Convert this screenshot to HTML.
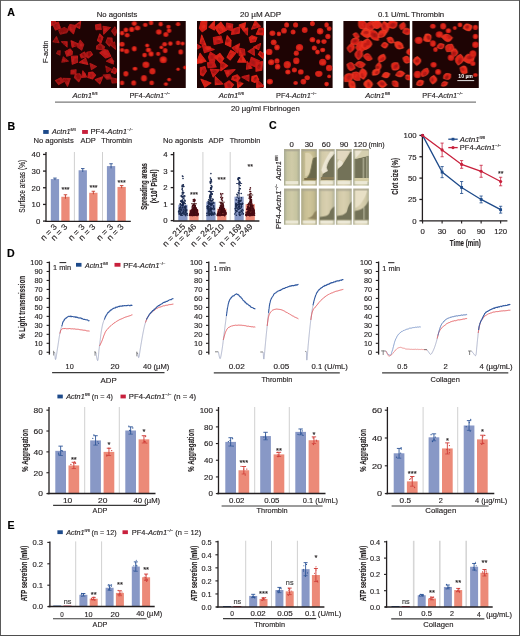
<!DOCTYPE html>
<html><head><meta charset="utf-8"><style>
html,body{margin:0;padding:0;background:#fff;width:520px;height:636px;overflow:hidden}
svg{display:block;will-change:transform}
text{font-family:"Liberation Sans", sans-serif}
</style></head><body>
<svg width="520" height="636" viewBox="0 0 520 636">
<rect x="0" y="0" width="520" height="636" fill="#fff"/>
<line x1="0.00" y1="0.50" x2="520.00" y2="0.50" stroke="#6c6c6c" stroke-width="1"/>
<line x1="0.50" y1="0.00" x2="0.50" y2="636.00" stroke="#5a5a5a" stroke-width="1"/>
<line x1="519.50" y1="0.00" x2="519.50" y2="636.00" stroke="#4e4e4e" stroke-width="1"/>
<line x1="0.00" y1="635.50" x2="520.00" y2="635.50" stroke="#4e4e4e" stroke-width="1"/>
<text x="7.20" y="16.00" font-size="10.6" fill="#000" stroke="#000" stroke-width="0.15" font-weight="bold">A</text>
<text x="7.60" y="129.80" font-size="10.6" fill="#000" stroke="#000" stroke-width="0.15" font-weight="bold">B</text>
<text x="268.90" y="129.00" font-size="10.6" fill="#000" stroke="#000" stroke-width="0.15" font-weight="bold">C</text>
<text x="7.00" y="257.00" font-size="10.6" fill="#000" stroke="#000" stroke-width="0.15" font-weight="bold">D</text>
<text x="7.60" y="528.90" font-size="10.6" fill="#000" stroke="#000" stroke-width="0.15" font-weight="bold">E</text>
<defs><filter id="blr" x="-5%" y="-5%" width="110%" height="110%"><feGaussianBlur stdDeviation="0.6"/></filter><filter id="blr2" x="-5%" y="-5%" width="110%" height="110%"><feGaussianBlur stdDeviation="0.8"/></filter></defs>
<defs><radialGradient id="rc"><stop offset="0" stop-color="#ee3a1e"/><stop offset="0.55" stop-color="#dc261a"/><stop offset="1" stop-color="#b81616"/></radialGradient><radialGradient id="sc"><stop offset="0" stop-color="#d82018"/><stop offset="0.7" stop-color="#c81818"/><stop offset="1" stop-color="#a81010"/></radialGradient></defs>
<svg x="51.00" y="21.00" width="66.00" height="67.00" viewBox="0 0 66.00 67.00" overflow="hidden"><rect width="66.00" height="67.00" fill="#1e0404"/><g filter="url(#blr)"><polygon points="-0.85,-4.78 4.04,-0.33 0.56,3.45 -5.79,-0.74" fill="#b41818" stroke="#b41818" stroke-width="1.1" stroke-linejoin="round" transform="translate(5.71 5.71) rotate(31)"/><ellipse cx="-0.53" cy="-0.46" rx="2.42" ry="1.73" fill="#7a0c0c" opacity="0.5" transform="translate(5.71 5.71) rotate(31)"/><ellipse cx="1.48" cy="-0.86" rx="2.55" ry="1.82" fill="#c82020" opacity="0.5" transform="translate(5.71 5.71) rotate(31)"/><polygon points="-1.61,2.94 -5.41,-0.21 -3.26,-2.72 3.21,-3.16 4.24,0.77" fill="#9c1414" stroke="#9c1414" stroke-width="1.1" stroke-linejoin="round" transform="translate(12.06 9.52) rotate(172)"/><ellipse cx="-1.58" cy="0.30" rx="2.46" ry="1.76" fill="#8a0e0e" opacity="0.5" transform="translate(12.06 9.52) rotate(172)"/><ellipse cx="1.41" cy="-0.21" rx="2.11" ry="1.51" fill="#7a0c0c" opacity="0.5" transform="translate(12.06 9.52) rotate(172)"/><polygon points="-2.57,-3.94 5.80,-1.69 0.40,3.93 -3.48,2.05" fill="#b41818" stroke="#b41818" stroke-width="1.1" stroke-linejoin="round" transform="translate(20.94 6.98) rotate(91)"/><ellipse cx="-0.68" cy="-0.15" rx="1.85" ry="1.32" fill="#8a0e0e" opacity="0.5" transform="translate(20.94 6.98) rotate(91)"/><ellipse cx="0.73" cy="0.61" rx="2.15" ry="1.53" fill="#c82020" opacity="0.5" transform="translate(20.94 6.98) rotate(91)"/><polygon points="4.04,0.75 -3.59,2.03 0.23,-3.88" fill="#bc1a1a" stroke="#bc1a1a" stroke-width="1.1" stroke-linejoin="round" transform="translate(27.28 3.81) rotate(155)"/><ellipse cx="0.06" cy="-0.53" rx="2.05" ry="1.46" fill="#8a0e0e" opacity="0.5" transform="translate(27.28 3.81) rotate(155)"/><ellipse cx="0.17" cy="-0.31" rx="1.34" ry="0.96" fill="#7a0c0c" opacity="0.5" transform="translate(27.28 3.81) rotate(155)"/><polygon points="3.31,1.20 -2.91,1.89 0.19,-3.81" fill="#9c1414" stroke="#9c1414" stroke-width="1.1" stroke-linejoin="round" transform="translate(5.08 19.04) rotate(130)"/><ellipse cx="1.22" cy="-0.93" rx="1.94" ry="1.38" fill="#7a0c0c" opacity="0.5" transform="translate(5.08 19.04) rotate(130)"/><ellipse cx="0.84" cy="0.75" rx="1.54" ry="1.10" fill="#7a0c0c" opacity="0.5" transform="translate(5.08 19.04) rotate(130)"/><polygon points="3.96,1.62 -3.68,0.93 0.83,-2.53" fill="#b41818" stroke="#b41818" stroke-width="1.1" stroke-linejoin="round" transform="translate(13.96 22.21) rotate(38)"/><ellipse cx="-0.11" cy="-0.48" rx="1.85" ry="1.32" fill="#c82020" opacity="0.5" transform="translate(13.96 22.21) rotate(38)"/><ellipse cx="-0.21" cy="0.51" rx="2.07" ry="1.48" fill="#7a0c0c" opacity="0.5" transform="translate(13.96 22.21) rotate(38)"/><polygon points="0.39,3.54 -4.98,-0.04 3.44,-3.74" fill="#bc1a1a" stroke="#bc1a1a" stroke-width="1.1" stroke-linejoin="round" transform="translate(23.48 23.48) rotate(47)"/><ellipse cx="1.76" cy="0.12" rx="1.85" ry="1.32" fill="#7a0c0c" opacity="0.5" transform="translate(23.48 23.48) rotate(47)"/><ellipse cx="0.55" cy="-0.58" rx="2.29" ry="1.63" fill="#8a0e0e" opacity="0.5" transform="translate(23.48 23.48) rotate(47)"/><polygon points="4.86,1.48 0.18,3.75 -4.67,-1.63 0.93,-2.88" fill="#a81616" stroke="#a81616" stroke-width="1.1" stroke-linejoin="round" transform="translate(29.82 24.11) rotate(63)"/><ellipse cx="0.57" cy="0.35" rx="1.34" ry="0.96" fill="#c82020" opacity="0.5" transform="translate(29.82 24.11) rotate(63)"/><ellipse cx="0.02" cy="-0.63" rx="1.67" ry="1.19" fill="#c82020" opacity="0.5" transform="translate(29.82 24.11) rotate(63)"/><polygon points="3.40,-2.28 2.72,2.71 -2.93,2.71 -3.81,-0.70 -1.88,-3.36" fill="#b41818" stroke="#b41818" stroke-width="1.1" stroke-linejoin="round" transform="translate(17.77 31.73) rotate(152)"/><ellipse cx="-1.37" cy="0.59" rx="2.06" ry="1.47" fill="#c82020" opacity="0.5" transform="translate(17.77 31.73) rotate(152)"/><ellipse cx="1.09" cy="-0.80" rx="1.65" ry="1.18" fill="#c82020" opacity="0.5" transform="translate(17.77 31.73) rotate(152)"/><polygon points="-1.57,3.08 -1.91,-2.32 4.24,0.10" fill="#9c1414" stroke="#9c1414" stroke-width="1.1" stroke-linejoin="round" transform="translate(13.32 38.71) rotate(19)"/><ellipse cx="-0.95" cy="0.79" rx="1.85" ry="1.32" fill="#8a0e0e" opacity="0.5" transform="translate(13.32 38.71) rotate(19)"/><ellipse cx="-0.33" cy="0.70" rx="1.60" ry="1.14" fill="#c82020" opacity="0.5" transform="translate(13.32 38.71) rotate(19)"/><polygon points="-0.09,5.02 -5.09,1.52 -1.16,-3.40 4.15,-1.61" fill="#bc1a1a" stroke="#bc1a1a" stroke-width="1.1" stroke-linejoin="round" transform="translate(23.48 39.34) rotate(141)"/><ellipse cx="1.14" cy="0.56" rx="1.97" ry="1.41" fill="#c82020" opacity="0.5" transform="translate(23.48 39.34) rotate(141)"/><ellipse cx="-0.88" cy="-1.08" rx="2.56" ry="1.83" fill="#8a0e0e" opacity="0.5" transform="translate(23.48 39.34) rotate(141)"/><polygon points="-2.83,-3.14 5.36,-0.11 -1.41,3.18" fill="#bc1a1a" stroke="#bc1a1a" stroke-width="1.1" stroke-linejoin="round" transform="translate(33.63 40.61) rotate(173)"/><ellipse cx="1.10" cy="-0.82" rx="1.92" ry="1.37" fill="#c82020" opacity="0.5" transform="translate(33.63 40.61) rotate(173)"/><ellipse cx="-0.57" cy="0.79" rx="2.07" ry="1.48" fill="#8a0e0e" opacity="0.5" transform="translate(33.63 40.61) rotate(173)"/><polygon points="2.74,1.97 -1.63,2.77 -3.32,-0.55 -0.99,-3.34 3.49,-0.13" fill="#b41818" stroke="#b41818" stroke-width="1.1" stroke-linejoin="round" transform="translate(38.07 33.63) rotate(107)"/><ellipse cx="0.05" cy="-0.04" rx="1.87" ry="1.33" fill="#8a0e0e" opacity="0.5" transform="translate(38.07 33.63) rotate(107)"/><ellipse cx="-1.19" cy="0.07" rx="2.20" ry="1.57" fill="#7a0c0c" opacity="0.5" transform="translate(38.07 33.63) rotate(107)"/><polygon points="-3.48,1.72 1.70,-3.10 2.79,2.60" fill="#a81616" stroke="#a81616" stroke-width="1.1" stroke-linejoin="round" transform="translate(41.88 45.05) rotate(69)"/><ellipse cx="-0.50" cy="0.44" rx="1.73" ry="1.24" fill="#8a0e0e" opacity="0.5" transform="translate(41.88 45.05) rotate(69)"/><ellipse cx="-0.98" cy="0.32" rx="1.58" ry="1.13" fill="#c82020" opacity="0.5" transform="translate(41.88 45.05) rotate(69)"/><polygon points="-0.89,3.82 -3.68,1.66 -2.24,-2.57 1.10,-3.05 4.85,1.45" fill="#a81616" stroke="#a81616" stroke-width="1.1" stroke-linejoin="round" transform="translate(27.28 55.84) rotate(67)"/><ellipse cx="-0.13" cy="0.26" rx="2.50" ry="1.78" fill="#8a0e0e" opacity="0.5" transform="translate(27.28 55.84) rotate(67)"/><ellipse cx="-0.31" cy="-0.39" rx="2.58" ry="1.84" fill="#8a0e0e" opacity="0.5" transform="translate(27.28 55.84) rotate(67)"/><polygon points="0.95,-3.37 3.26,1.25 -3.37,2.54" fill="#b41818" stroke="#b41818" stroke-width="1.1" stroke-linejoin="round" transform="translate(32.99 53.93) rotate(111)"/><ellipse cx="-0.57" cy="-0.03" rx="2.17" ry="1.55" fill="#c82020" opacity="0.5" transform="translate(32.99 53.93) rotate(111)"/><ellipse cx="-0.24" cy="-0.87" rx="1.58" ry="1.13" fill="#c82020" opacity="0.5" transform="translate(32.99 53.93) rotate(111)"/><polygon points="-0.54,-4.01 3.35,-1.05 1.95,3.71 -2.91,3.01 -3.44,-1.11" fill="#bc1a1a" stroke="#bc1a1a" stroke-width="1.1" stroke-linejoin="round" transform="translate(40.61 54.57) rotate(92)"/><ellipse cx="0.87" cy="0.24" rx="2.19" ry="1.56" fill="#c82020" opacity="0.5" transform="translate(40.61 54.57) rotate(92)"/><ellipse cx="0.10" cy="0.45" rx="1.89" ry="1.35" fill="#8a0e0e" opacity="0.5" transform="translate(40.61 54.57) rotate(92)"/><polygon points="4.47,2.26 -4.64,1.56 -0.27,-4.31" fill="#a81616" stroke="#a81616" stroke-width="1.1" stroke-linejoin="round" transform="translate(15.86 60.28) rotate(56)"/><ellipse cx="1.58" cy="0.01" rx="2.02" ry="1.44" fill="#c82020" opacity="0.5" transform="translate(15.86 60.28) rotate(56)"/><ellipse cx="-1.04" cy="0.14" rx="2.49" ry="1.78" fill="#8a0e0e" opacity="0.5" transform="translate(15.86 60.28) rotate(56)"/><polygon points="4.14,0.93 -1.12,3.92 -4.46,-0.21 0.91,-2.92" fill="#a81616" stroke="#a81616" stroke-width="1.1" stroke-linejoin="round" transform="translate(8.88 59.64) rotate(0)"/><ellipse cx="-0.96" cy="0.65" rx="1.59" ry="1.13" fill="#7a0c0c" opacity="0.5" transform="translate(8.88 59.64) rotate(0)"/><ellipse cx="-1.27" cy="-0.20" rx="1.43" ry="1.02" fill="#8a0e0e" opacity="0.5" transform="translate(8.88 59.64) rotate(0)"/><polygon points="2.64,-2.88 3.06,3.50 -4.39,0.39" fill="#b41818" stroke="#b41818" stroke-width="1.1" stroke-linejoin="round" transform="translate(48.86 59.01) rotate(137)"/><ellipse cx="0.77" cy="-0.06" rx="2.05" ry="1.46" fill="#7a0c0c" opacity="0.5" transform="translate(48.86 59.01) rotate(137)"/><ellipse cx="-1.30" cy="0.54" rx="1.51" ry="1.08" fill="#c82020" opacity="0.5" transform="translate(48.86 59.01) rotate(137)"/><polygon points="-0.46,2.65 -5.26,-0.65 1.09,-2.83 3.93,1.09" fill="#9c1414" stroke="#9c1414" stroke-width="1.1" stroke-linejoin="round" transform="translate(57.11 55.84) rotate(13)"/><ellipse cx="-0.65" cy="-0.13" rx="2.47" ry="1.77" fill="#c82020" opacity="0.5" transform="translate(57.11 55.84) rotate(13)"/><ellipse cx="-1.47" cy="0.83" rx="1.53" ry="1.09" fill="#c82020" opacity="0.5" transform="translate(57.11 55.84) rotate(13)"/><polygon points="-2.50,-2.11 1.70,-2.29 2.73,2.96 -2.81,1.82" fill="#9c1414" stroke="#9c1414" stroke-width="1.1" stroke-linejoin="round" transform="translate(62.82 59.64) rotate(177)"/><ellipse cx="-1.22" cy="-0.71" rx="2.05" ry="1.47" fill="#8a0e0e" opacity="0.5" transform="translate(62.82 59.64) rotate(177)"/><ellipse cx="0.96" cy="0.44" rx="2.04" ry="1.46" fill="#7a0c0c" opacity="0.5" transform="translate(62.82 59.64) rotate(177)"/><polygon points="0.09,-3.37 3.74,0.71 -0.32,3.94 -3.57,0.46" fill="#bc1a1a" stroke="#bc1a1a" stroke-width="1.1" stroke-linejoin="round" transform="translate(47.59 5.71) rotate(36)"/><ellipse cx="-0.52" cy="-0.11" rx="1.78" ry="1.27" fill="#7a0c0c" opacity="0.5" transform="translate(47.59 5.71) rotate(36)"/><ellipse cx="-0.73" cy="-0.30" rx="1.68" ry="1.20" fill="#c82020" opacity="0.5" transform="translate(47.59 5.71) rotate(36)"/><polygon points="-4.55,-2.52 4.85,-1.79 -0.52,3.80" fill="#b41818" stroke="#b41818" stroke-width="1.1" stroke-linejoin="round" transform="translate(54.57 8.25) rotate(131)"/><ellipse cx="0.27" cy="0.16" rx="1.83" ry="1.31" fill="#c82020" opacity="0.5" transform="translate(54.57 8.25) rotate(131)"/><ellipse cx="0.36" cy="0.13" rx="1.97" ry="1.41" fill="#c82020" opacity="0.5" transform="translate(54.57 8.25) rotate(131)"/><polygon points="0.63,-2.55 5.06,-0.90 0.82,2.82 -3.65,-0.19" fill="#9c1414" stroke="#9c1414" stroke-width="1.1" stroke-linejoin="round" transform="translate(63.45 9.52) rotate(95)"/><ellipse cx="-1.08" cy="-0.05" rx="1.51" ry="1.08" fill="#7a0c0c" opacity="0.5" transform="translate(63.45 9.52) rotate(95)"/><ellipse cx="0.17" cy="0.40" rx="1.76" ry="1.26" fill="#8a0e0e" opacity="0.5" transform="translate(63.45 9.52) rotate(95)"/><polygon points="-4.19,0.69 -0.74,-2.51 4.90,-0.35 2.30,3.04" fill="#bc1a1a" stroke="#bc1a1a" stroke-width="1.1" stroke-linejoin="round" transform="translate(49.49 17.13) rotate(89)"/><ellipse cx="0.19" cy="0.43" rx="1.51" ry="1.08" fill="#7a0c0c" opacity="0.5" transform="translate(49.49 17.13) rotate(89)"/><ellipse cx="0.49" cy="0.76" rx="2.24" ry="1.60" fill="#8a0e0e" opacity="0.5" transform="translate(49.49 17.13) rotate(89)"/><polygon points="2.44,-3.29 4.98,0.27 0.56,2.94 -3.66,0.36 -2.60,-3.83" fill="#a81616" stroke="#a81616" stroke-width="1.1" stroke-linejoin="round" transform="translate(57.74 20.30) rotate(79)"/><ellipse cx="0.12" cy="0.10" rx="2.41" ry="1.72" fill="#8a0e0e" opacity="0.5" transform="translate(57.74 20.30) rotate(79)"/><ellipse cx="0.73" cy="-0.83" rx="2.55" ry="1.82" fill="#8a0e0e" opacity="0.5" transform="translate(57.74 20.30) rotate(79)"/><polygon points="-3.61,2.25 -1.66,-2.71 4.17,1.72" fill="#9c1414" stroke="#9c1414" stroke-width="1.1" stroke-linejoin="round" transform="translate(62.82 24.11) rotate(45)"/><ellipse cx="-0.84" cy="-0.16" rx="2.13" ry="1.52" fill="#8a0e0e" opacity="0.5" transform="translate(62.82 24.11) rotate(45)"/><ellipse cx="0.19" cy="-0.35" rx="1.40" ry="1.00" fill="#8a0e0e" opacity="0.5" transform="translate(62.82 24.11) rotate(45)"/><polygon points="-0.88,-3.54 4.43,-1.62 4.40,1.74 -2.67,2.80 -3.40,0.11" fill="#a81616" stroke="#a81616" stroke-width="1.1" stroke-linejoin="round" transform="translate(48.86 26.02) rotate(18)"/><ellipse cx="-0.43" cy="-0.89" rx="1.93" ry="1.38" fill="#8a0e0e" opacity="0.5" transform="translate(48.86 26.02) rotate(18)"/><ellipse cx="0.50" cy="0.55" rx="1.96" ry="1.40" fill="#7a0c0c" opacity="0.5" transform="translate(48.86 26.02) rotate(18)"/><polygon points="-1.94,-3.39 1.47,-3.44 5.72,1.93 1.01,4.50 -5.75,0.51" fill="#bc1a1a" stroke="#bc1a1a" stroke-width="1.1" stroke-linejoin="round" transform="translate(54.57 32.36) rotate(11)"/><ellipse cx="0.07" cy="0.31" rx="2.18" ry="1.56" fill="#c82020" opacity="0.5" transform="translate(54.57 32.36) rotate(11)"/><ellipse cx="-1.54" cy="-0.72" rx="2.21" ry="1.58" fill="#c82020" opacity="0.5" transform="translate(54.57 32.36) rotate(11)"/><polygon points="-3.84,2.84 -1.48,-2.97 3.45,1.34" fill="#a81616" stroke="#a81616" stroke-width="1.1" stroke-linejoin="round" transform="translate(60.28 39.97) rotate(34)"/><ellipse cx="1.01" cy="-0.73" rx="2.06" ry="1.47" fill="#c82020" opacity="0.5" transform="translate(60.28 39.97) rotate(34)"/><ellipse cx="0.61" cy="-0.03" rx="2.40" ry="1.72" fill="#c82020" opacity="0.5" transform="translate(60.28 39.97) rotate(34)"/><polygon points="-3.15,-1.58 3.28,-2.19 1.33,2.79" fill="#9c1414" stroke="#9c1414" stroke-width="1.1" stroke-linejoin="round" transform="translate(56.47 48.22) rotate(34)"/><ellipse cx="0.29" cy="0.75" rx="1.98" ry="1.42" fill="#8a0e0e" opacity="0.5" transform="translate(56.47 48.22) rotate(34)"/><ellipse cx="0.87" cy="-0.89" rx="2.25" ry="1.61" fill="#8a0e0e" opacity="0.5" transform="translate(56.47 48.22) rotate(34)"/><polygon points="2.44,-2.10 2.93,2.06 -2.33,2.00 -2.08,-2.51" fill="#bc1a1a" stroke="#bc1a1a" stroke-width="1.1" stroke-linejoin="round" transform="translate(63.45 49.49) rotate(119)"/><ellipse cx="-0.53" cy="0.68" rx="1.86" ry="1.33" fill="#8a0e0e" opacity="0.5" transform="translate(63.45 49.49) rotate(119)"/><ellipse cx="0.80" cy="0.32" rx="1.73" ry="1.24" fill="#8a0e0e" opacity="0.5" transform="translate(63.45 49.49) rotate(119)"/><polygon points="1.59,-2.45 2.49,1.45 -2.11,2.92 -3.04,-0.51" fill="#b41818" stroke="#b41818" stroke-width="1.1" stroke-linejoin="round" transform="translate(22.84 50.76) rotate(17)"/><ellipse cx="0.65" cy="-0.52" rx="1.45" ry="1.03" fill="#8a0e0e" opacity="0.5" transform="translate(22.84 50.76) rotate(17)"/><ellipse cx="0.15" cy="-0.39" rx="1.49" ry="1.06" fill="#c82020" opacity="0.5" transform="translate(22.84 50.76) rotate(17)"/><polygon points="3.61,-1.49 0.53,3.37 -2.70,1.95 -1.39,-3.10" fill="#b41818" stroke="#b41818" stroke-width="1.1" stroke-linejoin="round" transform="translate(32.36 34.26) rotate(45)"/><ellipse cx="-1.00" cy="-0.64" rx="1.51" ry="1.08" fill="#8a0e0e" opacity="0.5" transform="translate(32.36 34.26) rotate(45)"/><ellipse cx="0.40" cy="0.03" rx="1.60" ry="1.14" fill="#8a0e0e" opacity="0.5" transform="translate(32.36 34.26) rotate(45)"/><polygon points="-2.93,-0.53 0.33,-2.18 3.87,0.23 -0.02,2.37" fill="#bc1a1a" stroke="#bc1a1a" stroke-width="1.1" stroke-linejoin="round" transform="translate(2.54 1.27) rotate(117)"/><ellipse cx="0.23" cy="-0.44" rx="1.69" ry="1.21" fill="#c82020" opacity="0.5" transform="translate(2.54 1.27) rotate(117)"/><ellipse cx="0.29" cy="-0.47" rx="1.37" ry="0.98" fill="#7a0c0c" opacity="0.5" transform="translate(2.54 1.27) rotate(117)"/><polygon points="2.29,1.40 -1.30,1.77 -1.62,-1.12 0.41,-2.45" fill="#9c1414" stroke="#9c1414" stroke-width="1.1" stroke-linejoin="round" transform="translate(7.61 31.73) rotate(30)"/><ellipse cx="0.07" cy="0.05" rx="1.07" ry="0.77" fill="#8a0e0e" opacity="0.5" transform="translate(7.61 31.73) rotate(30)"/><ellipse cx="-0.80" cy="-0.37" rx="1.07" ry="0.76" fill="#8a0e0e" opacity="0.5" transform="translate(7.61 31.73) rotate(30)"/></g></svg>
<svg x="119.50" y="21.00" width="66.50" height="67.00" viewBox="0 0 66.50 67.00" overflow="hidden"><rect width="66.50" height="67.00" fill="#1e0404"/><g filter="url(#blr)"><ellipse cx="14.8" cy="2.6" rx="2.6" ry="2.3" fill="url(#rc)"/><ellipse cx="15.4" cy="3.1" rx="1.2" ry="0.9" fill="#e83420" opacity="0.4"/><ellipse cx="12.2" cy="8.4" rx="2.6" ry="2.7" fill="url(#rc)"/><ellipse cx="12.4" cy="8.9" rx="1.2" ry="1.1" fill="#e83420" opacity="0.4"/><ellipse cx="18.0" cy="7.1" rx="2.9" ry="2.5" fill="url(#rc)"/><ellipse cx="18.6" cy="6.6" rx="1.3" ry="1.0" fill="#c01818" opacity="0.4"/><ellipse cx="6.4" cy="9.0" rx="2.4" ry="2.4" fill="url(#rc)"/><ellipse cx="6.5" cy="8.7" rx="1.1" ry="1.0" fill="#e83420" opacity="0.4"/><ellipse cx="2.6" cy="12.2" rx="2.2" ry="2.4" fill="url(#rc)"/><ellipse cx="2.5" cy="11.7" rx="1.0" ry="1.0" fill="#e83420" opacity="0.4"/><ellipse cx="7.7" cy="14.2" rx="2.5" ry="2.3" fill="url(#rc)"/><ellipse cx="8.1" cy="14.4" rx="1.1" ry="0.9" fill="#b01414" opacity="0.4"/><ellipse cx="25.8" cy="3.9" rx="2.4" ry="2.1" fill="url(#rc)"/><ellipse cx="26.1" cy="3.5" rx="1.1" ry="0.9" fill="#c01818" opacity="0.4"/><ellipse cx="31.6" cy="1.9" rx="2.3" ry="2.3" fill="url(#rc)"/><ellipse cx="31.0" cy="1.9" rx="1.0" ry="0.9" fill="#b01414" opacity="0.4"/><ellipse cx="41.2" cy="3.2" rx="2.2" ry="2.4" fill="url(#rc)"/><ellipse cx="41.1" cy="3.1" rx="1.0" ry="1.0" fill="#e83420" opacity="0.4"/><ellipse cx="49.0" cy="5.8" rx="2.3" ry="2.1" fill="url(#rc)"/><ellipse cx="48.4" cy="5.4" rx="1.1" ry="0.8" fill="#c01818" opacity="0.4"/><ellipse cx="49.6" cy="9.7" rx="2.4" ry="2.2" fill="url(#rc)"/><ellipse cx="50.2" cy="10.1" rx="1.1" ry="0.9" fill="#b01414" opacity="0.4"/><ellipse cx="58.6" cy="3.2" rx="2.3" ry="2.1" fill="url(#rc)"/><ellipse cx="59.0" cy="3.2" rx="1.1" ry="0.8" fill="#c01818" opacity="0.4"/><ellipse cx="39.3" cy="11.0" rx="2.9" ry="2.8" fill="url(#rc)"/><ellipse cx="38.7" cy="10.5" rx="1.3" ry="1.1" fill="#c01818" opacity="0.4"/><ellipse cx="46.4" cy="13.5" rx="2.6" ry="2.5" fill="url(#rc)"/><ellipse cx="46.6" cy="13.5" rx="1.2" ry="1.0" fill="#c01818" opacity="0.4"/><ellipse cx="2.6" cy="23.2" rx="2.6" ry="2.5" fill="url(#rc)"/><ellipse cx="2.7" cy="23.1" rx="1.2" ry="1.0" fill="#b01414" opacity="0.4"/><ellipse cx="7.1" cy="30.3" rx="2.6" ry="2.5" fill="url(#rc)"/><ellipse cx="7.4" cy="30.6" rx="1.2" ry="1.0" fill="#b01414" opacity="0.4"/><ellipse cx="14.8" cy="27.7" rx="2.5" ry="2.7" fill="url(#rc)"/><ellipse cx="14.4" cy="28.3" rx="1.1" ry="1.1" fill="#e83420" opacity="0.4"/><ellipse cx="2.6" cy="29.0" rx="2.3" ry="2.0" fill="url(#rc)"/><ellipse cx="2.6" cy="29.2" rx="1.0" ry="0.8" fill="#e83420" opacity="0.4"/><ellipse cx="27.7" cy="24.5" rx="2.1" ry="1.9" fill="url(#rc)"/><ellipse cx="27.9" cy="24.3" rx="0.9" ry="0.8" fill="#e83420" opacity="0.4"/><ellipse cx="29.0" cy="29.0" rx="2.7" ry="2.3" fill="url(#rc)"/><ellipse cx="28.6" cy="28.5" rx="1.2" ry="0.9" fill="#e83420" opacity="0.4"/><ellipse cx="25.1" cy="34.1" rx="2.4" ry="2.4" fill="url(#rc)"/><ellipse cx="25.7" cy="33.8" rx="1.1" ry="0.9" fill="#c01818" opacity="0.4"/><ellipse cx="31.6" cy="32.9" rx="2.6" ry="2.7" fill="url(#rc)"/><ellipse cx="31.5" cy="32.9" rx="1.2" ry="1.1" fill="#e83420" opacity="0.4"/><ellipse cx="38.7" cy="32.9" rx="2.2" ry="2.1" fill="url(#rc)"/><ellipse cx="38.9" cy="32.9" rx="1.0" ry="0.9" fill="#b01414" opacity="0.4"/><ellipse cx="41.9" cy="26.4" rx="2.0" ry="1.8" fill="url(#rc)"/><ellipse cx="41.4" cy="26.2" rx="0.9" ry="0.7" fill="#e83420" opacity="0.4"/><ellipse cx="45.1" cy="23.2" rx="2.5" ry="2.2" fill="url(#rc)"/><ellipse cx="44.6" cy="22.9" rx="1.1" ry="0.9" fill="#c01818" opacity="0.4"/><ellipse cx="45.7" cy="29.6" rx="2.4" ry="2.6" fill="url(#rc)"/><ellipse cx="45.3" cy="29.2" rx="1.1" ry="1.0" fill="#c01818" opacity="0.4"/><ellipse cx="50.9" cy="22.6" rx="2.3" ry="2.3" fill="url(#rc)"/><ellipse cx="51.1" cy="22.8" rx="1.0" ry="0.9" fill="#e83420" opacity="0.4"/><ellipse cx="58.6" cy="21.9" rx="2.3" ry="2.3" fill="url(#rc)"/><ellipse cx="58.3" cy="21.9" rx="1.0" ry="0.9" fill="#b01414" opacity="0.4"/><ellipse cx="63.1" cy="22.6" rx="2.0" ry="2.1" fill="url(#rc)"/><ellipse cx="63.4" cy="22.2" rx="0.9" ry="0.8" fill="#e83420" opacity="0.4"/><ellipse cx="61.2" cy="30.9" rx="2.4" ry="2.7" fill="url(#rc)"/><ellipse cx="61.5" cy="30.6" rx="1.1" ry="1.1" fill="#b01414" opacity="0.4"/><ellipse cx="43.8" cy="38.7" rx="3.7" ry="3.5" fill="url(#rc)"/><ellipse cx="43.7" cy="38.9" rx="1.7" ry="1.4" fill="#e83420" opacity="0.4"/><ellipse cx="26.4" cy="43.8" rx="3.5" ry="3.2" fill="url(#rc)"/><ellipse cx="25.9" cy="44.3" rx="1.6" ry="1.3" fill="#b01414" opacity="0.4"/><ellipse cx="15.5" cy="47.7" rx="2.5" ry="2.0" fill="url(#rc)"/><ellipse cx="15.4" cy="47.6" rx="1.1" ry="0.8" fill="#e83420" opacity="0.4"/><ellipse cx="32.9" cy="50.3" rx="3.1" ry="3.2" fill="url(#rc)"/><ellipse cx="32.8" cy="50.6" rx="1.4" ry="1.3" fill="#b01414" opacity="0.4"/><ellipse cx="6.4" cy="52.8" rx="2.6" ry="2.8" fill="url(#rc)"/><ellipse cx="6.2" cy="53.0" rx="1.2" ry="1.1" fill="#b01414" opacity="0.4"/><ellipse cx="24.5" cy="57.3" rx="3.0" ry="3.2" fill="url(#rc)"/><ellipse cx="24.4" cy="57.4" rx="1.4" ry="1.3" fill="#c01818" opacity="0.4"/><ellipse cx="2.6" cy="61.9" rx="2.2" ry="2.4" fill="url(#rc)"/><ellipse cx="2.5" cy="61.6" rx="1.0" ry="0.9" fill="#c01818" opacity="0.4"/><ellipse cx="14.2" cy="61.9" rx="2.5" ry="2.6" fill="url(#rc)"/><ellipse cx="14.2" cy="62.4" rx="1.1" ry="1.0" fill="#b01414" opacity="0.4"/><ellipse cx="32.2" cy="61.9" rx="2.4" ry="2.3" fill="url(#rc)"/><ellipse cx="32.5" cy="62.0" rx="1.1" ry="0.9" fill="#b01414" opacity="0.4"/><ellipse cx="46.4" cy="63.1" rx="2.2" ry="1.9" fill="url(#rc)"/><ellipse cx="46.0" cy="63.7" rx="1.0" ry="0.8" fill="#b01414" opacity="0.4"/><ellipse cx="49.6" cy="58.6" rx="2.0" ry="1.9" fill="url(#rc)"/><ellipse cx="49.8" cy="59.1" rx="0.9" ry="0.8" fill="#c01818" opacity="0.4"/><ellipse cx="58.6" cy="48.3" rx="1.8" ry="1.8" fill="url(#rc)"/><ellipse cx="58.4" cy="48.8" rx="0.8" ry="0.7" fill="#c01818" opacity="0.4"/><ellipse cx="65.7" cy="46.4" rx="2.1" ry="2.0" fill="url(#rc)"/><ellipse cx="65.3" cy="45.9" rx="0.9" ry="0.8" fill="#c01818" opacity="0.4"/></g></svg>
<svg x="197.00" y="21.00" width="66.50" height="67.00" viewBox="0 0 66.50 67.00" overflow="hidden"><rect width="66.50" height="67.00" fill="#1e0404"/><g filter="url(#blr)"><polygon points="2.95,3.64 -4.92,3.06 -5.50,-2.51 2.13,-3.46 5.68,0.28" fill="#d42018" stroke="#d42018" stroke-width="1.1" stroke-linejoin="round" transform="translate(6.44 5.15) rotate(100)"/><ellipse cx="0.04" cy="-1.02" rx="1.68" ry="1.20" fill="#e82c1e" opacity="0.5" transform="translate(6.44 5.15) rotate(100)"/><ellipse cx="0.42" cy="-0.14" rx="2.17" ry="1.55" fill="#e82c1e" opacity="0.5" transform="translate(6.44 5.15) rotate(100)"/><polygon points="1.28,3.74 -4.29,-2.41 4.68,-1.57" fill="#d42018" stroke="#d42018" stroke-width="1.1" stroke-linejoin="round" transform="translate(15.46 4.51) rotate(86)"/><ellipse cx="-0.35" cy="0.95" rx="1.68" ry="1.20" fill="#e82c1e" opacity="0.5" transform="translate(15.46 4.51) rotate(86)"/><ellipse cx="-1.46" cy="-0.61" rx="1.81" ry="1.30" fill="#e82c1e" opacity="0.5" transform="translate(15.46 4.51) rotate(86)"/><polygon points="-4.81,-4.40 4.87,-3.43 3.05,4.70 -4.94,3.73" fill="#dc2418" stroke="#dc2418" stroke-width="1.1" stroke-linejoin="round" transform="translate(23.84 7.73) rotate(48)"/><ellipse cx="0.40" cy="1.14" rx="2.30" ry="1.64" fill="#9a1010" opacity="0.5" transform="translate(23.84 7.73) rotate(48)"/><ellipse cx="0.11" cy="-0.28" rx="2.64" ry="1.88" fill="#e82c1e" opacity="0.5" transform="translate(23.84 7.73) rotate(48)"/><polygon points="-1.09,-5.33 4.11,-1.47 1.33,3.79 -3.98,0.55" fill="#c41a16" stroke="#c41a16" stroke-width="1.1" stroke-linejoin="round" transform="translate(32.22 5.15) rotate(159)"/><ellipse cx="0.31" cy="0.08" rx="1.53" ry="1.09" fill="#e82c1e" opacity="0.5" transform="translate(32.22 5.15) rotate(159)"/><ellipse cx="-0.34" cy="-0.91" rx="1.64" ry="1.17" fill="#e82c1e" opacity="0.5" transform="translate(32.22 5.15) rotate(159)"/><polygon points="-0.48,-4.35 5.46,0.67 1.46,3.33 -5.73,-0.56" fill="#cc1c18" stroke="#cc1c18" stroke-width="1.1" stroke-linejoin="round" transform="translate(38.66 9.66) rotate(131)"/><ellipse cx="0.24" cy="-0.66" rx="2.26" ry="1.62" fill="#9a1010" opacity="0.5" transform="translate(38.66 9.66) rotate(131)"/><ellipse cx="-1.36" cy="-0.75" rx="2.31" ry="1.65" fill="#a01212" opacity="0.5" transform="translate(38.66 9.66) rotate(131)"/><polygon points="-2.48,-3.64 5.13,0.05 -2.02,3.09" fill="#dc2418" stroke="#dc2418" stroke-width="1.1" stroke-linejoin="round" transform="translate(45.75 5.15) rotate(73)"/><ellipse cx="0.94" cy="-0.45" rx="2.06" ry="1.47" fill="#e82c1e" opacity="0.5" transform="translate(45.75 5.15) rotate(73)"/><ellipse cx="1.03" cy="-0.87" rx="1.52" ry="1.09" fill="#e82c1e" opacity="0.5" transform="translate(45.75 5.15) rotate(73)"/><polygon points="3.64,-1.22 -2.14,3.38 -3.20,-1.92" fill="#d42018" stroke="#d42018" stroke-width="1.1" stroke-linejoin="round" transform="translate(48.97 10.31) rotate(87)"/><ellipse cx="-1.48" cy="0.18" rx="1.61" ry="1.15" fill="#e82c1e" opacity="0.5" transform="translate(48.97 10.31) rotate(87)"/><ellipse cx="1.28" cy="-0.03" rx="2.21" ry="1.58" fill="#8a0e0e" opacity="0.5" transform="translate(48.97 10.31) rotate(87)"/><polygon points="-0.19,4.71 -4.64,-1.47 4.50,-3.25" fill="#cc1c18" stroke="#cc1c18" stroke-width="1.1" stroke-linejoin="round" transform="translate(58.63 4.51) rotate(173)"/><ellipse cx="0.90" cy="-0.80" rx="1.78" ry="1.27" fill="#8a0e0e" opacity="0.5" transform="translate(58.63 4.51) rotate(173)"/><ellipse cx="1.05" cy="0.50" rx="1.64" ry="1.17" fill="#e82c1e" opacity="0.5" transform="translate(58.63 4.51) rotate(173)"/><polygon points="-0.39,3.39 -4.77,0.93 -1.31,-4.68 4.72,-1.16" fill="#d42018" stroke="#d42018" stroke-width="1.1" stroke-linejoin="round" transform="translate(63.14 10.31) rotate(156)"/><ellipse cx="-0.95" cy="-0.88" rx="1.98" ry="1.41" fill="#9a1010" opacity="0.5" transform="translate(63.14 10.31) rotate(156)"/><ellipse cx="-0.49" cy="0.08" rx="2.00" ry="1.43" fill="#8a0e0e" opacity="0.5" transform="translate(63.14 10.31) rotate(156)"/><polygon points="4.28,-2.57 1.14,2.93 -6.66,0.08" fill="#dc2418" stroke="#dc2418" stroke-width="1.1" stroke-linejoin="round" transform="translate(5.80 20.62) rotate(81)"/><ellipse cx="-0.41" cy="-0.12" rx="1.97" ry="1.41" fill="#a01212" opacity="0.5" transform="translate(5.80 20.62) rotate(81)"/><ellipse cx="1.82" cy="0.93" rx="2.16" ry="1.54" fill="#9a1010" opacity="0.5" transform="translate(5.80 20.62) rotate(81)"/><polygon points="3.46,-3.55 4.51,4.41 -6.79,-1.65" fill="#c41a16" stroke="#c41a16" stroke-width="1.1" stroke-linejoin="round" transform="translate(10.31 27.71) rotate(172)"/><ellipse cx="-0.93" cy="0.67" rx="3.07" ry="2.19" fill="#e82c1e" opacity="0.5" transform="translate(10.31 27.71) rotate(172)"/><ellipse cx="-1.66" cy="0.64" rx="2.58" ry="1.84" fill="#e82c1e" opacity="0.5" transform="translate(10.31 27.71) rotate(172)"/><polygon points="-5.02,-2.43 3.74,-3.83 4.13,3.01 -3.63,4.15" fill="#c41a16" stroke="#c41a16" stroke-width="1.1" stroke-linejoin="round" transform="translate(20.62 19.33) rotate(176)"/><ellipse cx="-1.74" cy="0.99" rx="2.02" ry="1.45" fill="#e82c1e" opacity="0.5" transform="translate(20.62 19.33) rotate(176)"/><ellipse cx="-0.61" cy="-1.01" rx="1.92" ry="1.37" fill="#8a0e0e" opacity="0.5" transform="translate(20.62 19.33) rotate(176)"/><polygon points="5.41,-2.36 2.36,2.80 -5.94,0.27 -0.98,-3.20" fill="#dc2418" stroke="#dc2418" stroke-width="1.1" stroke-linejoin="round" transform="translate(30.93 20.62) rotate(85)"/><ellipse cx="-1.23" cy="-0.67" rx="1.88" ry="1.35" fill="#a01212" opacity="0.5" transform="translate(30.93 20.62) rotate(85)"/><ellipse cx="-0.65" cy="0.79" rx="1.79" ry="1.28" fill="#8a0e0e" opacity="0.5" transform="translate(30.93 20.62) rotate(85)"/><polygon points="4.43,-1.88 1.19,4.71 -4.91,-1.29" fill="#cc1c18" stroke="#cc1c18" stroke-width="1.1" stroke-linejoin="round" transform="translate(39.95 27.06) rotate(107)"/><ellipse cx="0.90" cy="1.09" rx="2.45" ry="1.75" fill="#9a1010" opacity="0.5" transform="translate(39.95 27.06) rotate(107)"/><ellipse cx="-0.72" cy="0.33" rx="2.42" ry="1.73" fill="#e82c1e" opacity="0.5" transform="translate(39.95 27.06) rotate(107)"/><polygon points="4.83,-1.80 3.21,3.77 -4.34,1.52 -0.66,-3.49" fill="#c41a16" stroke="#c41a16" stroke-width="1.1" stroke-linejoin="round" transform="translate(44.46 30.28) rotate(66)"/><ellipse cx="0.11" cy="0.72" rx="1.98" ry="1.42" fill="#e82c1e" opacity="0.5" transform="translate(44.46 30.28) rotate(66)"/><ellipse cx="0.03" cy="-1.06" rx="2.31" ry="1.65" fill="#9a1010" opacity="0.5" transform="translate(44.46 30.28) rotate(66)"/><polygon points="3.93,-2.56 4.09,2.25 0.92,3.69 -3.47,0.70 -1.04,-2.73" fill="#d42018" stroke="#d42018" stroke-width="1.1" stroke-linejoin="round" transform="translate(56.70 18.04) rotate(167)"/><ellipse cx="0.13" cy="-0.68" rx="1.79" ry="1.28" fill="#9a1010" opacity="0.5" transform="translate(56.70 18.04) rotate(167)"/><ellipse cx="-0.06" cy="0.75" rx="1.89" ry="1.35" fill="#e82c1e" opacity="0.5" transform="translate(56.70 18.04) rotate(167)"/><polygon points="-0.24,-3.00 4.02,0.72 -3.85,2.17" fill="#d42018" stroke="#d42018" stroke-width="1.1" stroke-linejoin="round" transform="translate(60.57 25.77) rotate(163)"/><ellipse cx="-1.06" cy="-0.82" rx="2.03" ry="1.45" fill="#8a0e0e" opacity="0.5" transform="translate(60.57 25.77) rotate(163)"/><ellipse cx="-1.45" cy="0.88" rx="1.97" ry="1.40" fill="#a01212" opacity="0.5" transform="translate(60.57 25.77) rotate(163)"/><polygon points="-0.17,4.30 -4.42,-1.39 3.14,-2.18" fill="#c41a16" stroke="#c41a16" stroke-width="1.1" stroke-linejoin="round" transform="translate(55.41 30.93) rotate(93)"/><ellipse cx="0.50" cy="0.27" rx="1.61" ry="1.15" fill="#a01212" opacity="0.5" transform="translate(55.41 30.93) rotate(93)"/><ellipse cx="-0.47" cy="0.27" rx="2.21" ry="1.58" fill="#9a1010" opacity="0.5" transform="translate(55.41 30.93) rotate(93)"/><polygon points="-4.30,4.82 -1.28,-4.63 6.32,2.09" fill="#dc2418" stroke="#dc2418" stroke-width="1.1" stroke-linejoin="round" transform="translate(4.51 38.66) rotate(125)"/><ellipse cx="1.32" cy="-1.10" rx="2.47" ry="1.77" fill="#e82c1e" opacity="0.5" transform="translate(4.51 38.66) rotate(125)"/><ellipse cx="1.77" cy="0.20" rx="2.59" ry="1.85" fill="#e82c1e" opacity="0.5" transform="translate(4.51 38.66) rotate(125)"/><polygon points="3.94,-2.30 5.16,1.93 -0.85,3.32 -5.72,1.00 -1.84,-4.27" fill="#c41a16" stroke="#c41a16" stroke-width="1.1" stroke-linejoin="round" transform="translate(14.82 36.73) rotate(86)"/><ellipse cx="-1.39" cy="-0.04" rx="2.03" ry="1.45" fill="#e82c1e" opacity="0.5" transform="translate(14.82 36.73) rotate(86)"/><ellipse cx="-1.00" cy="-0.04" rx="2.09" ry="1.49" fill="#8a0e0e" opacity="0.5" transform="translate(14.82 36.73) rotate(86)"/><polygon points="-3.89,-3.18 2.62,-3.42 4.31,1.94 -3.82,3.21" fill="#dc2418" stroke="#dc2418" stroke-width="1.1" stroke-linejoin="round" transform="translate(22.55 37.37) rotate(54)"/><ellipse cx="1.15" cy="0.48" rx="2.33" ry="1.66" fill="#e82c1e" opacity="0.5" transform="translate(22.55 37.37) rotate(54)"/><ellipse cx="0.83" cy="0.29" rx="2.18" ry="1.56" fill="#9a1010" opacity="0.5" transform="translate(22.55 37.37) rotate(54)"/><polygon points="-3.94,-3.98 4.55,-1.73 3.35,2.34 -4.51,1.64" fill="#d42018" stroke="#d42018" stroke-width="1.1" stroke-linejoin="round" transform="translate(33.51 34.15) rotate(113)"/><ellipse cx="0.29" cy="0.06" rx="2.34" ry="1.67" fill="#a01212" opacity="0.5" transform="translate(33.51 34.15) rotate(113)"/><ellipse cx="0.58" cy="-0.81" rx="2.09" ry="1.49" fill="#e82c1e" opacity="0.5" transform="translate(33.51 34.15) rotate(113)"/><polygon points="6.24,-0.91 -2.63,3.44 -1.34,-4.83" fill="#d42018" stroke="#d42018" stroke-width="1.1" stroke-linejoin="round" transform="translate(25.77 43.81) rotate(117)"/><ellipse cx="0.66" cy="-0.78" rx="2.22" ry="1.59" fill="#8a0e0e" opacity="0.5" transform="translate(25.77 43.81) rotate(117)"/><ellipse cx="0.94" cy="0.89" rx="2.01" ry="1.44" fill="#9a1010" opacity="0.5" transform="translate(25.77 43.81) rotate(117)"/><polygon points="-3.28,2.19 -4.63,-2.84 3.49,-2.45 3.45,2.57" fill="#c41a16" stroke="#c41a16" stroke-width="1.1" stroke-linejoin="round" transform="translate(14.18 43.81) rotate(172)"/><ellipse cx="0.65" cy="0.05" rx="1.97" ry="1.41" fill="#a01212" opacity="0.5" transform="translate(14.18 43.81) rotate(172)"/><ellipse cx="1.10" cy="-0.65" rx="1.64" ry="1.17" fill="#9a1010" opacity="0.5" transform="translate(14.18 43.81) rotate(172)"/><polygon points="1.47,4.85 -4.85,-0.80 3.44,-3.63" fill="#dc2418" stroke="#dc2418" stroke-width="1.1" stroke-linejoin="round" transform="translate(45.10 38.66) rotate(78)"/><ellipse cx="-0.94" cy="0.82" rx="1.69" ry="1.21" fill="#9a1010" opacity="0.5" transform="translate(45.10 38.66) rotate(78)"/><ellipse cx="0.58" cy="-1.23" rx="2.03" ry="1.45" fill="#e82c1e" opacity="0.5" transform="translate(45.10 38.66) rotate(78)"/><polygon points="-0.44,4.97 -5.39,-0.63 1.85,-5.59 5.14,0.74" fill="#c41a16" stroke="#c41a16" stroke-width="1.1" stroke-linejoin="round" transform="translate(56.70 41.24) rotate(57)"/><ellipse cx="0.75" cy="0.19" rx="2.40" ry="1.72" fill="#a01212" opacity="0.5" transform="translate(56.70 41.24) rotate(57)"/><ellipse cx="-1.00" cy="1.05" rx="2.43" ry="1.74" fill="#a01212" opacity="0.5" transform="translate(56.70 41.24) rotate(57)"/><polygon points="-4.73,-0.22 3.09,-2.64 2.28,3.07" fill="#c41a16" stroke="#c41a16" stroke-width="1.1" stroke-linejoin="round" transform="translate(51.55 45.10) rotate(71)"/><ellipse cx="0.23" cy="-0.04" rx="2.12" ry="1.52" fill="#9a1010" opacity="0.5" transform="translate(51.55 45.10) rotate(71)"/><ellipse cx="1.18" cy="-0.66" rx="2.01" ry="1.44" fill="#e82c1e" opacity="0.5" transform="translate(51.55 45.10) rotate(71)"/><polygon points="-1.91,4.06 -5.61,-1.51 2.51,-4.31 5.91,0.51" fill="#cc1c18" stroke="#cc1c18" stroke-width="1.1" stroke-linejoin="round" transform="translate(61.86 45.10) rotate(114)"/><ellipse cx="-1.01" cy="-0.24" rx="1.69" ry="1.21" fill="#9a1010" opacity="0.5" transform="translate(61.86 45.10) rotate(114)"/><ellipse cx="0.55" cy="-0.31" rx="2.33" ry="1.67" fill="#8a0e0e" opacity="0.5" transform="translate(61.86 45.10) rotate(114)"/><polygon points="4.57,1.41 -2.30,2.99 -4.42,-1.18 -0.23,-3.58 5.13,-1.30" fill="#cc1c18" stroke="#cc1c18" stroke-width="1.1" stroke-linejoin="round" transform="translate(5.80 49.61) rotate(101)"/><ellipse cx="1.20" cy="-0.12" rx="1.93" ry="1.38" fill="#8a0e0e" opacity="0.5" transform="translate(5.80 49.61) rotate(101)"/><ellipse cx="-0.19" cy="-1.08" rx="2.55" ry="1.82" fill="#9a1010" opacity="0.5" transform="translate(5.80 49.61) rotate(101)"/><polygon points="3.21,4.17 -4.47,-0.70 4.21,-4.23" fill="#cc1c18" stroke="#cc1c18" stroke-width="1.1" stroke-linejoin="round" transform="translate(18.04 50.26) rotate(153)"/><ellipse cx="0.49" cy="-1.03" rx="2.23" ry="1.60" fill="#a01212" opacity="0.5" transform="translate(18.04 50.26) rotate(153)"/><ellipse cx="1.25" cy="0.46" rx="2.24" ry="1.60" fill="#8a0e0e" opacity="0.5" transform="translate(18.04 50.26) rotate(153)"/><polygon points="3.70,-3.00 3.09,3.98 -6.54,-0.13" fill="#c41a16" stroke="#c41a16" stroke-width="1.1" stroke-linejoin="round" transform="translate(32.22 51.55) rotate(152)"/><ellipse cx="1.02" cy="0.38" rx="2.28" ry="1.63" fill="#e82c1e" opacity="0.5" transform="translate(32.22 51.55) rotate(152)"/><ellipse cx="-1.38" cy="-0.57" rx="1.75" ry="1.25" fill="#9a1010" opacity="0.5" transform="translate(32.22 51.55) rotate(152)"/><polygon points="-4.27,-0.79 -1.11,-3.94 4.17,-1.20 2.95,1.56 -2.02,2.64" fill="#d42018" stroke="#d42018" stroke-width="1.1" stroke-linejoin="round" transform="translate(38.66 56.70) rotate(172)"/><ellipse cx="0.53" cy="0.40" rx="1.41" ry="1.01" fill="#a01212" opacity="0.5" transform="translate(38.66 56.70) rotate(172)"/><ellipse cx="0.33" cy="-0.34" rx="1.63" ry="1.16" fill="#8a0e0e" opacity="0.5" transform="translate(38.66 56.70) rotate(172)"/><polygon points="-3.60,1.82 -1.86,-4.04 3.73,1.73" fill="#cc1c18" stroke="#cc1c18" stroke-width="1.1" stroke-linejoin="round" transform="translate(48.97 56.70) rotate(165)"/><ellipse cx="-1.21" cy="-1.17" rx="2.58" ry="1.84" fill="#8a0e0e" opacity="0.5" transform="translate(48.97 56.70) rotate(165)"/><ellipse cx="1.42" cy="1.20" rx="2.57" ry="1.84" fill="#a01212" opacity="0.5" transform="translate(48.97 56.70) rotate(165)"/><polygon points="3.48,1.66 -0.20,3.84 -3.91,0.69 -1.47,-3.64 3.03,-1.85" fill="#dc2418" stroke="#dc2418" stroke-width="1.1" stroke-linejoin="round" transform="translate(57.99 57.99) rotate(125)"/><ellipse cx="-1.15" cy="0.08" rx="1.41" ry="1.01" fill="#8a0e0e" opacity="0.5" transform="translate(57.99 57.99) rotate(125)"/><ellipse cx="0.01" cy="-0.05" rx="2.13" ry="1.52" fill="#8a0e0e" opacity="0.5" transform="translate(57.99 57.99) rotate(125)"/><polygon points="4.33,-2.34 1.23,4.28 -6.21,-0.57" fill="#dc2418" stroke="#dc2418" stroke-width="1.1" stroke-linejoin="round" transform="translate(9.02 61.86) rotate(31)"/><ellipse cx="-0.36" cy="-0.78" rx="2.29" ry="1.63" fill="#8a0e0e" opacity="0.5" transform="translate(9.02 61.86) rotate(31)"/><ellipse cx="0.07" cy="-0.57" rx="2.36" ry="1.68" fill="#e82c1e" opacity="0.5" transform="translate(9.02 61.86) rotate(31)"/><polygon points="-2.16,3.81 -4.09,-4.13 5.22,1.36" fill="#d42018" stroke="#d42018" stroke-width="1.1" stroke-linejoin="round" transform="translate(21.26 60.57) rotate(13)"/><ellipse cx="-0.35" cy="-0.03" rx="2.64" ry="1.88" fill="#8a0e0e" opacity="0.5" transform="translate(21.26 60.57) rotate(13)"/><ellipse cx="1.68" cy="0.07" rx="2.15" ry="1.53" fill="#a01212" opacity="0.5" transform="translate(21.26 60.57) rotate(13)"/><polygon points="-3.11,-2.52 2.48,-4.42 4.14,-0.34 1.69,4.55 -2.97,2.84" fill="#cc1c18" stroke="#cc1c18" stroke-width="1.1" stroke-linejoin="round" transform="translate(31.57 63.79) rotate(60)"/><ellipse cx="0.70" cy="0.06" rx="2.52" ry="1.80" fill="#9a1010" opacity="0.5" transform="translate(31.57 63.79) rotate(60)"/><ellipse cx="1.20" cy="-0.51" rx="2.05" ry="1.46" fill="#9a1010" opacity="0.5" transform="translate(31.57 63.79) rotate(60)"/><polygon points="4.11,0.33 -1.66,3.08 -1.76,-2.98" fill="#dc2418" stroke="#dc2418" stroke-width="1.1" stroke-linejoin="round" transform="translate(42.53 63.14) rotate(110)"/><ellipse cx="0.82" cy="-1.14" rx="1.66" ry="1.18" fill="#e82c1e" opacity="0.5" transform="translate(42.53 63.14) rotate(110)"/><ellipse cx="-1.61" cy="0.70" rx="2.26" ry="1.62" fill="#8a0e0e" opacity="0.5" transform="translate(42.53 63.14) rotate(110)"/><polygon points="-0.30,4.02 -4.19,-3.12 5.60,-0.54" fill="#cc1c18" stroke="#cc1c18" stroke-width="1.1" stroke-linejoin="round" transform="translate(61.86 63.14) rotate(29)"/><ellipse cx="0.58" cy="-1.06" rx="2.02" ry="1.45" fill="#a01212" opacity="0.5" transform="translate(61.86 63.14) rotate(29)"/><ellipse cx="0.26" cy="-0.76" rx="1.51" ry="1.08" fill="#9a1010" opacity="0.5" transform="translate(61.86 63.14) rotate(29)"/><polygon points="4.09,0.54 -1.60,2.68 -3.35,-0.36 0.26,-2.24" fill="#dc2418" stroke="#dc2418" stroke-width="1.1" stroke-linejoin="round" transform="translate(64.43 33.51) rotate(61)"/><ellipse cx="-0.88" cy="0.01" rx="1.70" ry="1.21" fill="#8a0e0e" opacity="0.5" transform="translate(64.43 33.51) rotate(61)"/><ellipse cx="0.91" cy="-0.00" rx="1.41" ry="1.00" fill="#9a1010" opacity="0.5" transform="translate(64.43 33.51) rotate(61)"/><polygon points="1.79,3.33 -2.90,-0.60 2.66,-2.44" fill="#c41a16" stroke="#c41a16" stroke-width="1.1" stroke-linejoin="round" transform="translate(1.29 25.77) rotate(170)"/><ellipse cx="0.84" cy="-0.68" rx="1.30" ry="0.93" fill="#8a0e0e" opacity="0.5" transform="translate(1.29 25.77) rotate(170)"/><ellipse cx="0.74" cy="0.88" rx="1.16" ry="0.83" fill="#9a1010" opacity="0.5" transform="translate(1.29 25.77) rotate(170)"/></g></svg>
<svg x="266.00" y="21.00" width="66.60" height="67.00" viewBox="0 0 66.60 67.00" overflow="hidden"><rect width="66.60" height="67.00" fill="#1e0404"/><g filter="url(#blr)"><ellipse cx="6.4" cy="12.2" rx="3.0" ry="2.7" fill="url(#rc)"/><ellipse cx="6.7" cy="12.5" rx="1.3" ry="1.1" fill="#c01818" opacity="0.4"/><ellipse cx="12.9" cy="12.9" rx="2.3" ry="2.4" fill="url(#rc)"/><ellipse cx="13.2" cy="13.1" rx="1.0" ry="1.0" fill="#e83420" opacity="0.4"/><ellipse cx="18.0" cy="9.7" rx="2.9" ry="2.9" fill="url(#rc)"/><ellipse cx="17.6" cy="9.2" rx="1.3" ry="1.2" fill="#c01818" opacity="0.4"/><ellipse cx="20.6" cy="3.9" rx="2.5" ry="2.7" fill="url(#rc)"/><ellipse cx="20.1" cy="4.4" rx="1.1" ry="1.1" fill="#b01414" opacity="0.4"/><ellipse cx="29.6" cy="3.9" rx="2.6" ry="2.7" fill="url(#rc)"/><ellipse cx="29.3" cy="3.8" rx="1.2" ry="1.1" fill="#b01414" opacity="0.4"/><ellipse cx="27.1" cy="11.0" rx="2.5" ry="2.5" fill="url(#rc)"/><ellipse cx="26.7" cy="11.1" rx="1.1" ry="1.0" fill="#b01414" opacity="0.4"/><ellipse cx="38.7" cy="9.0" rx="3.0" ry="3.0" fill="url(#rc)"/><ellipse cx="38.8" cy="9.6" rx="1.4" ry="1.2" fill="#b01414" opacity="0.4"/><ellipse cx="46.4" cy="2.6" rx="2.5" ry="2.6" fill="url(#rc)"/><ellipse cx="46.6" cy="3.1" rx="1.1" ry="1.0" fill="#b01414" opacity="0.4"/><ellipse cx="54.1" cy="10.3" rx="3.3" ry="3.3" fill="url(#rc)"/><ellipse cx="54.2" cy="10.6" rx="1.5" ry="1.3" fill="#e83420" opacity="0.4"/><ellipse cx="60.6" cy="3.9" rx="2.3" ry="2.6" fill="url(#rc)"/><ellipse cx="60.1" cy="3.9" rx="1.1" ry="1.0" fill="#c01818" opacity="0.4"/><ellipse cx="63.1" cy="7.7" rx="2.5" ry="2.4" fill="url(#rc)"/><ellipse cx="63.6" cy="7.9" rx="1.1" ry="0.9" fill="#c01818" opacity="0.4"/><ellipse cx="61.9" cy="15.5" rx="2.7" ry="2.8" fill="url(#rc)"/><ellipse cx="61.4" cy="16.0" rx="1.2" ry="1.1" fill="#c01818" opacity="0.4"/><ellipse cx="46.4" cy="18.7" rx="2.9" ry="2.6" fill="url(#rc)"/><ellipse cx="46.5" cy="18.8" rx="1.3" ry="1.0" fill="#e83420" opacity="0.4"/><ellipse cx="52.2" cy="20.6" rx="2.2" ry="2.3" fill="url(#rc)"/><ellipse cx="51.9" cy="21.1" rx="1.0" ry="0.9" fill="#c01818" opacity="0.4"/><ellipse cx="58.0" cy="20.6" rx="2.7" ry="2.4" fill="url(#rc)"/><ellipse cx="58.2" cy="21.1" rx="1.2" ry="1.0" fill="#b01414" opacity="0.4"/><ellipse cx="7.7" cy="21.3" rx="3.0" ry="2.9" fill="url(#rc)"/><ellipse cx="7.4" cy="21.8" rx="1.4" ry="1.2" fill="#c01818" opacity="0.4"/><ellipse cx="11.0" cy="26.4" rx="2.8" ry="2.8" fill="url(#rc)"/><ellipse cx="10.8" cy="26.4" rx="1.3" ry="1.1" fill="#e83420" opacity="0.4"/><ellipse cx="3.2" cy="30.9" rx="3.3" ry="3.2" fill="url(#rc)"/><ellipse cx="2.7" cy="30.7" rx="1.5" ry="1.3" fill="#b01414" opacity="0.4"/><ellipse cx="33.5" cy="26.4" rx="3.7" ry="3.5" fill="url(#rc)"/><ellipse cx="34.1" cy="26.2" rx="1.7" ry="1.4" fill="#c01818" opacity="0.4"/><ellipse cx="30.3" cy="32.2" rx="2.6" ry="2.6" fill="url(#rc)"/><ellipse cx="30.7" cy="31.7" rx="1.2" ry="1.0" fill="#b01414" opacity="0.4"/><ellipse cx="48.3" cy="27.1" rx="2.6" ry="2.5" fill="url(#rc)"/><ellipse cx="48.5" cy="27.0" rx="1.2" ry="1.0" fill="#c01818" opacity="0.4"/><ellipse cx="51.5" cy="30.9" rx="2.4" ry="2.5" fill="url(#rc)"/><ellipse cx="51.0" cy="30.4" rx="1.1" ry="1.0" fill="#e83420" opacity="0.4"/><ellipse cx="56.7" cy="29.0" rx="2.6" ry="2.3" fill="url(#rc)"/><ellipse cx="56.6" cy="28.7" rx="1.2" ry="0.9" fill="#e83420" opacity="0.4"/><ellipse cx="61.9" cy="36.1" rx="2.8" ry="2.9" fill="url(#rc)"/><ellipse cx="61.9" cy="36.0" rx="1.3" ry="1.2" fill="#e83420" opacity="0.4"/><ellipse cx="5.2" cy="41.2" rx="3.2" ry="3.0" fill="url(#rc)"/><ellipse cx="5.3" cy="41.0" rx="1.4" ry="1.2" fill="#e83420" opacity="0.4"/><ellipse cx="11.0" cy="39.9" rx="2.6" ry="2.7" fill="url(#rc)"/><ellipse cx="10.9" cy="40.5" rx="1.2" ry="1.1" fill="#b01414" opacity="0.4"/><ellipse cx="11.6" cy="45.7" rx="2.8" ry="2.9" fill="url(#rc)"/><ellipse cx="12.1" cy="45.2" rx="1.3" ry="1.2" fill="#e83420" opacity="0.4"/><ellipse cx="21.3" cy="43.8" rx="3.7" ry="3.7" fill="url(#rc)"/><ellipse cx="20.8" cy="43.9" rx="1.7" ry="1.5" fill="#b01414" opacity="0.4"/><ellipse cx="30.3" cy="39.9" rx="3.2" ry="3.3" fill="url(#rc)"/><ellipse cx="30.0" cy="39.4" rx="1.5" ry="1.3" fill="#b01414" opacity="0.4"/><ellipse cx="56.7" cy="41.2" rx="3.7" ry="3.5" fill="url(#rc)"/><ellipse cx="56.2" cy="40.7" rx="1.7" ry="1.4" fill="#c01818" opacity="0.4"/><ellipse cx="63.1" cy="47.0" rx="3.2" ry="3.3" fill="url(#rc)"/><ellipse cx="63.5" cy="47.3" rx="1.4" ry="1.3" fill="#b01414" opacity="0.4"/><ellipse cx="21.9" cy="50.9" rx="2.7" ry="2.5" fill="url(#rc)"/><ellipse cx="21.8" cy="51.2" rx="1.2" ry="1.0" fill="#e83420" opacity="0.4"/><ellipse cx="28.4" cy="49.0" rx="2.6" ry="2.5" fill="url(#rc)"/><ellipse cx="28.3" cy="48.6" rx="1.2" ry="1.0" fill="#b01414" opacity="0.4"/><ellipse cx="34.8" cy="50.9" rx="2.9" ry="2.7" fill="url(#rc)"/><ellipse cx="34.8" cy="51.0" rx="1.3" ry="1.1" fill="#c01818" opacity="0.4"/><ellipse cx="52.8" cy="52.8" rx="3.8" ry="3.1" fill="url(#rc)"/><ellipse cx="52.6" cy="53.0" rx="1.7" ry="1.3" fill="#b01414" opacity="0.4"/><ellipse cx="41.2" cy="56.7" rx="2.8" ry="2.5" fill="url(#rc)"/><ellipse cx="41.2" cy="56.6" rx="1.2" ry="1.0" fill="#b01414" opacity="0.4"/><ellipse cx="37.4" cy="60.6" rx="2.9" ry="2.9" fill="url(#rc)"/><ellipse cx="36.8" cy="60.9" rx="1.3" ry="1.2" fill="#b01414" opacity="0.4"/><ellipse cx="29.6" cy="61.9" rx="2.4" ry="2.0" fill="url(#rc)"/><ellipse cx="29.3" cy="61.6" rx="1.1" ry="0.8" fill="#b01414" opacity="0.4"/><ellipse cx="3.9" cy="60.6" rx="3.1" ry="2.9" fill="url(#rc)"/><ellipse cx="3.4" cy="60.7" rx="1.4" ry="1.1" fill="#e83420" opacity="0.4"/><ellipse cx="60.6" cy="63.1" rx="2.4" ry="2.4" fill="url(#rc)"/><ellipse cx="61.1" cy="62.7" rx="1.1" ry="0.9" fill="#e83420" opacity="0.4"/><ellipse cx="63.1" cy="55.4" rx="2.0" ry="1.9" fill="url(#rc)"/><ellipse cx="62.9" cy="55.5" rx="0.9" ry="0.8" fill="#c01818" opacity="0.4"/></g></svg>
<svg x="343.40" y="21.00" width="66.60" height="67.00" viewBox="0 0 66.60 67.00" overflow="hidden"><rect width="66.60" height="67.00" fill="#1e0404"/><g filter="url(#blr)"><path d="M-5.65,0 Q-1.13,-7.25 5.65,-1.02 Q0.57,9.45 -5.65,0 Z" fill="#d42018" stroke="#f04a30" stroke-width="0.5" transform="translate(19.33 3.87) rotate(41)"/><ellipse cx="1.63" cy="-1.07" rx="1.78" ry="1.27" fill="#8a0e0e" opacity="0.5" transform="translate(19.33 3.87) rotate(41)"/><ellipse cx="0.61" cy="-0.46" rx="2.32" ry="1.66" fill="#e82c1e" opacity="0.5" transform="translate(19.33 3.87) rotate(41)"/><path d="M-5.94,0 Q-1.19,-8.71 5.94,-0.10 Q0.59,9.07 -5.94,0 Z" fill="#d42018" stroke="#f04a30" stroke-width="0.5" transform="translate(27.06 5.15) rotate(112)"/><ellipse cx="-1.01" cy="-0.91" rx="2.61" ry="1.87" fill="#8a0e0e" opacity="0.5" transform="translate(27.06 5.15) rotate(112)"/><ellipse cx="-1.92" cy="0.81" rx="2.05" ry="1.46" fill="#e82c1e" opacity="0.5" transform="translate(27.06 5.15) rotate(112)"/><path d="M-5.29,0 Q-1.06,-8.50 5.29,-0.99 Q0.53,8.27 -5.29,0 Z" fill="#e42a1c" stroke="#f04a30" stroke-width="0.5" transform="translate(33.51 3.87) rotate(13)"/><ellipse cx="-0.14" cy="0.71" rx="2.14" ry="1.53" fill="#e82c1e" opacity="0.5" transform="translate(33.51 3.87) rotate(13)"/><ellipse cx="1.53" cy="1.21" rx="1.82" ry="1.30" fill="#e82c1e" opacity="0.5" transform="translate(33.51 3.87) rotate(13)"/><path d="M-6.14,0 Q-1.23,-8.55 6.14,-1.08 Q0.61,7.32 -6.14,0 Z" fill="#e42a1c" stroke="#f04a30" stroke-width="0.5" transform="translate(41.24 6.44) rotate(83)"/><ellipse cx="-2.11" cy="0.81" rx="2.20" ry="1.57" fill="#8a0e0e" opacity="0.5" transform="translate(41.24 6.44) rotate(83)"/><ellipse cx="-0.12" cy="0.16" rx="2.42" ry="1.73" fill="#a01212" opacity="0.5" transform="translate(41.24 6.44) rotate(83)"/><path d="M-5.47,0 Q-1.09,-8.53 5.47,0.94 Q0.55,8.48 -5.47,0 Z" fill="#dc2418" stroke="#f04a30" stroke-width="0.5" transform="translate(48.97 3.87) rotate(152)"/><ellipse cx="0.07" cy="0.05" rx="2.42" ry="1.73" fill="#8a0e0e" opacity="0.5" transform="translate(48.97 3.87) rotate(152)"/><ellipse cx="-0.94" cy="-1.15" rx="2.47" ry="1.76" fill="#a01212" opacity="0.5" transform="translate(48.97 3.87) rotate(152)"/><path d="M-3.96,0 Q-0.79,-6.01 3.96,0.65 Q0.40,6.15 -3.96,0 Z" fill="#d42018" stroke="#f04a30" stroke-width="0.5" transform="translate(59.28 5.15) rotate(106)"/><ellipse cx="-1.18" cy="0.34" rx="1.73" ry="1.24" fill="#e82c1e" opacity="0.5" transform="translate(59.28 5.15) rotate(106)"/><ellipse cx="1.38" cy="-0.24" rx="1.84" ry="1.32" fill="#e82c1e" opacity="0.5" transform="translate(59.28 5.15) rotate(106)"/><path d="M-4.05,0 Q-0.81,-7.93 4.05,0.29 Q0.40,7.12 -4.05,0 Z" fill="#dc2418" stroke="#f04a30" stroke-width="0.5" transform="translate(63.14 10.31) rotate(155)"/><ellipse cx="0.58" cy="0.02" rx="2.18" ry="1.56" fill="#a01212" opacity="0.5" transform="translate(63.14 10.31) rotate(155)"/><ellipse cx="-0.86" cy="-0.03" rx="1.42" ry="1.01" fill="#9a1010" opacity="0.5" transform="translate(63.14 10.31) rotate(155)"/><path d="M-5.95,0 Q-1.19,-8.21 5.95,0.85 Q0.59,10.84 -5.95,0 Z" fill="#e8301e" stroke="#f04a30" stroke-width="0.5" transform="translate(23.20 12.89) rotate(171)"/><ellipse cx="0.47" cy="1.25" rx="2.45" ry="1.75" fill="#8a0e0e" opacity="0.5" transform="translate(23.20 12.89) rotate(171)"/><ellipse cx="1.66" cy="-1.11" rx="2.34" ry="1.67" fill="#e82c1e" opacity="0.5" transform="translate(23.20 12.89) rotate(171)"/><path d="M-6.74,0 Q-1.35,-7.95 6.74,0.08 Q0.67,8.47 -6.74,0 Z" fill="#dc2418" stroke="#f04a30" stroke-width="0.5" transform="translate(30.93 14.18) rotate(49)"/><ellipse cx="0.92" cy="-0.91" rx="2.51" ry="1.79" fill="#8a0e0e" opacity="0.5" transform="translate(30.93 14.18) rotate(49)"/><ellipse cx="-0.91" cy="0.50" rx="2.75" ry="1.96" fill="#8a0e0e" opacity="0.5" transform="translate(30.93 14.18) rotate(49)"/><path d="M-5.15,0 Q-1.03,-6.35 5.15,-0.59 Q0.51,7.68 -5.15,0 Z" fill="#e8301e" stroke="#f04a30" stroke-width="0.5" transform="translate(38.66 12.89) rotate(144)"/><ellipse cx="1.30" cy="-0.52" rx="2.44" ry="1.74" fill="#9a1010" opacity="0.5" transform="translate(38.66 12.89) rotate(144)"/><ellipse cx="-0.10" cy="0.87" rx="2.40" ry="1.71" fill="#e82c1e" opacity="0.5" transform="translate(38.66 12.89) rotate(144)"/><path d="M-3.53,0 Q-0.71,-5.07 3.53,0.78 Q0.35,5.36 -3.53,0 Z" fill="#d42018" stroke="#f04a30" stroke-width="0.5" transform="translate(12.89 14.18) rotate(19)"/><ellipse cx="0.97" cy="-0.51" rx="1.36" ry="0.97" fill="#e82c1e" opacity="0.5" transform="translate(12.89 14.18) rotate(19)"/><ellipse cx="0.91" cy="-0.72" rx="1.60" ry="1.15" fill="#9a1010" opacity="0.5" transform="translate(12.89 14.18) rotate(19)"/><path d="M-4.80,0 Q-0.96,-7.59 4.80,0.59 Q0.48,7.24 -4.80,0 Z" fill="#d42018" stroke="#f04a30" stroke-width="0.5" transform="translate(11.60 20.62) rotate(145)"/><ellipse cx="-0.72" cy="0.28" rx="1.82" ry="1.30" fill="#8a0e0e" opacity="0.5" transform="translate(11.60 20.62) rotate(145)"/><ellipse cx="0.19" cy="1.10" rx="1.81" ry="1.29" fill="#9a1010" opacity="0.5" transform="translate(11.60 20.62) rotate(145)"/><path d="M-4.81,0 Q-0.96,-7.06 4.81,0.55 Q0.48,7.61 -4.81,0 Z" fill="#dc2418" stroke="#f04a30" stroke-width="0.5" transform="translate(7.73 27.06) rotate(98)"/><ellipse cx="1.12" cy="1.03" rx="2.19" ry="1.56" fill="#8a0e0e" opacity="0.5" transform="translate(7.73 27.06) rotate(98)"/><ellipse cx="1.58" cy="0.93" rx="1.97" ry="1.41" fill="#a01212" opacity="0.5" transform="translate(7.73 27.06) rotate(98)"/><path d="M-6.00,0 Q-1.20,-10.89 6.00,0.89 Q0.60,10.82 -6.00,0 Z" fill="#dc2418" stroke="#f04a30" stroke-width="0.5" transform="translate(18.04 25.77) rotate(85)"/><ellipse cx="0.39" cy="0.91" rx="2.40" ry="1.71" fill="#e82c1e" opacity="0.5" transform="translate(18.04 25.77) rotate(85)"/><ellipse cx="-0.47" cy="1.50" rx="2.97" ry="2.12" fill="#e82c1e" opacity="0.5" transform="translate(18.04 25.77) rotate(85)"/><path d="M-5.83,0 Q-1.17,-10.72 5.83,0.22 Q0.58,10.26 -5.83,0 Z" fill="#e42a1c" stroke="#f04a30" stroke-width="0.5" transform="translate(23.20 23.20) rotate(100)"/><ellipse cx="1.04" cy="1.32" rx="2.24" ry="1.60" fill="#a01212" opacity="0.5" transform="translate(23.20 23.20) rotate(100)"/><ellipse cx="-1.71" cy="-1.25" rx="2.76" ry="1.97" fill="#a01212" opacity="0.5" transform="translate(23.20 23.20) rotate(100)"/><path d="M-5.53,0 Q-1.11,-7.35 5.53,-0.63 Q0.55,8.43 -5.53,0 Z" fill="#d42018" stroke="#f04a30" stroke-width="0.5" transform="translate(15.46 33.51) rotate(103)"/><ellipse cx="-1.91" cy="0.64" rx="2.11" ry="1.51" fill="#8a0e0e" opacity="0.5" transform="translate(15.46 33.51) rotate(103)"/><ellipse cx="0.98" cy="0.01" rx="2.20" ry="1.57" fill="#8a0e0e" opacity="0.5" transform="translate(15.46 33.51) rotate(103)"/><path d="M-4.78,0 Q-0.96,-7.39 4.78,0.89 Q0.48,6.34 -4.78,0 Z" fill="#d42018" stroke="#f04a30" stroke-width="0.5" transform="translate(24.48 36.08) rotate(14)"/><ellipse cx="0.36" cy="-0.62" rx="2.23" ry="1.60" fill="#a01212" opacity="0.5" transform="translate(24.48 36.08) rotate(14)"/><ellipse cx="0.29" cy="0.11" rx="2.01" ry="1.43" fill="#e82c1e" opacity="0.5" transform="translate(24.48 36.08) rotate(14)"/><path d="M-4.18,0 Q-0.84,-6.24 4.18,-0.01 Q0.42,5.42 -4.18,0 Z" fill="#e42a1c" stroke="#f04a30" stroke-width="0.5" transform="translate(47.04 19.33) rotate(33)"/><ellipse cx="-0.80" cy="0.39" rx="1.58" ry="1.13" fill="#e82c1e" opacity="0.5" transform="translate(47.04 19.33) rotate(33)"/><ellipse cx="0.94" cy="0.11" rx="1.48" ry="1.05" fill="#8a0e0e" opacity="0.5" transform="translate(47.04 19.33) rotate(33)"/><path d="M-3.59,0 Q-0.72,-6.64 3.59,-0.29 Q0.36,5.27 -3.59,0 Z" fill="#e42a1c" stroke="#f04a30" stroke-width="0.5" transform="translate(41.24 23.84) rotate(167)"/><ellipse cx="0.57" cy="0.15" rx="1.86" ry="1.33" fill="#e82c1e" opacity="0.5" transform="translate(41.24 23.84) rotate(167)"/><ellipse cx="0.58" cy="-0.15" rx="1.79" ry="1.28" fill="#a01212" opacity="0.5" transform="translate(41.24 23.84) rotate(167)"/><path d="M-5.40,0 Q-1.08,-7.00 5.40,-0.78 Q0.54,7.63 -5.40,0 Z" fill="#e8301e" stroke="#f04a30" stroke-width="0.5" transform="translate(55.41 24.48) rotate(36)"/><ellipse cx="0.85" cy="-0.49" rx="1.88" ry="1.34" fill="#e82c1e" opacity="0.5" transform="translate(55.41 24.48) rotate(36)"/><ellipse cx="1.21" cy="0.19" rx="1.93" ry="1.38" fill="#9a1010" opacity="0.5" transform="translate(55.41 24.48) rotate(36)"/><path d="M-4.66,0 Q-0.93,-7.13 4.66,0.39 Q0.47,8.91 -4.66,0 Z" fill="#d42018" stroke="#f04a30" stroke-width="0.5" transform="translate(7.73 45.10) rotate(23)"/><ellipse cx="-1.50" cy="-1.06" rx="1.96" ry="1.40" fill="#9a1010" opacity="0.5" transform="translate(7.73 45.10) rotate(23)"/><ellipse cx="0.25" cy="0.27" rx="2.21" ry="1.58" fill="#a01212" opacity="0.5" transform="translate(7.73 45.10) rotate(23)"/><path d="M-5.30,0 Q-1.06,-6.49 5.30,0.69 Q0.53,6.72 -5.30,0 Z" fill="#d42018" stroke="#f04a30" stroke-width="0.5" transform="translate(16.75 43.81) rotate(173)"/><ellipse cx="1.03" cy="-0.41" rx="1.85" ry="1.32" fill="#8a0e0e" opacity="0.5" transform="translate(16.75 43.81) rotate(173)"/><ellipse cx="-0.42" cy="-0.18" rx="1.64" ry="1.17" fill="#e82c1e" opacity="0.5" transform="translate(16.75 43.81) rotate(173)"/><path d="M-4.77,0 Q-0.95,-7.18 4.77,0.99 Q0.48,7.17 -4.77,0 Z" fill="#e42a1c" stroke="#f04a30" stroke-width="0.5" transform="translate(38.66 37.37) rotate(113)"/><ellipse cx="0.20" cy="-1.06" rx="2.05" ry="1.46" fill="#9a1010" opacity="0.5" transform="translate(38.66 37.37) rotate(113)"/><ellipse cx="1.61" cy="0.79" rx="1.41" ry="1.01" fill="#a01212" opacity="0.5" transform="translate(38.66 37.37) rotate(113)"/><path d="M-4.61,0 Q-0.92,-6.02 4.61,-0.26 Q0.46,5.24 -4.61,0 Z" fill="#dc2418" stroke="#f04a30" stroke-width="0.5" transform="translate(34.79 45.75) rotate(102)"/><ellipse cx="1.26" cy="0.32" rx="2.22" ry="1.58" fill="#a01212" opacity="0.5" transform="translate(34.79 45.75) rotate(102)"/><ellipse cx="1.03" cy="0.46" rx="1.73" ry="1.23" fill="#8a0e0e" opacity="0.5" transform="translate(34.79 45.75) rotate(102)"/><path d="M-4.64,0 Q-0.93,-5.67 4.64,0.79 Q0.46,7.06 -4.64,0 Z" fill="#e8301e" stroke="#f04a30" stroke-width="0.5" transform="translate(32.86 51.55) rotate(135)"/><ellipse cx="0.20" cy="0.33" rx="1.42" ry="1.01" fill="#e82c1e" opacity="0.5" transform="translate(32.86 51.55) rotate(135)"/><ellipse cx="-0.46" cy="-0.29" rx="1.95" ry="1.39" fill="#8a0e0e" opacity="0.5" transform="translate(32.86 51.55) rotate(135)"/><path d="M-5.68,0 Q-1.14,-8.32 5.68,-0.29 Q0.57,7.37 -5.68,0 Z" fill="#e42a1c" stroke="#f04a30" stroke-width="0.5" transform="translate(19.33 52.84) rotate(84)"/><ellipse cx="1.38" cy="0.41" rx="2.20" ry="1.57" fill="#9a1010" opacity="0.5" transform="translate(19.33 52.84) rotate(84)"/><ellipse cx="-0.10" cy="-0.96" rx="2.40" ry="1.71" fill="#e82c1e" opacity="0.5" transform="translate(19.33 52.84) rotate(84)"/><path d="M-5.43,0 Q-1.09,-8.93 5.43,0.17 Q0.54,7.64 -5.43,0 Z" fill="#d42018" stroke="#f04a30" stroke-width="0.5" transform="translate(12.89 55.41) rotate(43)"/><ellipse cx="-0.58" cy="0.84" rx="1.64" ry="1.17" fill="#e82c1e" opacity="0.5" transform="translate(12.89 55.41) rotate(43)"/><ellipse cx="-0.55" cy="-1.08" rx="1.82" ry="1.30" fill="#e82c1e" opacity="0.5" transform="translate(12.89 55.41) rotate(43)"/><path d="M-5.64,0 Q-1.13,-7.78 5.64,-0.38 Q0.56,9.05 -5.64,0 Z" fill="#dc2418" stroke="#f04a30" stroke-width="0.5" transform="translate(5.15 56.70) rotate(139)"/><ellipse cx="1.59" cy="0.44" rx="2.18" ry="1.55" fill="#e82c1e" opacity="0.5" transform="translate(5.15 56.70) rotate(139)"/><ellipse cx="-0.37" cy="0.12" rx="2.34" ry="1.67" fill="#9a1010" opacity="0.5" transform="translate(5.15 56.70) rotate(139)"/><path d="M-4.48,0 Q-0.90,-9.29 4.48,-0.75 Q0.45,8.36 -4.48,0 Z" fill="#dc2418" stroke="#f04a30" stroke-width="0.5" transform="translate(51.55 45.10) rotate(131)"/><ellipse cx="0.31" cy="-0.87" rx="2.34" ry="1.67" fill="#a01212" opacity="0.5" transform="translate(51.55 45.10) rotate(131)"/><ellipse cx="-1.09" cy="-0.94" rx="2.05" ry="1.47" fill="#9a1010" opacity="0.5" transform="translate(51.55 45.10) rotate(131)"/><path d="M-4.82,0 Q-0.96,-5.73 4.82,-0.92 Q0.48,6.56 -4.82,0 Z" fill="#e42a1c" stroke="#f04a30" stroke-width="0.5" transform="translate(56.70 52.84) rotate(173)"/><ellipse cx="1.33" cy="0.22" rx="2.02" ry="1.44" fill="#e82c1e" opacity="0.5" transform="translate(56.70 52.84) rotate(173)"/><ellipse cx="1.52" cy="0.24" rx="2.13" ry="1.52" fill="#a01212" opacity="0.5" transform="translate(56.70 52.84) rotate(173)"/><path d="M-4.22,0 Q-0.84,-5.83 4.22,0.06 Q0.42,5.70 -4.22,0 Z" fill="#e8301e" stroke="#f04a30" stroke-width="0.5" transform="translate(42.53 54.12) rotate(160)"/><ellipse cx="0.51" cy="0.65" rx="1.80" ry="1.28" fill="#e82c1e" opacity="0.5" transform="translate(42.53 54.12) rotate(160)"/><ellipse cx="0.64" cy="0.58" rx="1.64" ry="1.17" fill="#e82c1e" opacity="0.5" transform="translate(42.53 54.12) rotate(160)"/><path d="M-4.17,0 Q-0.83,-7.21 4.17,0.60 Q0.42,6.81 -4.17,0 Z" fill="#dc2418" stroke="#f04a30" stroke-width="0.5" transform="translate(63.14 38.66) rotate(26)"/><ellipse cx="0.99" cy="0.53" rx="1.85" ry="1.32" fill="#a01212" opacity="0.5" transform="translate(63.14 38.66) rotate(26)"/><ellipse cx="-0.71" cy="0.21" rx="1.61" ry="1.15" fill="#e82c1e" opacity="0.5" transform="translate(63.14 38.66) rotate(26)"/><path d="M-3.20,0 Q-0.64,-6.00 3.20,0.01 Q0.32,5.32 -3.20,0 Z" fill="#e42a1c" stroke="#f04a30" stroke-width="0.5" transform="translate(65.72 30.93) rotate(84)"/><ellipse cx="1.12" cy="-0.48" rx="1.16" ry="0.83" fill="#a01212" opacity="0.5" transform="translate(65.72 30.93) rotate(84)"/><ellipse cx="-0.13" cy="0.28" rx="1.43" ry="1.02" fill="#e82c1e" opacity="0.5" transform="translate(65.72 30.93) rotate(84)"/><path d="M-4.94,0 Q-0.99,-8.86 4.94,-1.23 Q0.49,9.06 -4.94,0 Z" fill="#e8301e" stroke="#f04a30" stroke-width="0.5" transform="translate(24.48 63.14) rotate(96)"/><ellipse cx="1.04" cy="-1.09" rx="2.06" ry="1.47" fill="#a01212" opacity="0.5" transform="translate(24.48 63.14) rotate(96)"/><ellipse cx="-0.56" cy="-0.40" rx="1.80" ry="1.29" fill="#a01212" opacity="0.5" transform="translate(24.48 63.14) rotate(96)"/><path d="M-4.98,0 Q-1.00,-7.67 4.98,-0.19 Q0.50,7.02 -4.98,0 Z" fill="#e42a1c" stroke="#f04a30" stroke-width="0.5" transform="translate(38.66 63.14) rotate(12)"/><ellipse cx="0.21" cy="0.03" rx="2.37" ry="1.69" fill="#9a1010" opacity="0.5" transform="translate(38.66 63.14) rotate(12)"/><ellipse cx="-0.17" cy="-0.78" rx="2.38" ry="1.70" fill="#a01212" opacity="0.5" transform="translate(38.66 63.14) rotate(12)"/><path d="M-4.00,0 Q-0.80,-6.46 4.00,-0.79 Q0.40,5.25 -4.00,0 Z" fill="#dc2418" stroke="#f04a30" stroke-width="0.5" transform="translate(51.55 63.14) rotate(50)"/><ellipse cx="-0.32" cy="-0.58" rx="1.52" ry="1.08" fill="#e82c1e" opacity="0.5" transform="translate(51.55 63.14) rotate(50)"/><ellipse cx="-1.38" cy="0.34" rx="1.98" ry="1.42" fill="#9a1010" opacity="0.5" transform="translate(51.55 63.14) rotate(50)"/><path d="M-4.44,0 Q-0.89,-6.68 4.44,1.17 Q0.44,8.06 -4.44,0 Z" fill="#e8301e" stroke="#f04a30" stroke-width="0.5" transform="translate(9.02 63.14) rotate(35)"/><ellipse cx="0.34" cy="0.19" rx="1.64" ry="1.17" fill="#a01212" opacity="0.5" transform="translate(9.02 63.14) rotate(35)"/><ellipse cx="0.16" cy="-0.39" rx="1.70" ry="1.22" fill="#e82c1e" opacity="0.5" transform="translate(9.02 63.14) rotate(35)"/><path d="M-3.31,0 Q-0.66,-5.38 3.31,-0.86 Q0.33,5.09 -3.31,0 Z" fill="#e42a1c" stroke="#f04a30" stroke-width="0.5" transform="translate(64.43 56.70) rotate(54)"/><ellipse cx="-0.51" cy="-0.15" rx="1.08" ry="0.77" fill="#a01212" opacity="0.5" transform="translate(64.43 56.70) rotate(54)"/><ellipse cx="-0.57" cy="0.80" rx="1.63" ry="1.16" fill="#9a1010" opacity="0.5" transform="translate(64.43 56.70) rotate(54)"/></g></svg>
<svg x="412.30" y="21.00" width="66.70" height="67.00" viewBox="0 0 66.70 67.00" overflow="hidden"><rect width="66.70" height="67.00" fill="#1e0404"/><g filter="url(#blr)"><ellipse cx="20.6" cy="5.2" rx="2.8" ry="2.5" fill="url(#rc)"/><ellipse cx="20.0" cy="5.2" rx="1.3" ry="1.0" fill="#b01414" opacity="0.4"/><ellipse cx="30.9" cy="5.2" rx="3.0" ry="3.3" fill="url(#rc)"/><ellipse cx="30.5" cy="5.6" rx="1.4" ry="1.3" fill="#c01818" opacity="0.4"/><ellipse cx="36.1" cy="9.7" rx="2.7" ry="2.5" fill="url(#rc)"/><ellipse cx="36.0" cy="9.5" rx="1.2" ry="1.0" fill="#e83420" opacity="0.4"/><ellipse cx="42.5" cy="7.1" rx="2.0" ry="2.0" fill="url(#rc)"/><ellipse cx="42.2" cy="7.7" rx="0.9" ry="0.8" fill="#b01414" opacity="0.4"/><ellipse cx="47.7" cy="3.9" rx="2.4" ry="2.4" fill="url(#rc)"/><ellipse cx="47.7" cy="3.6" rx="1.1" ry="0.9" fill="#e83420" opacity="0.4"/><path d="M-4.66,0 Q-0.93,-8.26 4.66,0.86 Q0.47,7.38 -4.66,0 Z" fill="#e8301e" stroke="#f04a30" stroke-width="0.5" transform="translate(55.41 6.44) rotate(158)"/><ellipse cx="0.43" cy="-0.02" rx="1.91" ry="1.37" fill="#a01212" opacity="0.5" transform="translate(55.41 6.44) rotate(158)"/><ellipse cx="0.29" cy="1.06" rx="2.07" ry="1.48" fill="#8a0e0e" opacity="0.5" transform="translate(55.41 6.44) rotate(158)"/><ellipse cx="63.1" cy="6.4" rx="2.5" ry="2.6" fill="url(#rc)"/><ellipse cx="63.2" cy="6.9" rx="1.1" ry="1.0" fill="#b01414" opacity="0.4"/><ellipse cx="6.4" cy="19.3" rx="4.0" ry="3.6" fill="url(#rc)"/><ellipse cx="6.3" cy="19.8" rx="1.8" ry="1.4" fill="#c01818" opacity="0.4"/><path d="M-4.39,0 Q-0.88,-8.17 4.39,0.22 Q0.44,9.22 -4.39,0 Z" fill="#e8301e" stroke="#f04a30" stroke-width="0.5" transform="translate(15.46 16.75) rotate(58)"/><ellipse cx="0.48" cy="-1.11" rx="2.16" ry="1.54" fill="#9a1010" opacity="0.5" transform="translate(15.46 16.75) rotate(58)"/><ellipse cx="0.22" cy="-0.51" rx="2.18" ry="1.56" fill="#9a1010" opacity="0.5" transform="translate(15.46 16.75) rotate(58)"/><ellipse cx="20.6" cy="22.6" rx="3.0" ry="3.3" fill="url(#rc)"/><ellipse cx="20.2" cy="22.1" rx="1.4" ry="1.3" fill="#c01818" opacity="0.4"/><ellipse cx="27.1" cy="13.5" rx="3.7" ry="3.3" fill="url(#rc)"/><ellipse cx="26.8" cy="13.0" rx="1.7" ry="1.3" fill="#c01818" opacity="0.4"/><path d="M-5.64,0 Q-1.13,-8.39 5.64,0.77 Q0.56,6.87 -5.64,0 Z" fill="#e42a1c" stroke="#f04a30" stroke-width="0.5" transform="translate(34.79 16.75) rotate(179)"/><ellipse cx="-1.51" cy="0.78" rx="2.64" ry="1.89" fill="#a01212" opacity="0.5" transform="translate(34.79 16.75) rotate(179)"/><ellipse cx="1.03" cy="0.24" rx="2.67" ry="1.90" fill="#e82c1e" opacity="0.5" transform="translate(34.79 16.75) rotate(179)"/><path d="M-3.95,0 Q-0.79,-6.29 3.95,0.30 Q0.40,5.55 -3.95,0 Z" fill="#d42018" stroke="#f04a30" stroke-width="0.5" transform="translate(28.35 25.13) rotate(156)"/><ellipse cx="-0.38" cy="-0.57" rx="1.70" ry="1.22" fill="#9a1010" opacity="0.5" transform="translate(28.35 25.13) rotate(156)"/><ellipse cx="0.40" cy="-0.72" rx="1.38" ry="0.99" fill="#8a0e0e" opacity="0.5" transform="translate(28.35 25.13) rotate(156)"/><ellipse cx="23.2" cy="28.4" rx="2.3" ry="2.5" fill="url(#rc)"/><ellipse cx="22.9" cy="28.9" rx="1.1" ry="1.0" fill="#b01414" opacity="0.4"/><path d="M-4.71,0 Q-0.94,-9.14 4.71,0.47 Q0.47,8.30 -4.71,0 Z" fill="#d42018" stroke="#f04a30" stroke-width="0.5" transform="translate(37.37 27.06) rotate(123)"/><ellipse cx="0.51" cy="-0.87" rx="1.52" ry="1.08" fill="#e82c1e" opacity="0.5" transform="translate(37.37 27.06) rotate(123)"/><ellipse cx="-0.65" cy="-0.13" rx="1.69" ry="1.21" fill="#e82c1e" opacity="0.5" transform="translate(37.37 27.06) rotate(123)"/><path d="M-4.22,0 Q-0.84,-6.97 4.22,-0.84 Q0.42,6.41 -4.22,0 Z" fill="#dc2418" stroke="#f04a30" stroke-width="0.5" transform="translate(41.88 31.57) rotate(108)"/><ellipse cx="0.70" cy="0.50" rx="1.76" ry="1.26" fill="#8a0e0e" opacity="0.5" transform="translate(41.88 31.57) rotate(108)"/><ellipse cx="0.84" cy="-0.91" rx="2.25" ry="1.61" fill="#9a1010" opacity="0.5" transform="translate(41.88 31.57) rotate(108)"/><ellipse cx="38.7" cy="36.7" rx="3.3" ry="3.1" fill="url(#rc)"/><ellipse cx="38.8" cy="37.2" rx="1.5" ry="1.2" fill="#c01818" opacity="0.4"/><path d="M-5.73,0 Q-1.15,-8.62 5.73,-0.06 Q0.57,7.98 -5.73,0 Z" fill="#dc2418" stroke="#f04a30" stroke-width="0.5" transform="translate(47.04 38.66) rotate(103)"/><ellipse cx="1.95" cy="-0.57" rx="2.13" ry="1.52" fill="#8a0e0e" opacity="0.5" transform="translate(47.04 38.66) rotate(103)"/><ellipse cx="-0.02" cy="-0.84" rx="2.34" ry="1.67" fill="#9a1010" opacity="0.5" transform="translate(47.04 38.66) rotate(103)"/><path d="M-5.90,0 Q-1.18,-10.30 5.90,-0.69 Q0.59,9.25 -5.90,0 Z" fill="#e42a1c" stroke="#f04a30" stroke-width="0.5" transform="translate(56.70 37.37) rotate(164)"/><ellipse cx="-0.42" cy="0.96" rx="2.56" ry="1.83" fill="#9a1010" opacity="0.5" transform="translate(56.70 37.37) rotate(164)"/><ellipse cx="-1.75" cy="0.31" rx="2.21" ry="1.58" fill="#9a1010" opacity="0.5" transform="translate(56.70 37.37) rotate(164)"/><ellipse cx="60.6" cy="32.9" rx="3.5" ry="3.7" fill="url(#rc)"/><ellipse cx="60.9" cy="33.1" rx="1.6" ry="1.5" fill="#b01414" opacity="0.4"/><ellipse cx="63.1" cy="23.8" rx="3.2" ry="3.2" fill="url(#rc)"/><ellipse cx="63.6" cy="24.3" rx="1.4" ry="1.3" fill="#c01818" opacity="0.4"/><ellipse cx="63.1" cy="15.5" rx="2.6" ry="2.7" fill="url(#rc)"/><ellipse cx="63.0" cy="15.0" rx="1.2" ry="1.1" fill="#e83420" opacity="0.4"/><path d="M-4.68,0 Q-0.94,-7.91 4.68,-0.59 Q0.47,7.36 -4.68,0 Z" fill="#e42a1c" stroke="#f04a30" stroke-width="0.5" transform="translate(4.51 39.95) rotate(98)"/><ellipse cx="0.21" cy="0.58" rx="1.67" ry="1.20" fill="#8a0e0e" opacity="0.5" transform="translate(4.51 39.95) rotate(98)"/><ellipse cx="-0.32" cy="-1.02" rx="1.99" ry="1.42" fill="#8a0e0e" opacity="0.5" transform="translate(4.51 39.95) rotate(98)"/><ellipse cx="21.3" cy="43.8" rx="3.1" ry="2.8" fill="url(#rc)"/><ellipse cx="20.9" cy="44.4" rx="1.4" ry="1.1" fill="#c01818" opacity="0.4"/><path d="M-5.10,0 Q-1.02,-6.80 5.10,0.87 Q0.51,7.02 -5.10,0 Z" fill="#d42018" stroke="#f04a30" stroke-width="0.5" transform="translate(12.89 51.55) rotate(116)"/><ellipse cx="-0.43" cy="-0.05" rx="2.37" ry="1.69" fill="#e82c1e" opacity="0.5" transform="translate(12.89 51.55) rotate(116)"/><ellipse cx="1.16" cy="-0.32" rx="2.24" ry="1.60" fill="#8a0e0e" opacity="0.5" transform="translate(12.89 51.55) rotate(116)"/><ellipse cx="5.2" cy="53.5" rx="3.7" ry="3.8" fill="url(#rc)"/><ellipse cx="5.3" cy="53.1" rx="1.7" ry="1.5" fill="#c01818" opacity="0.4"/><ellipse cx="25.8" cy="50.9" rx="3.0" ry="2.9" fill="url(#rc)"/><ellipse cx="25.3" cy="51.2" rx="1.3" ry="1.2" fill="#e83420" opacity="0.4"/><path d="M-4.26,0 Q-0.85,-7.44 4.26,0.39 Q0.43,6.24 -4.26,0 Z" fill="#dc2418" stroke="#f04a30" stroke-width="0.5" transform="translate(34.79 55.41) rotate(146)"/><ellipse cx="0.84" cy="-0.82" rx="1.88" ry="1.35" fill="#8a0e0e" opacity="0.5" transform="translate(34.79 55.41) rotate(146)"/><ellipse cx="0.53" cy="-0.27" rx="2.14" ry="1.53" fill="#8a0e0e" opacity="0.5" transform="translate(34.79 55.41) rotate(146)"/><path d="M-4.46,0 Q-0.89,-7.57 4.46,-0.95 Q0.45,6.80 -4.46,0 Z" fill="#e42a1c" stroke="#f04a30" stroke-width="0.5" transform="translate(20.62 58.63) rotate(106)"/><ellipse cx="-0.14" cy="0.90" rx="2.09" ry="1.49" fill="#a01212" opacity="0.5" transform="translate(20.62 58.63) rotate(106)"/><ellipse cx="0.80" cy="0.12" rx="1.50" ry="1.07" fill="#9a1010" opacity="0.5" transform="translate(20.62 58.63) rotate(106)"/><path d="M-4.05,0 Q-0.81,-6.07 4.05,-0.07 Q0.41,5.60 -4.05,0 Z" fill="#e42a1c" stroke="#f04a30" stroke-width="0.5" transform="translate(7.73 61.86) rotate(151)"/><ellipse cx="0.96" cy="-0.51" rx="1.65" ry="1.18" fill="#a01212" opacity="0.5" transform="translate(7.73 61.86) rotate(151)"/><ellipse cx="0.32" cy="-0.43" rx="1.36" ry="0.97" fill="#a01212" opacity="0.5" transform="translate(7.73 61.86) rotate(151)"/><path d="M-3.62,0 Q-0.72,-4.04 3.62,-0.15 Q0.36,5.30 -3.62,0 Z" fill="#d42018" stroke="#f04a30" stroke-width="0.5" transform="translate(32.22 63.14) rotate(152)"/><ellipse cx="0.97" cy="0.64" rx="1.45" ry="1.04" fill="#a01212" opacity="0.5" transform="translate(32.22 63.14) rotate(152)"/><ellipse cx="0.04" cy="-0.54" rx="1.30" ry="0.93" fill="#e82c1e" opacity="0.5" transform="translate(32.22 63.14) rotate(152)"/><path d="M-4.47,0 Q-0.89,-8.42 4.47,0.63 Q0.45,7.21 -4.47,0 Z" fill="#e42a1c" stroke="#f04a30" stroke-width="0.5" transform="translate(51.55 48.97) rotate(31)"/><ellipse cx="-1.08" cy="-0.16" rx="1.76" ry="1.25" fill="#e82c1e" opacity="0.5" transform="translate(51.55 48.97) rotate(31)"/><ellipse cx="-1.38" cy="0.00" rx="2.06" ry="1.47" fill="#a01212" opacity="0.5" transform="translate(51.55 48.97) rotate(31)"/><ellipse cx="60.6" cy="42.5" rx="2.6" ry="2.5" fill="url(#rc)"/><ellipse cx="60.6" cy="42.1" rx="1.2" ry="1.0" fill="#c01818" opacity="0.4"/><ellipse cx="63.1" cy="54.1" rx="2.4" ry="2.0" fill="url(#rc)"/><ellipse cx="63.0" cy="54.6" rx="1.1" ry="0.8" fill="#b01414" opacity="0.4"/></g></svg>
<line x1="457.30" y1="80.60" x2="474.20" y2="80.60" stroke="#ffffff" stroke-width="0.9"/>
<text x="465.60" y="78.30" font-size="6.0" text-anchor="middle" textLength="14.60" lengthAdjust="spacingAndGlyphs" fill="#ffffff" font-weight="bold">10 µm</text>
<text x="117.00" y="17.00" font-size="7.8" text-anchor="middle" textLength="40.70" lengthAdjust="spacingAndGlyphs" fill="#231f20" stroke="#231f20" stroke-width="0.15">No agonists</text>
<text x="260.60" y="16.80" font-size="7.8" text-anchor="middle" textLength="41.00" lengthAdjust="spacingAndGlyphs" fill="#231f20" stroke="#231f20" stroke-width="0.15">20 µM ADP</text>
<text x="411.10" y="16.60" font-size="7.8" text-anchor="middle" textLength="66.20" lengthAdjust="spacingAndGlyphs" fill="#231f20" stroke="#231f20" stroke-width="0.15">0.1 U/mL Thrombin</text>
<text x="47.90" y="51.80" font-size="7.6" text-anchor="middle" textLength="22.40" lengthAdjust="spacingAndGlyphs" fill="#231f20" stroke="#231f20" stroke-width="0.15" transform="rotate(-90 47.90 51.80)">F-actin</text>
<text x="85.00" y="97.70" font-size="7.8" text-anchor="middle" textLength="25.00" lengthAdjust="spacingAndGlyphs" fill="#231f20" stroke="#231f20" stroke-width="0.15"><tspan font-style="italic">Actn1</tspan><tspan font-size="4.29" dy="-2.96">fl/fl</tspan><tspan dy="2.96"></tspan></text>
<text x="149.75" y="97.70" font-size="7.8" text-anchor="middle" textLength="40.60" lengthAdjust="spacingAndGlyphs" fill="#231f20" stroke="#231f20" stroke-width="0.15">PF4-<tspan font-style="italic">Actn1</tspan><tspan font-size="4.29" dy="-2.96">−/−</tspan><tspan dy="2.96"></tspan></text>
<text x="231.25" y="97.70" font-size="7.8" text-anchor="middle" textLength="25.00" lengthAdjust="spacingAndGlyphs" fill="#231f20" stroke="#231f20" stroke-width="0.15"><tspan font-style="italic">Actn1</tspan><tspan font-size="4.29" dy="-2.96">fl/fl</tspan><tspan dy="2.96"></tspan></text>
<text x="296.30" y="97.70" font-size="7.8" text-anchor="middle" textLength="40.60" lengthAdjust="spacingAndGlyphs" fill="#231f20" stroke="#231f20" stroke-width="0.15">PF4-<tspan font-style="italic">Actn1</tspan><tspan font-size="4.29" dy="-2.96">−/−</tspan><tspan dy="2.96"></tspan></text>
<text x="377.70" y="97.70" font-size="7.8" text-anchor="middle" textLength="25.00" lengthAdjust="spacingAndGlyphs" fill="#231f20" stroke="#231f20" stroke-width="0.15"><tspan font-style="italic">Actn1</tspan><tspan font-size="4.29" dy="-2.96">fl/fl</tspan><tspan dy="2.96"></tspan></text>
<text x="442.65" y="97.70" font-size="7.8" text-anchor="middle" textLength="40.60" lengthAdjust="spacingAndGlyphs" fill="#231f20" stroke="#231f20" stroke-width="0.15">PF4-<tspan font-style="italic">Actn1</tspan><tspan font-size="4.29" dy="-2.96">−/−</tspan><tspan dy="2.96"></tspan></text>
<line x1="55.00" y1="102.20" x2="476.00" y2="102.20" stroke="#7a7a7a" stroke-width="1.3"/>
<text x="265.40" y="111.00" font-size="7.8" text-anchor="middle" textLength="68.80" lengthAdjust="spacingAndGlyphs" fill="#231f20" stroke="#231f20" stroke-width="0.15">20 µg/ml Fibrinogen</text>
<line x1="46.00" y1="152.00" x2="46.00" y2="221.10" stroke="#231f20" stroke-width="1.3"/>
<line x1="43.00" y1="221.10" x2="46.00" y2="221.10" stroke="#231f20" stroke-width="1.3"/>
<text x="40.30" y="223.91" font-size="7.8" text-anchor="end" fill="#231f20" stroke="#231f20" stroke-width="0.15">0</text>
<line x1="43.00" y1="204.43" x2="46.00" y2="204.43" stroke="#231f20" stroke-width="1.3"/>
<text x="40.30" y="207.24" font-size="7.8" text-anchor="end" fill="#231f20" stroke="#231f20" stroke-width="0.15">10</text>
<line x1="43.00" y1="187.76" x2="46.00" y2="187.76" stroke="#231f20" stroke-width="1.3"/>
<text x="40.30" y="190.57" font-size="7.8" text-anchor="end" fill="#231f20" stroke="#231f20" stroke-width="0.15">20</text>
<line x1="43.00" y1="171.09" x2="46.00" y2="171.09" stroke="#231f20" stroke-width="1.3"/>
<text x="40.30" y="173.90" font-size="7.8" text-anchor="end" fill="#231f20" stroke="#231f20" stroke-width="0.15">30</text>
<line x1="43.00" y1="154.42" x2="46.00" y2="154.42" stroke="#231f20" stroke-width="1.3"/>
<text x="40.30" y="157.23" font-size="7.8" text-anchor="end" fill="#231f20" stroke="#231f20" stroke-width="0.15">40</text>
<line x1="74.40" y1="152.00" x2="74.40" y2="221.00" stroke="#c4c4c4" stroke-width="0.8"/>
<line x1="102.50" y1="152.00" x2="102.50" y2="221.00" stroke="#c4c4c4" stroke-width="0.8"/>
<rect x="50.80" y="179.09" width="8.30" height="42.01" fill="#8898c6"/>
<line x1="54.95" y1="178.09" x2="54.95" y2="180.09" stroke="#2b4f8f" stroke-width="0.9"/>
<line x1="53.20" y1="178.09" x2="56.70" y2="178.09" stroke="#2b4f8f" stroke-width="0.9"/>
<rect x="61.30" y="196.76" width="8.30" height="24.34" fill="#ec8a78"/>
<line x1="65.45" y1="194.76" x2="65.45" y2="198.76" stroke="#c43a2a" stroke-width="0.9"/>
<line x1="63.70" y1="194.76" x2="67.20" y2="194.76" stroke="#c43a2a" stroke-width="0.9"/>
<rect x="78.60" y="170.26" width="8.30" height="50.84" fill="#8898c6"/>
<line x1="82.75" y1="168.59" x2="82.75" y2="171.92" stroke="#2b4f8f" stroke-width="0.9"/>
<line x1="81.00" y1="168.59" x2="84.50" y2="168.59" stroke="#2b4f8f" stroke-width="0.9"/>
<rect x="89.20" y="192.76" width="8.30" height="28.34" fill="#ec8a78"/>
<line x1="93.35" y1="191.26" x2="93.35" y2="194.26" stroke="#c43a2a" stroke-width="0.9"/>
<line x1="91.60" y1="191.26" x2="95.10" y2="191.26" stroke="#c43a2a" stroke-width="0.9"/>
<rect x="106.90" y="166.09" width="8.30" height="55.01" fill="#8898c6"/>
<line x1="111.05" y1="163.76" x2="111.05" y2="168.42" stroke="#2b4f8f" stroke-width="0.9"/>
<line x1="109.30" y1="163.76" x2="112.80" y2="163.76" stroke="#2b4f8f" stroke-width="0.9"/>
<rect x="117.50" y="186.93" width="8.30" height="34.17" fill="#ec8a78"/>
<line x1="121.65" y1="185.59" x2="121.65" y2="188.26" stroke="#c43a2a" stroke-width="0.9"/>
<line x1="119.90" y1="185.59" x2="123.40" y2="185.59" stroke="#c43a2a" stroke-width="0.9"/>
<line x1="45.20" y1="221.30" x2="130.80" y2="221.30" stroke="#231f20" stroke-width="1.3"/>
<text x="65.50" y="191.70" font-size="7.0" text-anchor="middle" fill="#231f20" stroke="#231f20" stroke-width="0.15">***</text>
<text x="93.50" y="189.80" font-size="7.0" text-anchor="middle" fill="#231f20" stroke="#231f20" stroke-width="0.15">***</text>
<text x="121.70" y="184.70" font-size="7.0" text-anchor="middle" fill="#231f20" stroke="#231f20" stroke-width="0.15">***</text>
<text x="57.50" y="227.40" font-size="8.3" text-anchor="end" textLength="19.60" lengthAdjust="spacingAndGlyphs" fill="#231f20" stroke="#231f20" stroke-width="0.15" transform="rotate(-45 57.50 227.40)">n = 3</text>
<text x="68.00" y="227.40" font-size="8.3" text-anchor="end" textLength="19.60" lengthAdjust="spacingAndGlyphs" fill="#231f20" stroke="#231f20" stroke-width="0.15" transform="rotate(-45 68.00 227.40)">n = 3</text>
<text x="85.30" y="227.40" font-size="8.3" text-anchor="end" textLength="19.60" lengthAdjust="spacingAndGlyphs" fill="#231f20" stroke="#231f20" stroke-width="0.15" transform="rotate(-45 85.30 227.40)">n = 3</text>
<text x="95.90" y="227.40" font-size="8.3" text-anchor="end" textLength="19.60" lengthAdjust="spacingAndGlyphs" fill="#231f20" stroke="#231f20" stroke-width="0.15" transform="rotate(-45 95.90 227.40)">n = 3</text>
<text x="113.60" y="227.40" font-size="8.3" text-anchor="end" textLength="19.60" lengthAdjust="spacingAndGlyphs" fill="#231f20" stroke="#231f20" stroke-width="0.15" transform="rotate(-45 113.60 227.40)">n = 3</text>
<text x="124.20" y="227.40" font-size="8.3" text-anchor="end" textLength="19.60" lengthAdjust="spacingAndGlyphs" fill="#231f20" stroke="#231f20" stroke-width="0.15" transform="rotate(-45 124.20 227.40)">n = 3</text>
<text x="53.60" y="143.00" font-size="7.8" text-anchor="middle" textLength="40.40" lengthAdjust="spacingAndGlyphs" fill="#231f20" stroke="#231f20" stroke-width="0.15">No agonists</text>
<text x="88.10" y="143.00" font-size="7.8" text-anchor="middle" textLength="15.40" lengthAdjust="spacingAndGlyphs" fill="#231f20" stroke="#231f20" stroke-width="0.15">ADP</text>
<text x="116.60" y="143.00" font-size="7.8" text-anchor="middle" textLength="30.80" lengthAdjust="spacingAndGlyphs" fill="#231f20" stroke="#231f20" stroke-width="0.15">Thrombin</text>
<text x="25.30" y="186.30" font-size="9.3" text-anchor="middle" textLength="53.00" lengthAdjust="spacingAndGlyphs" fill="#231f20" stroke="#231f20" stroke-width="0.15" transform="rotate(-90 25.30 186.30)">Surface areas (%)</text>
<rect x="43.20" y="130.00" width="5.50" height="3.90" fill="#1d4a8a"/>
<text x="51.90" y="134.10" font-size="7.4" textLength="23.70" lengthAdjust="spacingAndGlyphs" fill="#231f20" stroke="#231f20" stroke-width="0.15"><tspan font-style="italic">Actn1</tspan><tspan font-size="4.07" dy="-2.81">fl/fl</tspan><tspan dy="2.81"></tspan></text>
<rect x="82.10" y="130.00" width="5.80" height="3.90" fill="#c8203c"/>
<text x="90.40" y="134.10" font-size="7.4" textLength="42.90" lengthAdjust="spacingAndGlyphs" fill="#231f20" stroke="#231f20" stroke-width="0.15">PF4-<tspan font-style="italic">Actn1</tspan><tspan font-size="4.07" dy="-2.81">−/−</tspan><tspan dy="2.81"></tspan></text>
<line x1="173.70" y1="152.00" x2="173.70" y2="220.80" stroke="#231f20" stroke-width="1.3"/>
<line x1="170.70" y1="220.60" x2="173.70" y2="220.60" stroke="#231f20" stroke-width="1.3"/>
<text x="167.60" y="223.41" font-size="7.8" text-anchor="end" fill="#231f20" stroke="#231f20" stroke-width="0.15">0</text>
<line x1="170.70" y1="204.10" x2="173.70" y2="204.10" stroke="#231f20" stroke-width="1.3"/>
<text x="167.60" y="206.91" font-size="7.8" text-anchor="end" fill="#231f20" stroke="#231f20" stroke-width="0.15">1</text>
<line x1="170.70" y1="187.60" x2="173.70" y2="187.60" stroke="#231f20" stroke-width="1.3"/>
<text x="167.60" y="190.41" font-size="7.8" text-anchor="end" fill="#231f20" stroke="#231f20" stroke-width="0.15">2</text>
<line x1="170.70" y1="171.10" x2="173.70" y2="171.10" stroke="#231f20" stroke-width="1.3"/>
<text x="167.60" y="173.91" font-size="7.8" text-anchor="end" fill="#231f20" stroke="#231f20" stroke-width="0.15">3</text>
<line x1="170.70" y1="154.60" x2="173.70" y2="154.60" stroke="#231f20" stroke-width="1.3"/>
<text x="167.60" y="157.41" font-size="7.8" text-anchor="end" fill="#231f20" stroke="#231f20" stroke-width="0.15">4</text>
<line x1="202.90" y1="152.00" x2="202.90" y2="220.60" stroke="#c4c4c4" stroke-width="0.8"/>
<line x1="230.20" y1="152.00" x2="230.20" y2="220.60" stroke="#c4c4c4" stroke-width="0.8"/>
<rect x="178.30" y="204.76" width="9.20" height="16.14" fill="#8898c6"/>
<g fill="#1b2b50"><circle cx="182.8" cy="197.0" r="0.8"/><circle cx="183.7" cy="212.1" r="0.8"/><circle cx="185.4" cy="211.1" r="0.8"/><circle cx="181.7" cy="205.2" r="0.8"/><circle cx="180.8" cy="201.1" r="0.8"/><circle cx="184.9" cy="200.7" r="0.8"/><circle cx="179.3" cy="208.2" r="0.8"/><circle cx="180.2" cy="204.8" r="0.8"/><circle cx="182.6" cy="213.1" r="0.8"/><circle cx="185.6" cy="209.1" r="0.8"/><circle cx="183.7" cy="202.2" r="0.8"/><circle cx="180.9" cy="214.0" r="0.8"/><circle cx="181.2" cy="215.2" r="0.8"/><circle cx="185.3" cy="214.6" r="0.8"/><circle cx="185.5" cy="207.9" r="0.8"/><circle cx="182.0" cy="186.7" r="0.8"/><circle cx="184.6" cy="200.0" r="0.8"/><circle cx="182.1" cy="189.5" r="0.8"/><circle cx="185.2" cy="210.7" r="0.8"/><circle cx="187.2" cy="215.1" r="0.8"/><circle cx="179.6" cy="211.6" r="0.8"/><circle cx="185.6" cy="215.6" r="0.8"/><circle cx="183.4" cy="211.3" r="0.8"/><circle cx="179.9" cy="209.8" r="0.8"/><circle cx="179.4" cy="213.6" r="0.8"/><circle cx="186.7" cy="209.9" r="0.8"/><circle cx="181.3" cy="210.6" r="0.8"/><circle cx="185.9" cy="210.7" r="0.8"/><circle cx="179.5" cy="211.3" r="0.8"/><circle cx="185.0" cy="209.1" r="0.8"/><circle cx="181.0" cy="215.2" r="0.8"/><circle cx="180.7" cy="212.0" r="0.8"/><circle cx="181.7" cy="213.8" r="0.8"/><circle cx="183.1" cy="192.6" r="0.8"/><circle cx="181.0" cy="204.5" r="0.8"/><circle cx="182.1" cy="196.8" r="0.8"/><circle cx="183.8" cy="198.5" r="0.8"/><circle cx="185.5" cy="206.3" r="0.8"/><circle cx="182.2" cy="213.3" r="0.8"/><circle cx="180.6" cy="212.3" r="0.8"/><circle cx="180.7" cy="214.0" r="0.8"/><circle cx="180.3" cy="209.9" r="0.8"/><circle cx="180.4" cy="204.2" r="0.8"/><circle cx="183.9" cy="213.0" r="0.8"/><circle cx="185.2" cy="203.6" r="0.8"/><circle cx="182.4" cy="215.2" r="0.8"/><circle cx="180.0" cy="214.0" r="0.8"/><circle cx="181.9" cy="207.2" r="0.8"/><circle cx="185.1" cy="201.1" r="0.8"/><circle cx="180.3" cy="207.6" r="0.8"/><circle cx="180.3" cy="203.5" r="0.8"/><circle cx="181.5" cy="195.7" r="0.8"/><circle cx="182.8" cy="207.8" r="0.8"/><circle cx="179.0" cy="214.0" r="0.8"/><circle cx="184.6" cy="207.4" r="0.8"/><circle cx="184.4" cy="203.1" r="0.8"/><circle cx="182.2" cy="201.1" r="0.8"/><circle cx="182.5" cy="202.7" r="0.8"/><circle cx="184.0" cy="196.9" r="0.8"/><circle cx="183.4" cy="203.7" r="0.8"/><circle cx="179.5" cy="209.8" r="0.8"/><circle cx="183.3" cy="184.8" r="0.8"/><circle cx="183.4" cy="192.5" r="0.8"/><circle cx="181.0" cy="201.3" r="0.8"/><circle cx="179.0" cy="210.7" r="0.8"/><circle cx="184.3" cy="206.9" r="0.8"/><circle cx="183.8" cy="209.2" r="0.8"/><circle cx="181.3" cy="209.2" r="0.8"/><circle cx="180.3" cy="212.1" r="0.8"/><circle cx="182.5" cy="205.7" r="0.8"/><circle cx="182.6" cy="186.7" r="0.8"/><circle cx="185.6" cy="212.5" r="0.8"/><circle cx="185.5" cy="206.9" r="0.8"/><circle cx="180.5" cy="206.2" r="0.8"/><circle cx="185.3" cy="207.3" r="0.8"/><circle cx="181.8" cy="201.7" r="0.8"/><circle cx="182.6" cy="203.5" r="0.8"/><circle cx="184.1" cy="214.6" r="0.8"/><circle cx="181.4" cy="209.1" r="0.8"/><circle cx="181.0" cy="201.3" r="0.8"/><circle cx="183.8" cy="192.8" r="0.8"/><circle cx="182.0" cy="201.2" r="0.8"/><circle cx="178.7" cy="211.8" r="0.8"/><circle cx="185.4" cy="208.8" r="0.8"/><circle cx="180.3" cy="207.8" r="0.8"/><circle cx="183.6" cy="202.8" r="0.8"/><circle cx="185.6" cy="211.8" r="0.8"/><circle cx="182.8" cy="201.7" r="0.8"/><circle cx="178.6" cy="211.9" r="0.8"/><circle cx="181.9" cy="200.8" r="0.8"/><circle cx="184.7" cy="213.0" r="0.8"/><circle cx="182.4" cy="202.6" r="0.8"/><circle cx="186.6" cy="214.0" r="0.8"/><circle cx="181.8" cy="196.8" r="0.8"/><circle cx="183.6" cy="204.2" r="0.8"/><circle cx="185.7" cy="207.8" r="0.8"/><circle cx="186.6" cy="210.7" r="0.8"/><circle cx="184.0" cy="202.2" r="0.8"/><circle cx="184.1" cy="210.7" r="0.8"/><circle cx="187.2" cy="213.5" r="0.8"/><circle cx="183.1" cy="205.3" r="0.8"/><circle cx="186.0" cy="212.3" r="0.8"/><circle cx="179.9" cy="207.6" r="0.8"/><circle cx="182.8" cy="204.5" r="0.8"/><circle cx="185.5" cy="211.3" r="0.8"/><circle cx="182.2" cy="200.0" r="0.8"/><circle cx="180.1" cy="209.0" r="0.8"/><circle cx="185.5" cy="208.8" r="0.8"/><circle cx="185.9" cy="206.4" r="0.8"/><circle cx="182.3" cy="192.5" r="0.8"/><circle cx="181.0" cy="214.6" r="0.8"/><circle cx="186.0" cy="213.9" r="0.8"/><circle cx="182.0" cy="202.2" r="0.8"/><circle cx="182.2" cy="194.1" r="0.8"/><circle cx="184.2" cy="195.7" r="0.8"/><circle cx="183.1" cy="203.4" r="0.8"/><circle cx="183.9" cy="213.8" r="0.8"/><circle cx="182.7" cy="190.9" r="0.8"/><circle cx="183.0" cy="178.5" r="0.8"/><circle cx="183.3" cy="185.0" r="0.8"/><circle cx="183.0" cy="193.9" r="0.8"/><circle cx="183.8" cy="186.6" r="0.8"/><circle cx="182.4" cy="176.0" r="0.8"/><circle cx="182.2" cy="185.4" r="0.8"/><circle cx="183.5" cy="186.2" r="0.8"/><circle cx="182.9" cy="176.5" r="0.8"/><circle cx="182.3" cy="188.6" r="0.8"/></g>
<line x1="182.90" y1="196.05" x2="182.90" y2="213.47" stroke="#10204a" stroke-width="0.8"/>
<line x1="179.90" y1="196.05" x2="185.90" y2="196.05" stroke="#10204a" stroke-width="0.8"/>
<rect x="189.40" y="209.71" width="9.20" height="11.19" fill="#ec8a78"/>
<g fill="#4a0c14"><circle cx="197.6" cy="213.4" r="0.8"/><circle cx="192.2" cy="209.8" r="0.8"/><circle cx="195.0" cy="209.5" r="0.8"/><circle cx="190.6" cy="213.6" r="0.8"/><circle cx="191.3" cy="211.5" r="0.8"/><circle cx="194.2" cy="211.9" r="0.8"/><circle cx="192.9" cy="215.4" r="0.8"/><circle cx="192.1" cy="210.5" r="0.8"/><circle cx="195.1" cy="212.5" r="0.8"/><circle cx="195.2" cy="206.2" r="0.8"/><circle cx="196.1" cy="213.9" r="0.8"/><circle cx="192.6" cy="211.7" r="0.8"/><circle cx="193.5" cy="199.9" r="0.8"/><circle cx="193.3" cy="205.4" r="0.8"/><circle cx="191.8" cy="215.5" r="0.8"/><circle cx="195.3" cy="208.1" r="0.8"/><circle cx="193.4" cy="210.3" r="0.8"/><circle cx="195.7" cy="215.3" r="0.8"/><circle cx="198.2" cy="214.3" r="0.8"/><circle cx="194.0" cy="211.3" r="0.8"/><circle cx="191.7" cy="211.8" r="0.8"/><circle cx="194.4" cy="213.6" r="0.8"/><circle cx="194.6" cy="214.7" r="0.8"/><circle cx="197.0" cy="213.8" r="0.8"/><circle cx="197.2" cy="211.7" r="0.8"/><circle cx="193.7" cy="213.3" r="0.8"/><circle cx="192.4" cy="214.7" r="0.8"/><circle cx="194.6" cy="209.9" r="0.8"/><circle cx="195.8" cy="214.4" r="0.8"/><circle cx="196.1" cy="213.9" r="0.8"/><circle cx="191.4" cy="213.1" r="0.8"/><circle cx="197.2" cy="212.7" r="0.8"/><circle cx="194.8" cy="207.6" r="0.8"/><circle cx="194.7" cy="211.2" r="0.8"/><circle cx="197.0" cy="210.4" r="0.8"/><circle cx="196.1" cy="213.6" r="0.8"/><circle cx="196.4" cy="212.1" r="0.8"/><circle cx="194.4" cy="201.8" r="0.8"/><circle cx="195.5" cy="209.8" r="0.8"/><circle cx="193.2" cy="209.1" r="0.8"/><circle cx="190.5" cy="211.3" r="0.8"/><circle cx="192.1" cy="211.3" r="0.8"/><circle cx="194.6" cy="206.8" r="0.8"/><circle cx="194.2" cy="211.9" r="0.8"/><circle cx="196.8" cy="209.5" r="0.8"/><circle cx="197.2" cy="210.9" r="0.8"/><circle cx="194.7" cy="209.7" r="0.8"/><circle cx="189.9" cy="215.4" r="0.8"/><circle cx="193.1" cy="211.9" r="0.8"/><circle cx="194.3" cy="210.8" r="0.8"/><circle cx="198.0" cy="213.5" r="0.8"/><circle cx="194.6" cy="201.1" r="0.8"/><circle cx="194.5" cy="209.0" r="0.8"/><circle cx="190.9" cy="215.5" r="0.8"/><circle cx="191.0" cy="214.2" r="0.8"/><circle cx="196.3" cy="208.9" r="0.8"/><circle cx="194.2" cy="215.5" r="0.8"/><circle cx="195.2" cy="211.8" r="0.8"/><circle cx="192.2" cy="213.0" r="0.8"/><circle cx="191.7" cy="214.8" r="0.8"/><circle cx="191.5" cy="211.6" r="0.8"/><circle cx="196.3" cy="215.4" r="0.8"/><circle cx="197.3" cy="210.8" r="0.8"/><circle cx="193.4" cy="212.8" r="0.8"/><circle cx="198.3" cy="215.0" r="0.8"/><circle cx="196.0" cy="215.3" r="0.8"/><circle cx="196.7" cy="209.7" r="0.8"/><circle cx="195.0" cy="212.9" r="0.8"/><circle cx="192.3" cy="209.6" r="0.8"/><circle cx="193.7" cy="210.0" r="0.8"/><circle cx="193.6" cy="213.7" r="0.8"/><circle cx="196.5" cy="215.2" r="0.8"/><circle cx="196.6" cy="209.2" r="0.8"/><circle cx="192.3" cy="208.0" r="0.8"/><circle cx="196.2" cy="211.9" r="0.8"/><circle cx="195.5" cy="212.4" r="0.8"/><circle cx="194.7" cy="212.4" r="0.8"/><circle cx="192.5" cy="210.2" r="0.8"/><circle cx="195.3" cy="205.9" r="0.8"/><circle cx="191.9" cy="214.6" r="0.8"/><circle cx="195.1" cy="214.7" r="0.8"/><circle cx="191.3" cy="210.8" r="0.8"/><circle cx="194.4" cy="212.0" r="0.8"/><circle cx="191.7" cy="212.4" r="0.8"/><circle cx="195.9" cy="212.2" r="0.8"/><circle cx="196.8" cy="214.6" r="0.8"/><circle cx="196.4" cy="214.0" r="0.8"/><circle cx="196.8" cy="214.5" r="0.8"/><circle cx="195.0" cy="210.6" r="0.8"/><circle cx="195.7" cy="211.3" r="0.8"/><circle cx="193.3" cy="215.2" r="0.8"/><circle cx="190.4" cy="213.2" r="0.8"/><circle cx="194.6" cy="214.0" r="0.8"/><circle cx="195.3" cy="208.2" r="0.8"/><circle cx="191.4" cy="214.9" r="0.8"/><circle cx="196.0" cy="214.6" r="0.8"/><circle cx="192.1" cy="213.9" r="0.8"/><circle cx="192.9" cy="212.8" r="0.8"/><circle cx="195.6" cy="212.0" r="0.8"/><circle cx="194.7" cy="199.7" r="0.8"/><circle cx="196.1" cy="211.0" r="0.8"/><circle cx="197.9" cy="214.2" r="0.8"/><circle cx="192.7" cy="209.2" r="0.8"/><circle cx="193.2" cy="212.6" r="0.8"/><circle cx="191.7" cy="212.1" r="0.8"/><circle cx="195.4" cy="207.6" r="0.8"/><circle cx="191.5" cy="212.2" r="0.8"/><circle cx="189.6" cy="215.1" r="0.8"/><circle cx="194.1" cy="205.6" r="0.8"/><circle cx="194.7" cy="204.0" r="0.8"/><circle cx="194.3" cy="210.4" r="0.8"/><circle cx="196.2" cy="215.2" r="0.8"/><circle cx="190.7" cy="212.5" r="0.8"/><circle cx="195.3" cy="213.8" r="0.8"/><circle cx="191.6" cy="213.6" r="0.8"/><circle cx="193.0" cy="215.1" r="0.8"/><circle cx="196.7" cy="209.7" r="0.8"/><circle cx="195.8" cy="213.0" r="0.8"/><circle cx="196.7" cy="210.6" r="0.8"/><circle cx="195.5" cy="207.9" r="0.8"/><circle cx="195.4" cy="207.8" r="0.8"/><circle cx="194.1" cy="206.2" r="0.8"/><circle cx="195.3" cy="207.7" r="0.8"/><circle cx="195.7" cy="211.1" r="0.8"/><circle cx="193.1" cy="211.8" r="0.8"/><circle cx="192.2" cy="214.0" r="0.8"/><circle cx="191.0" cy="211.0" r="0.8"/><circle cx="196.5" cy="214.8" r="0.8"/><circle cx="190.3" cy="213.4" r="0.8"/><circle cx="192.6" cy="205.6" r="0.8"/><circle cx="191.2" cy="214.0" r="0.8"/><circle cx="194.9" cy="214.9" r="0.8"/><circle cx="191.6" cy="212.1" r="0.8"/><circle cx="192.3" cy="215.1" r="0.8"/><circle cx="196.6" cy="212.7" r="0.8"/><circle cx="196.3" cy="209.6" r="0.8"/><circle cx="194.4" cy="215.2" r="0.8"/><circle cx="191.2" cy="210.2" r="0.8"/><circle cx="196.6" cy="213.2" r="0.8"/><circle cx="192.4" cy="211.1" r="0.8"/><circle cx="194.9" cy="209.3" r="0.8"/><circle cx="192.8" cy="215.6" r="0.8"/><circle cx="195.9" cy="214.9" r="0.8"/><circle cx="192.5" cy="213.4" r="0.8"/><circle cx="197.2" cy="213.9" r="0.8"/><circle cx="193.4" cy="204.5" r="0.8"/><circle cx="190.8" cy="214.9" r="0.8"/><circle cx="197.2" cy="215.6" r="0.8"/><circle cx="190.2" cy="215.2" r="0.8"/><circle cx="193.8" cy="214.7" r="0.8"/><circle cx="196.0" cy="207.9" r="0.8"/><circle cx="195.1" cy="207.4" r="0.8"/><circle cx="196.7" cy="210.6" r="0.8"/><circle cx="194.2" cy="207.9" r="0.8"/><circle cx="191.7" cy="210.7" r="0.8"/><circle cx="190.3" cy="213.6" r="0.8"/><circle cx="193.8" cy="212.0" r="0.8"/><circle cx="190.4" cy="214.6" r="0.8"/><circle cx="193.7" cy="211.1" r="0.8"/><circle cx="192.3" cy="206.6" r="0.8"/><circle cx="195.8" cy="213.7" r="0.8"/><circle cx="189.5" cy="215.2" r="0.8"/><circle cx="194.9" cy="205.6" r="0.8"/><circle cx="192.9" cy="213.8" r="0.8"/><circle cx="192.9" cy="209.1" r="0.8"/><circle cx="192.0" cy="213.1" r="0.8"/><circle cx="195.7" cy="211.5" r="0.8"/><circle cx="195.3" cy="210.0" r="0.8"/><circle cx="194.9" cy="205.3" r="0.8"/><circle cx="195.5" cy="213.4" r="0.8"/><circle cx="191.1" cy="214.2" r="0.8"/><circle cx="192.2" cy="208.0" r="0.8"/><circle cx="191.9" cy="210.3" r="0.8"/><circle cx="197.2" cy="212.1" r="0.8"/><circle cx="194.1" cy="212.1" r="0.8"/><circle cx="193.5" cy="207.6" r="0.8"/><circle cx="193.5" cy="209.0" r="0.8"/><circle cx="197.2" cy="210.7" r="0.8"/><circle cx="195.5" cy="215.2" r="0.8"/><circle cx="192.6" cy="214.9" r="0.8"/><circle cx="190.4" cy="215.1" r="0.8"/><circle cx="196.3" cy="211.4" r="0.8"/><circle cx="191.5" cy="211.6" r="0.8"/><circle cx="192.7" cy="214.6" r="0.8"/><circle cx="193.3" cy="201.2" r="0.8"/><circle cx="195.0" cy="200.3" r="0.8"/><circle cx="194.4" cy="201.1" r="0.8"/><circle cx="193.4" cy="199.8" r="0.8"/><circle cx="194.3" cy="199.4" r="0.8"/></g>
<line x1="194.00" y1="203.72" x2="194.00" y2="215.65" stroke="#3a0a0a" stroke-width="0.8"/>
<line x1="191.00" y1="203.72" x2="197.00" y2="203.72" stroke="#3a0a0a" stroke-width="0.8"/>
<rect x="206.30" y="201.79" width="9.20" height="19.11" fill="#8898c6"/>
<g fill="#1b2b50"><circle cx="209.8" cy="191.4" r="0.8"/><circle cx="209.3" cy="215.1" r="0.8"/><circle cx="210.5" cy="192.0" r="0.8"/><circle cx="208.2" cy="206.6" r="0.8"/><circle cx="211.3" cy="213.5" r="0.8"/><circle cx="213.3" cy="202.2" r="0.8"/><circle cx="213.3" cy="207.0" r="0.8"/><circle cx="209.2" cy="208.2" r="0.8"/><circle cx="208.7" cy="210.1" r="0.8"/><circle cx="211.1" cy="196.6" r="0.8"/><circle cx="207.5" cy="206.2" r="0.8"/><circle cx="211.4" cy="193.0" r="0.8"/><circle cx="211.2" cy="185.5" r="0.8"/><circle cx="213.7" cy="214.8" r="0.8"/><circle cx="208.9" cy="204.6" r="0.8"/><circle cx="211.5" cy="209.5" r="0.8"/><circle cx="211.1" cy="214.4" r="0.8"/><circle cx="212.2" cy="214.4" r="0.8"/><circle cx="211.8" cy="201.1" r="0.8"/><circle cx="210.8" cy="198.1" r="0.8"/><circle cx="211.3" cy="193.1" r="0.8"/><circle cx="210.8" cy="208.6" r="0.8"/><circle cx="211.6" cy="187.4" r="0.8"/><circle cx="211.4" cy="208.6" r="0.8"/><circle cx="211.0" cy="201.0" r="0.8"/><circle cx="210.2" cy="196.7" r="0.8"/><circle cx="213.0" cy="213.8" r="0.8"/><circle cx="212.2" cy="200.8" r="0.8"/><circle cx="211.5" cy="204.9" r="0.8"/><circle cx="210.9" cy="210.4" r="0.8"/><circle cx="206.8" cy="213.2" r="0.8"/><circle cx="209.2" cy="211.0" r="0.8"/><circle cx="209.3" cy="202.7" r="0.8"/><circle cx="211.2" cy="179.5" r="0.8"/><circle cx="210.5" cy="199.1" r="0.8"/><circle cx="211.5" cy="212.9" r="0.8"/><circle cx="208.3" cy="203.6" r="0.8"/><circle cx="215.0" cy="214.1" r="0.8"/><circle cx="208.7" cy="210.1" r="0.8"/><circle cx="214.4" cy="212.6" r="0.8"/><circle cx="210.4" cy="200.4" r="0.8"/><circle cx="207.5" cy="206.4" r="0.8"/><circle cx="210.1" cy="196.9" r="0.8"/><circle cx="210.9" cy="173.6" r="0.8"/><circle cx="209.0" cy="215.4" r="0.8"/><circle cx="212.0" cy="194.4" r="0.8"/><circle cx="210.7" cy="204.4" r="0.8"/><circle cx="209.6" cy="198.1" r="0.8"/><circle cx="209.8" cy="195.2" r="0.8"/><circle cx="212.9" cy="213.0" r="0.8"/><circle cx="214.5" cy="213.2" r="0.8"/><circle cx="212.1" cy="203.5" r="0.8"/><circle cx="210.7" cy="194.8" r="0.8"/><circle cx="212.6" cy="208.6" r="0.8"/><circle cx="208.1" cy="211.8" r="0.8"/><circle cx="209.7" cy="214.1" r="0.8"/><circle cx="212.7" cy="199.0" r="0.8"/><circle cx="214.4" cy="208.8" r="0.8"/><circle cx="208.9" cy="211.3" r="0.8"/><circle cx="210.4" cy="210.6" r="0.8"/><circle cx="211.2" cy="211.9" r="0.8"/><circle cx="209.6" cy="201.0" r="0.8"/><circle cx="207.5" cy="208.8" r="0.8"/><circle cx="209.0" cy="211.5" r="0.8"/><circle cx="209.6" cy="197.2" r="0.8"/><circle cx="210.8" cy="188.9" r="0.8"/><circle cx="210.5" cy="195.5" r="0.8"/><circle cx="211.3" cy="203.7" r="0.8"/><circle cx="209.7" cy="209.9" r="0.8"/><circle cx="210.9" cy="204.9" r="0.8"/><circle cx="211.3" cy="189.2" r="0.8"/><circle cx="211.5" cy="188.1" r="0.8"/><circle cx="211.9" cy="212.1" r="0.8"/><circle cx="213.5" cy="214.5" r="0.8"/><circle cx="209.2" cy="203.5" r="0.8"/><circle cx="210.9" cy="207.7" r="0.8"/><circle cx="211.8" cy="215.1" r="0.8"/><circle cx="208.2" cy="210.5" r="0.8"/><circle cx="208.3" cy="201.3" r="0.8"/><circle cx="209.4" cy="203.6" r="0.8"/><circle cx="207.0" cy="215.4" r="0.8"/><circle cx="212.7" cy="203.4" r="0.8"/><circle cx="208.2" cy="207.6" r="0.8"/><circle cx="212.0" cy="214.4" r="0.8"/><circle cx="208.8" cy="212.6" r="0.8"/><circle cx="208.2" cy="209.1" r="0.8"/><circle cx="207.8" cy="213.1" r="0.8"/><circle cx="207.5" cy="207.9" r="0.8"/><circle cx="210.4" cy="195.8" r="0.8"/><circle cx="210.8" cy="209.4" r="0.8"/><circle cx="211.9" cy="186.4" r="0.8"/><circle cx="207.3" cy="208.0" r="0.8"/><circle cx="213.7" cy="205.8" r="0.8"/><circle cx="210.3" cy="208.5" r="0.8"/><circle cx="207.4" cy="206.9" r="0.8"/><circle cx="209.8" cy="196.5" r="0.8"/><circle cx="211.4" cy="215.2" r="0.8"/><circle cx="209.7" cy="214.6" r="0.8"/><circle cx="213.9" cy="203.1" r="0.8"/><circle cx="212.3" cy="213.2" r="0.8"/><circle cx="209.5" cy="213.6" r="0.8"/><circle cx="213.9" cy="208.0" r="0.8"/><circle cx="210.5" cy="194.4" r="0.8"/><circle cx="208.5" cy="209.5" r="0.8"/><circle cx="208.6" cy="206.4" r="0.8"/><circle cx="208.5" cy="209.2" r="0.8"/><circle cx="209.2" cy="213.6" r="0.8"/><circle cx="211.5" cy="181.9" r="0.8"/><circle cx="210.1" cy="204.0" r="0.8"/><circle cx="209.8" cy="200.1" r="0.8"/><circle cx="208.4" cy="208.0" r="0.8"/><circle cx="212.9" cy="214.3" r="0.8"/><circle cx="210.0" cy="204.4" r="0.8"/><circle cx="212.3" cy="200.5" r="0.8"/><circle cx="212.2" cy="193.9" r="0.8"/><circle cx="207.9" cy="205.8" r="0.8"/><circle cx="209.3" cy="213.6" r="0.8"/><circle cx="209.9" cy="213.9" r="0.8"/><circle cx="208.2" cy="202.1" r="0.8"/><circle cx="209.5" cy="206.8" r="0.8"/><circle cx="211.2" cy="203.3" r="0.8"/><circle cx="212.4" cy="204.0" r="0.8"/><circle cx="208.8" cy="202.3" r="0.8"/><circle cx="210.0" cy="213.1" r="0.8"/><circle cx="213.7" cy="206.9" r="0.8"/><circle cx="208.3" cy="214.2" r="0.8"/><circle cx="207.4" cy="206.4" r="0.8"/><circle cx="213.2" cy="199.7" r="0.8"/><circle cx="212.1" cy="205.0" r="0.8"/><circle cx="212.3" cy="208.8" r="0.8"/><circle cx="214.0" cy="209.5" r="0.8"/><circle cx="210.2" cy="214.1" r="0.8"/><circle cx="208.7" cy="199.8" r="0.8"/><circle cx="210.6" cy="183.4" r="0.8"/><circle cx="210.5" cy="181.3" r="0.8"/><circle cx="210.7" cy="187.6" r="0.8"/><circle cx="210.2" cy="181.7" r="0.8"/><circle cx="210.4" cy="178.1" r="0.8"/><circle cx="210.6" cy="188.8" r="0.8"/><circle cx="210.2" cy="182.7" r="0.8"/><circle cx="211.3" cy="179.7" r="0.8"/><circle cx="211.3" cy="180.2" r="0.8"/></g>
<line x1="210.90" y1="191.44" x2="210.90" y2="212.14" stroke="#10204a" stroke-width="0.8"/>
<line x1="207.90" y1="191.44" x2="213.90" y2="191.44" stroke="#10204a" stroke-width="0.8"/>
<rect x="217.20" y="208.72" width="9.20" height="12.18" fill="#ec8a78"/>
<g fill="#4a0c14"><circle cx="218.9" cy="210.4" r="0.8"/><circle cx="217.7" cy="214.9" r="0.8"/><circle cx="220.9" cy="208.6" r="0.8"/><circle cx="217.4" cy="215.5" r="0.8"/><circle cx="220.4" cy="209.2" r="0.8"/><circle cx="220.6" cy="206.4" r="0.8"/><circle cx="221.4" cy="204.0" r="0.8"/><circle cx="225.8" cy="214.2" r="0.8"/><circle cx="221.0" cy="214.6" r="0.8"/><circle cx="220.7" cy="208.2" r="0.8"/><circle cx="224.5" cy="210.4" r="0.8"/><circle cx="220.5" cy="206.0" r="0.8"/><circle cx="225.2" cy="211.1" r="0.8"/><circle cx="219.0" cy="215.4" r="0.8"/><circle cx="217.3" cy="214.6" r="0.8"/><circle cx="221.3" cy="207.7" r="0.8"/><circle cx="222.2" cy="215.2" r="0.8"/><circle cx="222.2" cy="209.4" r="0.8"/><circle cx="221.0" cy="208.8" r="0.8"/><circle cx="221.5" cy="196.0" r="0.8"/><circle cx="225.9" cy="213.9" r="0.8"/><circle cx="221.0" cy="202.8" r="0.8"/><circle cx="220.8" cy="211.2" r="0.8"/><circle cx="223.6" cy="211.4" r="0.8"/><circle cx="220.4" cy="211.8" r="0.8"/><circle cx="221.9" cy="214.8" r="0.8"/><circle cx="218.2" cy="214.3" r="0.8"/><circle cx="218.3" cy="214.3" r="0.8"/><circle cx="220.4" cy="206.9" r="0.8"/><circle cx="224.5" cy="211.2" r="0.8"/><circle cx="224.1" cy="211.8" r="0.8"/><circle cx="223.7" cy="214.3" r="0.8"/><circle cx="220.3" cy="215.6" r="0.8"/><circle cx="223.3" cy="207.2" r="0.8"/><circle cx="223.5" cy="212.4" r="0.8"/><circle cx="223.8" cy="209.6" r="0.8"/><circle cx="223.3" cy="214.8" r="0.8"/><circle cx="219.1" cy="213.0" r="0.8"/><circle cx="223.1" cy="204.3" r="0.8"/><circle cx="223.5" cy="215.0" r="0.8"/><circle cx="224.2" cy="209.0" r="0.8"/><circle cx="219.0" cy="209.8" r="0.8"/><circle cx="219.8" cy="215.0" r="0.8"/><circle cx="226.0" cy="213.0" r="0.8"/><circle cx="222.1" cy="212.2" r="0.8"/><circle cx="220.8" cy="212.4" r="0.8"/><circle cx="220.4" cy="210.1" r="0.8"/><circle cx="222.3" cy="206.7" r="0.8"/><circle cx="223.5" cy="214.2" r="0.8"/><circle cx="222.4" cy="200.7" r="0.8"/><circle cx="225.6" cy="213.6" r="0.8"/><circle cx="221.7" cy="213.0" r="0.8"/><circle cx="222.3" cy="212.2" r="0.8"/><circle cx="222.8" cy="212.4" r="0.8"/><circle cx="220.6" cy="215.1" r="0.8"/><circle cx="218.3" cy="211.9" r="0.8"/><circle cx="220.5" cy="205.3" r="0.8"/><circle cx="221.7" cy="211.2" r="0.8"/><circle cx="221.7" cy="209.9" r="0.8"/><circle cx="224.6" cy="215.6" r="0.8"/><circle cx="223.2" cy="214.2" r="0.8"/><circle cx="219.8" cy="214.5" r="0.8"/><circle cx="221.7" cy="199.8" r="0.8"/><circle cx="223.1" cy="209.2" r="0.8"/><circle cx="218.3" cy="215.1" r="0.8"/><circle cx="220.5" cy="214.5" r="0.8"/><circle cx="217.3" cy="215.5" r="0.8"/><circle cx="225.1" cy="211.0" r="0.8"/><circle cx="222.7" cy="205.2" r="0.8"/><circle cx="220.9" cy="215.2" r="0.8"/><circle cx="225.7" cy="212.4" r="0.8"/><circle cx="223.5" cy="206.2" r="0.8"/><circle cx="224.0" cy="208.8" r="0.8"/><circle cx="222.3" cy="210.8" r="0.8"/><circle cx="223.2" cy="214.9" r="0.8"/><circle cx="221.2" cy="207.3" r="0.8"/><circle cx="225.1" cy="212.4" r="0.8"/><circle cx="218.7" cy="211.8" r="0.8"/><circle cx="223.6" cy="211.2" r="0.8"/><circle cx="222.7" cy="208.1" r="0.8"/><circle cx="220.4" cy="214.5" r="0.8"/><circle cx="217.6" cy="213.4" r="0.8"/><circle cx="222.0" cy="210.2" r="0.8"/><circle cx="219.1" cy="215.5" r="0.8"/><circle cx="218.7" cy="212.2" r="0.8"/><circle cx="221.3" cy="210.5" r="0.8"/><circle cx="223.4" cy="212.0" r="0.8"/><circle cx="219.7" cy="214.8" r="0.8"/><circle cx="219.8" cy="209.9" r="0.8"/><circle cx="223.1" cy="204.0" r="0.8"/><circle cx="222.8" cy="211.1" r="0.8"/><circle cx="222.5" cy="209.6" r="0.8"/><circle cx="221.8" cy="207.6" r="0.8"/><circle cx="219.7" cy="208.8" r="0.8"/><circle cx="223.0" cy="211.4" r="0.8"/><circle cx="221.2" cy="208.7" r="0.8"/><circle cx="221.9" cy="214.7" r="0.8"/><circle cx="222.5" cy="208.5" r="0.8"/><circle cx="224.2" cy="208.9" r="0.8"/><circle cx="221.5" cy="213.3" r="0.8"/><circle cx="222.8" cy="206.9" r="0.8"/><circle cx="220.9" cy="215.0" r="0.8"/><circle cx="221.7" cy="212.7" r="0.8"/><circle cx="224.8" cy="213.6" r="0.8"/><circle cx="222.6" cy="203.7" r="0.8"/><circle cx="223.4" cy="205.5" r="0.8"/><circle cx="220.9" cy="205.7" r="0.8"/><circle cx="221.5" cy="208.8" r="0.8"/><circle cx="221.1" cy="205.2" r="0.8"/><circle cx="218.1" cy="213.2" r="0.8"/><circle cx="220.8" cy="206.8" r="0.8"/><circle cx="224.7" cy="212.5" r="0.8"/><circle cx="224.5" cy="214.2" r="0.8"/><circle cx="221.1" cy="209.0" r="0.8"/><circle cx="225.1" cy="214.5" r="0.8"/><circle cx="218.4" cy="214.3" r="0.8"/><circle cx="222.7" cy="212.1" r="0.8"/><circle cx="219.7" cy="207.9" r="0.8"/><circle cx="224.8" cy="212.0" r="0.8"/><circle cx="219.0" cy="215.4" r="0.8"/><circle cx="220.5" cy="212.9" r="0.8"/><circle cx="222.7" cy="210.7" r="0.8"/><circle cx="218.9" cy="214.4" r="0.8"/><circle cx="222.8" cy="208.5" r="0.8"/><circle cx="225.5" cy="212.9" r="0.8"/><circle cx="220.5" cy="215.1" r="0.8"/><circle cx="223.3" cy="209.9" r="0.8"/><circle cx="221.5" cy="199.3" r="0.8"/><circle cx="221.2" cy="213.1" r="0.8"/><circle cx="221.0" cy="213.0" r="0.8"/><circle cx="221.3" cy="205.9" r="0.8"/><circle cx="219.4" cy="213.9" r="0.8"/><circle cx="220.5" cy="209.5" r="0.8"/><circle cx="223.2" cy="212.3" r="0.8"/><circle cx="222.4" cy="203.7" r="0.8"/><circle cx="221.4" cy="212.2" r="0.8"/><circle cx="221.4" cy="210.5" r="0.8"/><circle cx="220.2" cy="212.2" r="0.8"/><circle cx="221.1" cy="212.9" r="0.8"/><circle cx="223.8" cy="208.1" r="0.8"/><circle cx="224.7" cy="215.6" r="0.8"/><circle cx="222.2" cy="206.7" r="0.8"/><circle cx="218.6" cy="211.9" r="0.8"/><circle cx="220.7" cy="215.0" r="0.8"/><circle cx="225.4" cy="214.3" r="0.8"/><circle cx="220.7" cy="203.1" r="0.8"/><circle cx="221.5" cy="211.6" r="0.8"/><circle cx="223.0" cy="211.2" r="0.8"/><circle cx="222.6" cy="197.8" r="0.8"/><circle cx="223.2" cy="206.9" r="0.8"/><circle cx="219.7" cy="207.8" r="0.8"/><circle cx="221.3" cy="208.9" r="0.8"/><circle cx="219.5" cy="212.3" r="0.8"/><circle cx="218.9" cy="212.5" r="0.8"/><circle cx="220.0" cy="208.7" r="0.8"/><circle cx="222.6" cy="210.2" r="0.8"/><circle cx="223.9" cy="215.3" r="0.8"/><circle cx="221.0" cy="194.6" r="0.8"/><circle cx="220.8" cy="197.4" r="0.8"/><circle cx="222.7" cy="193.8" r="0.8"/><circle cx="220.8" cy="193.5" r="0.8"/><circle cx="221.9" cy="198.4" r="0.8"/></g>
<line x1="221.80" y1="202.19" x2="221.80" y2="215.25" stroke="#3a0a0a" stroke-width="0.8"/>
<line x1="218.80" y1="202.19" x2="224.80" y2="202.19" stroke="#3a0a0a" stroke-width="0.8"/>
<rect x="234.50" y="196.67" width="9.20" height="24.23" fill="#8898c6"/>
<g fill="#1b2b50"><circle cx="236.2" cy="204.7" r="0.8"/><circle cx="235.7" cy="212.7" r="0.8"/><circle cx="236.4" cy="203.9" r="0.8"/><circle cx="240.9" cy="201.0" r="0.8"/><circle cx="238.4" cy="206.6" r="0.8"/><circle cx="239.6" cy="206.2" r="0.8"/><circle cx="242.3" cy="212.3" r="0.8"/><circle cx="241.2" cy="193.5" r="0.8"/><circle cx="238.6" cy="198.6" r="0.8"/><circle cx="238.9" cy="180.7" r="0.8"/><circle cx="237.2" cy="197.1" r="0.8"/><circle cx="236.4" cy="205.9" r="0.8"/><circle cx="236.9" cy="194.4" r="0.8"/><circle cx="240.0" cy="200.7" r="0.8"/><circle cx="235.8" cy="203.2" r="0.8"/><circle cx="235.7" cy="210.6" r="0.8"/><circle cx="237.6" cy="211.0" r="0.8"/><circle cx="240.2" cy="182.3" r="0.8"/><circle cx="239.1" cy="214.2" r="0.8"/><circle cx="240.9" cy="203.8" r="0.8"/><circle cx="238.0" cy="207.5" r="0.8"/><circle cx="238.6" cy="200.9" r="0.8"/><circle cx="235.3" cy="208.6" r="0.8"/><circle cx="239.5" cy="213.0" r="0.8"/><circle cx="236.6" cy="211.2" r="0.8"/><circle cx="239.0" cy="204.4" r="0.8"/><circle cx="241.2" cy="207.6" r="0.8"/><circle cx="243.4" cy="213.7" r="0.8"/><circle cx="240.0" cy="215.5" r="0.8"/><circle cx="238.2" cy="202.4" r="0.8"/><circle cx="240.1" cy="212.3" r="0.8"/><circle cx="239.2" cy="205.1" r="0.8"/><circle cx="235.3" cy="209.0" r="0.8"/><circle cx="241.5" cy="206.5" r="0.8"/><circle cx="242.2" cy="209.6" r="0.8"/><circle cx="235.8" cy="206.0" r="0.8"/><circle cx="241.6" cy="204.8" r="0.8"/><circle cx="241.4" cy="206.2" r="0.8"/><circle cx="235.8" cy="204.6" r="0.8"/><circle cx="239.6" cy="215.3" r="0.8"/><circle cx="240.3" cy="208.5" r="0.8"/><circle cx="239.3" cy="182.5" r="0.8"/><circle cx="241.2" cy="211.0" r="0.8"/><circle cx="240.3" cy="185.5" r="0.8"/><circle cx="241.3" cy="205.0" r="0.8"/><circle cx="238.9" cy="193.3" r="0.8"/><circle cx="236.0" cy="206.9" r="0.8"/><circle cx="236.1" cy="205.7" r="0.8"/><circle cx="239.5" cy="181.8" r="0.8"/><circle cx="237.5" cy="208.9" r="0.8"/><circle cx="239.6" cy="212.3" r="0.8"/><circle cx="239.4" cy="206.9" r="0.8"/><circle cx="235.9" cy="208.2" r="0.8"/><circle cx="238.6" cy="204.3" r="0.8"/><circle cx="240.4" cy="204.1" r="0.8"/><circle cx="238.4" cy="200.6" r="0.8"/><circle cx="235.8" cy="208.3" r="0.8"/><circle cx="236.4" cy="215.2" r="0.8"/><circle cx="236.4" cy="207.0" r="0.8"/><circle cx="238.3" cy="204.4" r="0.8"/><circle cx="241.2" cy="200.1" r="0.8"/><circle cx="242.6" cy="203.7" r="0.8"/><circle cx="240.4" cy="200.9" r="0.8"/><circle cx="239.8" cy="214.5" r="0.8"/><circle cx="235.8" cy="204.5" r="0.8"/><circle cx="238.5" cy="209.3" r="0.8"/><circle cx="239.5" cy="203.2" r="0.8"/><circle cx="239.1" cy="184.5" r="0.8"/><circle cx="241.3" cy="210.9" r="0.8"/><circle cx="236.2" cy="199.9" r="0.8"/><circle cx="239.7" cy="208.3" r="0.8"/><circle cx="242.4" cy="203.4" r="0.8"/><circle cx="241.8" cy="211.5" r="0.8"/><circle cx="237.6" cy="195.1" r="0.8"/><circle cx="239.8" cy="201.2" r="0.8"/><circle cx="241.4" cy="197.9" r="0.8"/><circle cx="239.7" cy="188.8" r="0.8"/><circle cx="238.2" cy="192.5" r="0.8"/><circle cx="234.7" cy="214.0" r="0.8"/><circle cx="237.2" cy="204.5" r="0.8"/><circle cx="239.0" cy="212.7" r="0.8"/><circle cx="237.4" cy="205.1" r="0.8"/><circle cx="236.1" cy="210.9" r="0.8"/><circle cx="240.3" cy="188.7" r="0.8"/><circle cx="239.3" cy="201.7" r="0.8"/><circle cx="242.2" cy="204.2" r="0.8"/><circle cx="243.1" cy="213.9" r="0.8"/><circle cx="241.3" cy="204.7" r="0.8"/><circle cx="241.2" cy="214.0" r="0.8"/><circle cx="239.1" cy="190.6" r="0.8"/><circle cx="242.4" cy="203.5" r="0.8"/><circle cx="243.0" cy="210.3" r="0.8"/><circle cx="238.2" cy="179.3" r="0.8"/><circle cx="238.3" cy="178.2" r="0.8"/><circle cx="238.3" cy="179.7" r="0.8"/><circle cx="238.7" cy="177.8" r="0.8"/><circle cx="238.2" cy="178.3" r="0.8"/><circle cx="238.2" cy="179.2" r="0.8"/><circle cx="239.2" cy="182.2" r="0.8"/><circle cx="239.5" cy="177.8" r="0.8"/><circle cx="239.7" cy="178.4" r="0.8"/></g>
<line x1="239.10" y1="183.52" x2="239.10" y2="209.83" stroke="#10204a" stroke-width="0.8"/>
<line x1="236.10" y1="183.52" x2="242.10" y2="183.52" stroke="#10204a" stroke-width="0.8"/>
<rect x="245.60" y="204.10" width="9.20" height="16.80" fill="#ec8a78"/>
<g fill="#4a0c14"><circle cx="247.4" cy="212.7" r="0.8"/><circle cx="248.9" cy="215.3" r="0.8"/><circle cx="249.5" cy="210.7" r="0.8"/><circle cx="246.3" cy="215.6" r="0.8"/><circle cx="250.4" cy="200.5" r="0.8"/><circle cx="248.4" cy="214.9" r="0.8"/><circle cx="252.8" cy="206.2" r="0.8"/><circle cx="251.4" cy="199.8" r="0.8"/><circle cx="250.2" cy="204.7" r="0.8"/><circle cx="250.9" cy="202.2" r="0.8"/><circle cx="248.6" cy="203.2" r="0.8"/><circle cx="253.4" cy="209.0" r="0.8"/><circle cx="253.7" cy="210.0" r="0.8"/><circle cx="245.9" cy="214.9" r="0.8"/><circle cx="250.8" cy="210.2" r="0.8"/><circle cx="251.8" cy="205.7" r="0.8"/><circle cx="254.4" cy="212.9" r="0.8"/><circle cx="249.4" cy="215.6" r="0.8"/><circle cx="252.5" cy="212.1" r="0.8"/><circle cx="250.8" cy="209.8" r="0.8"/><circle cx="249.9" cy="209.0" r="0.8"/><circle cx="253.7" cy="214.6" r="0.8"/><circle cx="250.0" cy="213.7" r="0.8"/><circle cx="248.8" cy="211.9" r="0.8"/><circle cx="250.4" cy="214.9" r="0.8"/><circle cx="252.0" cy="204.9" r="0.8"/><circle cx="248.7" cy="213.5" r="0.8"/><circle cx="251.6" cy="210.7" r="0.8"/><circle cx="252.5" cy="213.3" r="0.8"/><circle cx="248.6" cy="206.7" r="0.8"/><circle cx="249.9" cy="196.3" r="0.8"/><circle cx="251.3" cy="197.2" r="0.8"/><circle cx="252.7" cy="212.6" r="0.8"/><circle cx="252.8" cy="213.0" r="0.8"/><circle cx="252.2" cy="211.2" r="0.8"/><circle cx="252.8" cy="211.5" r="0.8"/><circle cx="247.6" cy="207.0" r="0.8"/><circle cx="246.9" cy="214.4" r="0.8"/><circle cx="253.2" cy="208.9" r="0.8"/><circle cx="251.5" cy="201.0" r="0.8"/><circle cx="248.9" cy="203.8" r="0.8"/><circle cx="251.2" cy="206.5" r="0.8"/><circle cx="250.0" cy="201.5" r="0.8"/><circle cx="247.8" cy="207.6" r="0.8"/><circle cx="247.4" cy="213.1" r="0.8"/><circle cx="249.1" cy="198.3" r="0.8"/><circle cx="250.4" cy="214.0" r="0.8"/><circle cx="250.8" cy="211.2" r="0.8"/><circle cx="246.4" cy="214.5" r="0.8"/><circle cx="247.8" cy="206.6" r="0.8"/><circle cx="250.2" cy="208.3" r="0.8"/><circle cx="249.5" cy="204.0" r="0.8"/><circle cx="253.8" cy="210.0" r="0.8"/><circle cx="251.1" cy="213.1" r="0.8"/><circle cx="253.8" cy="210.9" r="0.8"/><circle cx="248.0" cy="204.7" r="0.8"/><circle cx="247.1" cy="215.1" r="0.8"/><circle cx="251.8" cy="208.2" r="0.8"/><circle cx="253.0" cy="215.3" r="0.8"/><circle cx="251.6" cy="214.2" r="0.8"/><circle cx="248.6" cy="211.0" r="0.8"/><circle cx="248.0" cy="214.6" r="0.8"/><circle cx="251.2" cy="210.4" r="0.8"/><circle cx="249.1" cy="210.8" r="0.8"/><circle cx="250.5" cy="208.3" r="0.8"/><circle cx="249.0" cy="209.1" r="0.8"/><circle cx="252.5" cy="208.2" r="0.8"/><circle cx="247.5" cy="211.2" r="0.8"/><circle cx="249.6" cy="194.2" r="0.8"/><circle cx="247.8" cy="214.5" r="0.8"/><circle cx="248.6" cy="209.6" r="0.8"/><circle cx="251.9" cy="213.5" r="0.8"/><circle cx="253.4" cy="210.2" r="0.8"/><circle cx="249.4" cy="207.9" r="0.8"/><circle cx="250.6" cy="207.0" r="0.8"/><circle cx="249.9" cy="215.6" r="0.8"/><circle cx="251.1" cy="208.3" r="0.8"/><circle cx="248.7" cy="208.2" r="0.8"/><circle cx="247.9" cy="212.7" r="0.8"/><circle cx="252.9" cy="213.9" r="0.8"/><circle cx="249.5" cy="215.2" r="0.8"/><circle cx="251.4" cy="199.6" r="0.8"/><circle cx="252.3" cy="207.1" r="0.8"/><circle cx="248.8" cy="215.1" r="0.8"/><circle cx="252.9" cy="212.9" r="0.8"/><circle cx="252.9" cy="207.8" r="0.8"/><circle cx="252.6" cy="210.4" r="0.8"/><circle cx="249.5" cy="196.2" r="0.8"/><circle cx="253.9" cy="213.2" r="0.8"/><circle cx="250.3" cy="209.9" r="0.8"/><circle cx="253.0" cy="208.4" r="0.8"/><circle cx="250.5" cy="198.1" r="0.8"/><circle cx="252.7" cy="205.5" r="0.8"/><circle cx="248.9" cy="208.7" r="0.8"/><circle cx="254.1" cy="211.2" r="0.8"/><circle cx="248.4" cy="205.1" r="0.8"/><circle cx="252.7" cy="215.0" r="0.8"/><circle cx="253.5" cy="213.1" r="0.8"/><circle cx="250.2" cy="199.5" r="0.8"/><circle cx="249.2" cy="208.2" r="0.8"/><circle cx="248.0" cy="211.3" r="0.8"/><circle cx="252.7" cy="215.0" r="0.8"/><circle cx="248.2" cy="212.6" r="0.8"/><circle cx="251.1" cy="207.2" r="0.8"/><circle cx="253.2" cy="208.7" r="0.8"/><circle cx="249.9" cy="189.5" r="0.8"/><circle cx="251.0" cy="199.9" r="0.8"/><circle cx="248.3" cy="212.6" r="0.8"/><circle cx="252.4" cy="207.1" r="0.8"/><circle cx="250.0" cy="214.4" r="0.8"/><circle cx="250.9" cy="215.5" r="0.8"/><circle cx="248.9" cy="210.0" r="0.8"/><circle cx="250.4" cy="213.5" r="0.8"/><circle cx="251.5" cy="214.0" r="0.8"/><circle cx="250.0" cy="209.1" r="0.8"/><circle cx="247.4" cy="209.4" r="0.8"/><circle cx="250.5" cy="205.3" r="0.8"/><circle cx="253.7" cy="211.0" r="0.8"/><circle cx="254.2" cy="211.0" r="0.8"/><circle cx="247.5" cy="212.4" r="0.8"/><circle cx="250.7" cy="215.4" r="0.8"/><circle cx="252.1" cy="213.1" r="0.8"/><circle cx="251.6" cy="214.7" r="0.8"/><circle cx="249.9" cy="209.2" r="0.8"/><circle cx="254.1" cy="212.4" r="0.8"/><circle cx="246.2" cy="213.3" r="0.8"/><circle cx="249.7" cy="210.3" r="0.8"/><circle cx="249.5" cy="213.1" r="0.8"/><circle cx="250.9" cy="204.7" r="0.8"/><circle cx="251.1" cy="210.2" r="0.8"/><circle cx="248.2" cy="204.5" r="0.8"/><circle cx="246.1" cy="212.3" r="0.8"/><circle cx="247.4" cy="209.0" r="0.8"/><circle cx="252.9" cy="210.4" r="0.8"/><circle cx="252.8" cy="205.8" r="0.8"/><circle cx="248.4" cy="214.8" r="0.8"/><circle cx="249.4" cy="212.9" r="0.8"/><circle cx="251.4" cy="201.0" r="0.8"/><circle cx="249.7" cy="215.0" r="0.8"/><circle cx="250.0" cy="202.5" r="0.8"/><circle cx="249.6" cy="209.5" r="0.8"/><circle cx="252.7" cy="213.8" r="0.8"/><circle cx="250.0" cy="202.7" r="0.8"/><circle cx="253.7" cy="213.3" r="0.8"/><circle cx="250.8" cy="202.8" r="0.8"/><circle cx="248.4" cy="213.7" r="0.8"/><circle cx="251.7" cy="212.7" r="0.8"/><circle cx="250.6" cy="197.7" r="0.8"/><circle cx="254.5" cy="213.7" r="0.8"/><circle cx="251.0" cy="203.1" r="0.8"/><circle cx="248.6" cy="208.0" r="0.8"/><circle cx="247.6" cy="214.8" r="0.8"/><circle cx="251.1" cy="196.7" r="0.8"/><circle cx="250.5" cy="201.6" r="0.8"/><circle cx="250.9" cy="209.5" r="0.8"/><circle cx="251.2" cy="202.9" r="0.8"/><circle cx="252.1" cy="215.4" r="0.8"/><circle cx="250.4" cy="205.9" r="0.8"/><circle cx="248.7" cy="211.6" r="0.8"/><circle cx="254.3" cy="215.3" r="0.8"/><circle cx="250.2" cy="214.2" r="0.8"/><circle cx="250.9" cy="206.2" r="0.8"/><circle cx="252.0" cy="207.1" r="0.8"/><circle cx="247.7" cy="208.9" r="0.8"/><circle cx="253.7" cy="209.2" r="0.8"/><circle cx="253.8" cy="210.6" r="0.8"/><circle cx="248.9" cy="208.1" r="0.8"/><circle cx="251.2" cy="205.6" r="0.8"/><circle cx="249.0" cy="212.2" r="0.8"/><circle cx="246.8" cy="209.3" r="0.8"/><circle cx="249.0" cy="208.0" r="0.8"/><circle cx="251.9" cy="203.3" r="0.8"/><circle cx="246.4" cy="215.6" r="0.8"/><circle cx="252.1" cy="211.0" r="0.8"/><circle cx="245.9" cy="214.9" r="0.8"/><circle cx="251.4" cy="201.9" r="0.8"/><circle cx="248.8" cy="212.9" r="0.8"/><circle cx="249.6" cy="197.7" r="0.8"/><circle cx="252.5" cy="209.3" r="0.8"/><circle cx="251.2" cy="214.6" r="0.8"/><circle cx="251.1" cy="210.4" r="0.8"/><circle cx="254.5" cy="215.2" r="0.8"/><circle cx="252.9" cy="211.3" r="0.8"/><circle cx="251.0" cy="204.9" r="0.8"/><circle cx="247.8" cy="212.4" r="0.8"/><circle cx="252.2" cy="205.9" r="0.8"/><circle cx="249.9" cy="191.6" r="0.8"/><circle cx="250.6" cy="191.6" r="0.8"/><circle cx="250.6" cy="193.7" r="0.8"/><circle cx="250.9" cy="193.5" r="0.8"/><circle cx="250.4" cy="187.9" r="0.8"/></g>
<line x1="250.20" y1="195.03" x2="250.20" y2="213.17" stroke="#3a0a0a" stroke-width="0.8"/>
<line x1="247.20" y1="195.03" x2="253.20" y2="195.03" stroke="#3a0a0a" stroke-width="0.8"/>
<line x1="173.10" y1="220.90" x2="259.40" y2="220.90" stroke="#231f20" stroke-width="1.5"/>
<text x="194.00" y="197.00" font-size="7.0" text-anchor="middle" fill="#231f20" stroke="#231f20" stroke-width="0.15">***</text>
<text x="221.70" y="181.50" font-size="7.0" text-anchor="middle" fill="#231f20" stroke="#231f20" stroke-width="0.15">***</text>
<text x="250.20" y="168.50" font-size="7.0" text-anchor="middle" fill="#231f20" stroke="#231f20" stroke-width="0.15">**</text>
<text x="185.80" y="227.20" font-size="8.3" text-anchor="end" textLength="28.50" lengthAdjust="spacingAndGlyphs" fill="#231f20" stroke="#231f20" stroke-width="0.15" transform="rotate(-45 185.80 227.20)">n = 215</text>
<text x="196.90" y="227.20" font-size="8.3" text-anchor="end" textLength="28.50" lengthAdjust="spacingAndGlyphs" fill="#231f20" stroke="#231f20" stroke-width="0.15" transform="rotate(-45 196.90 227.20)">n = 246</text>
<text x="213.80" y="227.20" font-size="8.3" text-anchor="end" textLength="28.50" lengthAdjust="spacingAndGlyphs" fill="#231f20" stroke="#231f20" stroke-width="0.15" transform="rotate(-45 213.80 227.20)">n = 242</text>
<text x="224.70" y="227.20" font-size="8.3" text-anchor="end" textLength="28.50" lengthAdjust="spacingAndGlyphs" fill="#231f20" stroke="#231f20" stroke-width="0.15" transform="rotate(-45 224.70 227.20)">n = 210</text>
<text x="242.10" y="227.20" font-size="8.3" text-anchor="end" textLength="28.50" lengthAdjust="spacingAndGlyphs" fill="#231f20" stroke="#231f20" stroke-width="0.15" transform="rotate(-45 242.10 227.20)">n = 169</text>
<text x="253.10" y="227.20" font-size="8.3" text-anchor="end" textLength="28.50" lengthAdjust="spacingAndGlyphs" fill="#231f20" stroke="#231f20" stroke-width="0.15" transform="rotate(-45 253.10 227.20)">n = 249</text>
<text x="183.20" y="142.80" font-size="7.8" text-anchor="middle" textLength="40.40" lengthAdjust="spacingAndGlyphs" fill="#231f20" stroke="#231f20" stroke-width="0.15">No agonists</text>
<text x="216.00" y="142.80" font-size="7.8" text-anchor="middle" textLength="15.20" lengthAdjust="spacingAndGlyphs" fill="#231f20" stroke="#231f20" stroke-width="0.15">ADP</text>
<text x="245.00" y="142.80" font-size="7.8" text-anchor="middle" textLength="30.60" lengthAdjust="spacingAndGlyphs" fill="#231f20" stroke="#231f20" stroke-width="0.15">Thrombin</text>
<text x="146.60" y="186.40" font-size="8.2" text-anchor="middle" textLength="46.60" lengthAdjust="spacingAndGlyphs" fill="#231f20" stroke="#231f20" stroke-width="0.15" font-weight="bold" transform="rotate(-90 146.60 186.40)">Spreading areas</text>
<text x="157.20" y="186.40" font-size="8.2" text-anchor="middle" textLength="33.90" lengthAdjust="spacingAndGlyphs" fill="#231f20" stroke="#231f20" stroke-width="0.15" font-weight="bold" transform="rotate(-90 157.20 186.40)">(×10<tspan font-size="4.5" dy="-3">4</tspan><tspan dy="3"> Pixel)</tspan></text>
<defs><linearGradient id="tubeg" x1="0" x2="1" y1="0" y2="0"><stop offset="0" stop-color="#a8ab94"/><stop offset="0.2" stop-color="#c6c4a0"/><stop offset="0.5" stop-color="#d0cba8"/><stop offset="0.8" stop-color="#c6c4a0"/><stop offset="1" stop-color="#a6a992"/></linearGradient><linearGradient id="tubeg2" x1="0" x2="1" y1="0" y2="0"><stop offset="0" stop-color="#aeaa88"/><stop offset="0.25" stop-color="#c8bf94"/><stop offset="0.5" stop-color="#cfc59a"/><stop offset="0.8" stop-color="#c4bb90"/><stop offset="1" stop-color="#a6a486"/></linearGradient><linearGradient id="tubeg3" x1="0" x2="1" y1="0" y2="0"><stop offset="0" stop-color="#b2b298"/><stop offset="0.2" stop-color="#d2caa8"/><stop offset="0.5" stop-color="#d9d0b0"/><stop offset="0.8" stop-color="#cfc8a6"/><stop offset="1" stop-color="#aeae94"/></linearGradient><filter id="tblr" x="-10%" y="-10%" width="120%" height="120%"><feGaussianBlur stdDeviation="0.6"/></filter></defs>
<svg x="284.00" y="149.00" width="15.8" height="36.60" viewBox="0 0 15.8 36.60" overflow="hidden"><rect width="15.8" height="36.60" fill="url(#tubeg)"/><g filter="url(#tblr)"><rect x="0.5" y="0.3" width="14.8" height="2.0" fill="#a8a490" opacity="0.8"/><rect x="1.5" y="32.10" width="12.8" height="3.2" fill="#f0ecdc" opacity="0.9"/></g></svg>
<svg x="301.20" y="149.00" width="15.8" height="36.60" viewBox="0 0 15.8 36.60" overflow="hidden"><rect width="15.8" height="36.60" fill="url(#tubeg2)"/><g filter="url(#tblr)"><rect x="0.5" y="0.3" width="14.8" height="2.0" fill="#a8a490" opacity="0.8"/><path d="M12,9 C10.5,13 10,19 8.5,24 C7.5,27 6,28.5 4.5,30 L15.5,30.5 L15.5,8 Z" fill="#6a684c"/><path d="M3,29 L15,29 L15,31.2 L3,31.2 Z" fill="#7c6e48"/><path d="M4,4 C7,3 10,4 11.5,8 C10.5,13 9.5,19 8,24 C7,26 5.5,27 4,27.5 Z" fill="#ddd3b0"/><rect x="1.5" y="32.10" width="12.8" height="3.2" fill="#f0ecdc" opacity="0.9"/></g></svg>
<svg x="318.80" y="149.00" width="15.8" height="36.60" viewBox="0 0 15.8 36.60" overflow="hidden"><rect width="15.8" height="36.60" fill="url(#tubeg3)"/><g filter="url(#tblr)"><rect x="0.5" y="0.3" width="14.8" height="2.0" fill="#a8a490" opacity="0.8"/><path d="M13,6 C10,10 8,14 7,19 L8,22 L4,25 L2,31 L15.5,31 L15.5,5 Z" fill="#737259"/><path d="M11.5,2.5 L15,2.5 L14.5,6 C11,10 8.5,14 7.8,18.5 L9,22 L4,24.5 L2.5,21 C4.5,14 7.5,8 11.5,2.5 Z" fill="#ebe5d2"/><path d="M2,28 L15,28 L15,30.5 L2,30.5 Z" fill="#8a7d58"/><rect x="1.5" y="32.10" width="12.8" height="3.2" fill="#f0ecdc" opacity="0.9"/></g></svg>
<svg x="335.90" y="149.00" width="15.8" height="36.60" viewBox="0 0 15.8 36.60" overflow="hidden"><rect width="15.8" height="36.60" fill="url(#tubeg3)"/><g filter="url(#tblr)"><rect x="0.5" y="0.3" width="14.8" height="2.0" fill="#a8a490" opacity="0.8"/><path d="M14.5,3 L15.5,3 L15.5,31 L1.5,31 L1.5,21 C3.5,18 5.5,16 7,15 C9.5,11 12,7 14.5,3 Z" fill="#737259"/><path d="M3,11 C5,11 7,12 7,14.5 C6,17 4,18.5 2,19 L1.5,14 Z" fill="#ebe5d2"/><path d="M1.5,2 L14,2 C12,6 10,9 7,12 C5,11 3,10 1.5,10 Z" fill="#e2d8c0"/><rect x="1.5" y="32.10" width="12.8" height="3.2" fill="#f0ecdc" opacity="0.9"/></g></svg>
<svg x="353.20" y="149.00" width="15.8" height="36.60" viewBox="0 0 15.8 36.60" overflow="hidden"><rect width="15.8" height="36.60" fill="url(#tubeg)"/><g filter="url(#tblr)"><rect x="0.5" y="0.3" width="14.8" height="2.0" fill="#a8a490" opacity="0.8"/><path d="M1.5,10 L15.5,7 L15.5,29 L1.5,29 Z" fill="#737259"/><path d="M9.5,9 L11,9 L11,29 L9.5,29 Z" fill="#a9a88e"/><path d="M13,8 L14.3,8 L14.3,29 L13,29 Z" fill="#a9a88e"/><path d="M1.5,1.5 L9,1.5 C8,4 6,7 2,9.5 Z" fill="#ebe5d2"/><path d="M9,1.5 L15.5,1.5 L15.5,6.5 L2,10 Z" fill="#d6d0b0"/><path d="M1.5,29 L15.5,29 L15.5,33 L1.5,33 Z" fill="#d4cca4"/><rect x="1.5" y="32.10" width="12.8" height="3.2" fill="#f0ecdc" opacity="0.9"/></g></svg>
<svg x="284.00" y="188.50" width="15.8" height="36.50" viewBox="0 0 15.8 36.50" overflow="hidden"><rect width="15.8" height="36.50" fill="url(#tubeg)"/><g filter="url(#tblr)"><rect x="0.5" y="0.3" width="14.8" height="2.0" fill="#a8a490" opacity="0.8"/><rect x="1.5" y="32.00" width="12.8" height="3.2" fill="#f0ecdc" opacity="0.9"/></g></svg>
<svg x="301.20" y="188.50" width="15.8" height="36.50" viewBox="0 0 15.8 36.50" overflow="hidden"><rect width="15.8" height="36.50" fill="url(#tubeg2)"/><g filter="url(#tblr)"><rect x="0.5" y="0.3" width="14.8" height="2.0" fill="#a8a490" opacity="0.8"/><path d="M13,24 C12,27 10,29 6,30 L15.5,31 L15.5,22 Z" fill="#8f845e"/><rect x="1.5" y="32.00" width="12.8" height="3.2" fill="#f0ecdc" opacity="0.9"/></g></svg>
<svg x="318.80" y="188.50" width="15.8" height="36.50" viewBox="0 0 15.8 36.50" overflow="hidden"><rect width="15.8" height="36.50" fill="url(#tubeg3)"/><g filter="url(#tblr)"><rect x="0.5" y="0.3" width="14.8" height="2.0" fill="#a8a490" opacity="0.8"/><path d="M15.5,18 C13.5,19 11.5,21 10.5,25 C9,27.5 6,28 1,28.5 L1,31.5 L15.5,31.5 Z" fill="#737259"/><rect x="1.5" y="32.00" width="12.8" height="3.2" fill="#f0ecdc" opacity="0.9"/></g></svg>
<svg x="335.90" y="188.50" width="15.8" height="36.50" viewBox="0 0 15.8 36.50" overflow="hidden"><rect width="15.8" height="36.50" fill="url(#tubeg3)"/><g filter="url(#tblr)"><rect x="0.5" y="0.3" width="14.8" height="2.0" fill="#a8a490" opacity="0.8"/><path d="M15.5,13 C13.5,15 12,18 11,23 C9,26.5 5,27 1,27.5 L1,31.5 L15.5,31.5 Z" fill="#737259"/><rect x="1.5" y="32.00" width="12.8" height="3.2" fill="#f0ecdc" opacity="0.9"/></g></svg>
<svg x="353.20" y="188.50" width="15.8" height="36.50" viewBox="0 0 15.8 36.50" overflow="hidden"><rect width="15.8" height="36.50" fill="url(#tubeg3)"/><g filter="url(#tblr)"><rect x="0.5" y="0.3" width="14.8" height="2.0" fill="#a8a490" opacity="0.8"/><path d="M15.5,12 C14,15 12.5,17 10.5,19 C8.5,21 5,22 1.5,22.5 L1.5,31.5 L15.5,31.5 Z" fill="#737259"/><path d="M2,2 L14,2 C13,7 10,12 7,16 C5,18 3.5,19 2,19.5 Z" fill="#e8e0c6"/><path d="M10,19 L11.5,18.5 L11.5,31 L10,31 Z" fill="#a9a88e"/><rect x="1.5" y="32.00" width="12.8" height="3.2" fill="#f0ecdc" opacity="0.9"/></g></svg>
<text x="291.60" y="146.60" font-size="7.8" text-anchor="middle" fill="#231f20" stroke="#231f20" stroke-width="0.15">0</text>
<text x="309.10" y="146.60" font-size="7.8" text-anchor="middle" fill="#231f20" stroke="#231f20" stroke-width="0.15">30</text>
<text x="326.20" y="146.60" font-size="7.8" text-anchor="middle" fill="#231f20" stroke="#231f20" stroke-width="0.15">60</text>
<text x="344.00" y="146.60" font-size="7.8" text-anchor="middle" fill="#231f20" stroke="#231f20" stroke-width="0.15">90</text>
<text x="353.60" y="146.60" font-size="7.8" textLength="13.40" lengthAdjust="spacingAndGlyphs" fill="#231f20" stroke="#231f20" stroke-width="0.15">120</text>
<text x="368.40" y="146.60" font-size="7.8" textLength="16.10" lengthAdjust="spacingAndGlyphs" fill="#231f20" stroke="#231f20" stroke-width="0.15">(min)</text>
<g transform="rotate(-90 280.6 168.0)">
<text x="280.60" y="168.00" font-size="7.6" text-anchor="middle" textLength="24.70" lengthAdjust="spacingAndGlyphs" fill="#231f20" stroke="#231f20" stroke-width="0.15"><tspan font-style="italic">Actn1</tspan><tspan font-size="4.18" dy="-2.89">fl/fl</tspan><tspan dy="2.89"></tspan></text>
</g>
<g transform="rotate(-90 280.6 206.5)">
<text x="280.60" y="206.50" font-size="7.6" text-anchor="middle" textLength="45.30" lengthAdjust="spacingAndGlyphs" fill="#231f20" stroke="#231f20" stroke-width="0.15">PF4-<tspan font-style="italic">Actn1</tspan><tspan font-size="4.18" dy="-2.89">−/−</tspan><tspan dy="2.89"></tspan></text>
</g>
<line x1="422.40" y1="134.60" x2="422.40" y2="221.40" stroke="#231f20" stroke-width="1.3"/>
<line x1="419.40" y1="220.80" x2="422.40" y2="220.80" stroke="#231f20" stroke-width="1.3"/>
<text x="416.60" y="223.61" font-size="7.8" text-anchor="end" fill="#231f20" stroke="#231f20" stroke-width="0.15">0</text>
<line x1="419.40" y1="199.45" x2="422.40" y2="199.45" stroke="#231f20" stroke-width="1.3"/>
<text x="416.60" y="202.26" font-size="7.8" text-anchor="end" fill="#231f20" stroke="#231f20" stroke-width="0.15">25</text>
<line x1="419.40" y1="178.10" x2="422.40" y2="178.10" stroke="#231f20" stroke-width="1.3"/>
<text x="416.60" y="180.91" font-size="7.8" text-anchor="end" fill="#231f20" stroke="#231f20" stroke-width="0.15">50</text>
<line x1="419.40" y1="156.75" x2="422.40" y2="156.75" stroke="#231f20" stroke-width="1.3"/>
<text x="416.60" y="159.56" font-size="7.8" text-anchor="end" fill="#231f20" stroke="#231f20" stroke-width="0.15">75</text>
<line x1="419.40" y1="135.40" x2="422.40" y2="135.40" stroke="#231f20" stroke-width="1.3"/>
<text x="416.60" y="138.21" font-size="7.8" text-anchor="end" fill="#231f20" stroke="#231f20" stroke-width="0.15">100</text>
<line x1="421.80" y1="220.80" x2="507.40" y2="220.80" stroke="#231f20" stroke-width="1.3"/>
<line x1="422.60" y1="220.80" x2="422.60" y2="223.60" stroke="#231f20" stroke-width="1.1"/>
<text x="422.60" y="233.60" font-size="7.8" text-anchor="middle" fill="#231f20" stroke="#231f20" stroke-width="0.15">0</text>
<line x1="442.11" y1="220.80" x2="442.11" y2="223.60" stroke="#231f20" stroke-width="1.1"/>
<text x="442.11" y="233.60" font-size="7.8" text-anchor="middle" fill="#231f20" stroke="#231f20" stroke-width="0.15">30</text>
<line x1="461.62" y1="220.80" x2="461.62" y2="223.60" stroke="#231f20" stroke-width="1.1"/>
<text x="461.62" y="233.60" font-size="7.8" text-anchor="middle" fill="#231f20" stroke="#231f20" stroke-width="0.15">60</text>
<line x1="481.13" y1="220.80" x2="481.13" y2="223.60" stroke="#231f20" stroke-width="1.1"/>
<text x="481.13" y="233.60" font-size="7.8" text-anchor="middle" fill="#231f20" stroke="#231f20" stroke-width="0.15">90</text>
<line x1="500.64" y1="220.80" x2="500.64" y2="223.60" stroke="#231f20" stroke-width="1.1"/>
<text x="500.64" y="233.60" font-size="7.8" text-anchor="middle" fill="#231f20" stroke="#231f20" stroke-width="0.15">120</text>
<text x="465.30" y="246.40" font-size="9.3" text-anchor="middle" textLength="31.00" lengthAdjust="spacingAndGlyphs" fill="#231f20" stroke="#231f20" stroke-width="0.15" font-weight="bold">Time (min)</text>
<text x="398.00" y="176.40" font-size="9.3" text-anchor="middle" textLength="36.80" lengthAdjust="spacingAndGlyphs" fill="#231f20" stroke="#231f20" stroke-width="0.15" font-weight="bold" transform="rotate(-90 398.00 176.40)">Clot size (%)</text>
<polyline points="422.60,135.40 442.11,172.12 461.62,187.49 481.13,199.45 500.64,209.70" fill="none" stroke="#1d4a8a" stroke-width="1.3"/>
<rect x="421.20" y="134.00" width="2.80" height="2.80" fill="#1d4a8a"/>
<line x1="442.11" y1="166.57" x2="442.11" y2="177.67" stroke="#1d4a8a" stroke-width="0.8"/>
<line x1="440.51" y1="166.57" x2="443.71" y2="166.57" stroke="#1d4a8a" stroke-width="0.8"/>
<line x1="440.51" y1="177.67" x2="443.71" y2="177.67" stroke="#1d4a8a" stroke-width="0.8"/>
<rect x="440.71" y="170.72" width="2.80" height="2.80" fill="#1d4a8a"/>
<line x1="461.62" y1="181.52" x2="461.62" y2="193.47" stroke="#1d4a8a" stroke-width="0.8"/>
<line x1="460.02" y1="181.52" x2="463.22" y2="181.52" stroke="#1d4a8a" stroke-width="0.8"/>
<line x1="460.02" y1="193.47" x2="463.22" y2="193.47" stroke="#1d4a8a" stroke-width="0.8"/>
<rect x="460.22" y="186.09" width="2.80" height="2.80" fill="#1d4a8a"/>
<line x1="481.13" y1="196.03" x2="481.13" y2="202.87" stroke="#1d4a8a" stroke-width="0.8"/>
<line x1="479.53" y1="196.03" x2="482.73" y2="196.03" stroke="#1d4a8a" stroke-width="0.8"/>
<line x1="479.53" y1="202.87" x2="482.73" y2="202.87" stroke="#1d4a8a" stroke-width="0.8"/>
<rect x="479.73" y="198.05" width="2.80" height="2.80" fill="#1d4a8a"/>
<line x1="500.64" y1="206.28" x2="500.64" y2="213.11" stroke="#1d4a8a" stroke-width="0.8"/>
<line x1="499.04" y1="206.28" x2="502.24" y2="206.28" stroke="#1d4a8a" stroke-width="0.8"/>
<line x1="499.04" y1="213.11" x2="502.24" y2="213.11" stroke="#1d4a8a" stroke-width="0.8"/>
<rect x="499.24" y="208.30" width="2.80" height="2.80" fill="#1d4a8a"/>
<polyline points="422.60,135.40 442.11,149.92 461.62,164.44 481.13,171.27 500.64,181.52" fill="none" stroke="#c8203c" stroke-width="1.3"/>
<circle cx="422.60" cy="135.40" r="1.6" fill="#c8203c"/>
<line x1="442.11" y1="143.09" x2="442.11" y2="156.75" stroke="#c8203c" stroke-width="0.8"/>
<line x1="440.51" y1="143.09" x2="443.71" y2="143.09" stroke="#c8203c" stroke-width="0.8"/>
<line x1="440.51" y1="156.75" x2="443.71" y2="156.75" stroke="#c8203c" stroke-width="0.8"/>
<circle cx="442.11" cy="149.92" r="1.6" fill="#c8203c"/>
<line x1="461.62" y1="160.59" x2="461.62" y2="168.28" stroke="#c8203c" stroke-width="0.8"/>
<line x1="460.02" y1="160.59" x2="463.22" y2="160.59" stroke="#c8203c" stroke-width="0.8"/>
<line x1="460.02" y1="168.28" x2="463.22" y2="168.28" stroke="#c8203c" stroke-width="0.8"/>
<circle cx="461.62" cy="164.44" r="1.6" fill="#c8203c"/>
<line x1="481.13" y1="165.29" x2="481.13" y2="177.25" stroke="#c8203c" stroke-width="0.8"/>
<line x1="479.53" y1="165.29" x2="482.73" y2="165.29" stroke="#c8203c" stroke-width="0.8"/>
<line x1="479.53" y1="177.25" x2="482.73" y2="177.25" stroke="#c8203c" stroke-width="0.8"/>
<circle cx="481.13" cy="171.27" r="1.6" fill="#c8203c"/>
<line x1="500.64" y1="177.25" x2="500.64" y2="185.79" stroke="#c8203c" stroke-width="0.8"/>
<line x1="499.04" y1="177.25" x2="502.24" y2="177.25" stroke="#c8203c" stroke-width="0.8"/>
<line x1="499.04" y1="185.79" x2="502.24" y2="185.79" stroke="#c8203c" stroke-width="0.8"/>
<circle cx="500.64" cy="181.52" r="1.6" fill="#c8203c"/>
<text x="500.64" y="176.40" font-size="7.0" text-anchor="middle" fill="#231f20" stroke="#231f20" stroke-width="0.15">**</text>
<line x1="448.30" y1="139.20" x2="457.70" y2="139.20" stroke="#1d4a8a" stroke-width="1.3"/>
<rect x="451.60" y="137.80" width="2.80" height="2.80" fill="#1d4a8a"/>
<text x="459.80" y="142.00" font-size="7.8" textLength="25.20" lengthAdjust="spacingAndGlyphs" fill="#231f20" stroke="#231f20" stroke-width="0.15"><tspan font-style="italic">Actn1</tspan><tspan font-size="4.29" dy="-2.96">fl/fl</tspan><tspan dy="2.96"></tspan></text>
<line x1="448.30" y1="147.60" x2="457.70" y2="147.60" stroke="#c8203c" stroke-width="1.3"/>
<circle cx="453" cy="147.6" r="1.6" fill="#c8203c"/>
<text x="459.80" y="150.40" font-size="7.8" textLength="41.40" lengthAdjust="spacingAndGlyphs" fill="#231f20" stroke="#231f20" stroke-width="0.15">PF4-<tspan font-style="italic">Actn1</tspan><tspan font-size="4.29" dy="-2.96">−/−</tspan><tspan dy="2.96"></tspan></text>
<line x1="49.40" y1="261.50" x2="49.40" y2="354.60" stroke="#231f20" stroke-width="1.3"/>
<line x1="46.60" y1="352.30" x2="49.40" y2="352.30" stroke="#231f20" stroke-width="1.1"/>
<text x="42.60" y="355.05" font-size="7.6" text-anchor="end" textLength="4.10" lengthAdjust="spacingAndGlyphs" fill="#231f20" stroke="#231f20" stroke-width="0.15">0</text>
<line x1="46.60" y1="343.32" x2="49.40" y2="343.32" stroke="#231f20" stroke-width="1.1"/>
<text x="42.60" y="346.07" font-size="7.6" text-anchor="end" textLength="8.20" lengthAdjust="spacingAndGlyphs" fill="#231f20" stroke="#231f20" stroke-width="0.15">10</text>
<line x1="46.60" y1="334.34" x2="49.40" y2="334.34" stroke="#231f20" stroke-width="1.1"/>
<text x="42.60" y="337.09" font-size="7.6" text-anchor="end" textLength="8.20" lengthAdjust="spacingAndGlyphs" fill="#231f20" stroke="#231f20" stroke-width="0.15">20</text>
<line x1="46.60" y1="325.36" x2="49.40" y2="325.36" stroke="#231f20" stroke-width="1.1"/>
<text x="42.60" y="328.11" font-size="7.6" text-anchor="end" textLength="8.20" lengthAdjust="spacingAndGlyphs" fill="#231f20" stroke="#231f20" stroke-width="0.15">30</text>
<line x1="46.60" y1="316.38" x2="49.40" y2="316.38" stroke="#231f20" stroke-width="1.1"/>
<text x="42.60" y="319.13" font-size="7.6" text-anchor="end" textLength="8.20" lengthAdjust="spacingAndGlyphs" fill="#231f20" stroke="#231f20" stroke-width="0.15">40</text>
<line x1="46.60" y1="307.40" x2="49.40" y2="307.40" stroke="#231f20" stroke-width="1.1"/>
<text x="42.60" y="310.15" font-size="7.6" text-anchor="end" textLength="8.20" lengthAdjust="spacingAndGlyphs" fill="#231f20" stroke="#231f20" stroke-width="0.15">50</text>
<line x1="46.60" y1="298.42" x2="49.40" y2="298.42" stroke="#231f20" stroke-width="1.1"/>
<text x="42.60" y="301.17" font-size="7.6" text-anchor="end" textLength="8.20" lengthAdjust="spacingAndGlyphs" fill="#231f20" stroke="#231f20" stroke-width="0.15">60</text>
<line x1="46.60" y1="289.44" x2="49.40" y2="289.44" stroke="#231f20" stroke-width="1.1"/>
<text x="42.60" y="292.19" font-size="7.6" text-anchor="end" textLength="8.20" lengthAdjust="spacingAndGlyphs" fill="#231f20" stroke="#231f20" stroke-width="0.15">70</text>
<line x1="46.60" y1="280.46" x2="49.40" y2="280.46" stroke="#231f20" stroke-width="1.1"/>
<text x="42.60" y="283.21" font-size="7.6" text-anchor="end" textLength="8.20" lengthAdjust="spacingAndGlyphs" fill="#231f20" stroke="#231f20" stroke-width="0.15">80</text>
<line x1="46.60" y1="271.48" x2="49.40" y2="271.48" stroke="#231f20" stroke-width="1.1"/>
<text x="42.60" y="274.23" font-size="7.6" text-anchor="end" textLength="8.20" lengthAdjust="spacingAndGlyphs" fill="#231f20" stroke="#231f20" stroke-width="0.15">90</text>
<line x1="46.60" y1="262.50" x2="49.40" y2="262.50" stroke="#231f20" stroke-width="1.1"/>
<text x="42.60" y="265.25" font-size="7.6" text-anchor="end" textLength="12.30" lengthAdjust="spacingAndGlyphs" fill="#231f20" stroke="#231f20" stroke-width="0.15">100</text>
<path d="M54.80,352.50 L54.83,352.80 L54.86,353.22 L54.89,353.74 L54.93,354.34 L54.97,354.99 L55.01,355.66 L55.06,356.35 L55.11,357.03 L55.16,357.67 L55.22,358.25 L55.29,358.75 L55.36,359.15 L55.43,359.42 L55.51,359.54 L55.60,359.50 L55.66,359.39 L55.71,359.23 L55.78,359.02 L55.84,358.76 L55.91,358.46 L55.98,358.12 L56.05,357.74 L56.13,357.33 L56.20,356.89 L56.28,356.42 L56.36,355.93 L56.44,355.42 L56.52,354.89 L56.60,354.35 L56.69,353.80 L56.77,353.24 L56.85,352.67 L56.94,352.11 L57.02,351.54 L57.10,350.99 L57.18,350.44 L57.27,349.90 L57.34,349.38 L57.42,348.88 L57.50,348.40 L57.57,347.96 L57.64,347.51 L57.71,347.05 L57.79,346.58 L57.86,346.11 L57.94,345.63 L58.01,345.14 L58.08,344.65 L58.16,344.16 L58.23,343.66 L58.31,343.17 L58.38,342.68 L58.46,342.18 L58.53,341.69 L58.60,341.21 L58.68,340.73 L58.75,340.25 L58.82,339.79 L58.89,339.33 L58.96,338.88 L59.02,338.44 L59.09,338.01 L59.16,337.60 L59.22,337.20 L59.28,336.82 L59.34,336.45 L59.40,336.10 L59.52,335.42 L59.62,334.80 L59.72,334.23 L59.82,333.70 L59.91,333.21 L60.00,332.75 L60.09,332.32 L60.17,331.91 L60.25,331.52 L60.34,331.14 L60.42,330.76 L60.51,330.38 L60.60,330.00 L60.74,329.44 L60.89,328.89 L61.04,328.36 L61.20,327.86 L61.35,327.39 L61.49,326.96 L61.61,326.58 L61.72,326.26 L61.80,326.00" fill="none" stroke="#8f98b8" stroke-width="0.7" stroke-linejoin="round" opacity="1.0"/>
<path d="M59.90,333.50 L59.98,333.25 L60.09,332.89 L60.21,332.43 L60.36,331.96 L60.51,331.37 L60.67,330.92 L60.84,330.21 L61.00,329.99 L61.32,329.65 L61.66,329.24 L62.04,329.10 L62.50,328.68 L62.86,328.68 L63.18,328.55 L63.58,328.61 L64.18,328.61 L65.10,328.45 L65.43,328.52 L65.79,328.54 L66.19,328.74 L66.61,328.70 L67.06,328.53 L67.54,328.73 L68.03,328.54 L68.53,328.70 L69.05,328.57 L69.57,328.55 L70.10,328.83 L70.63,328.65 L71.15,328.67 L71.67,328.93 L72.18,328.92 L72.67,328.77 L73.15,329.01 L73.60,328.91 L74.09,328.99 L74.57,328.89 L75.04,329.16 L75.50,329.13 L75.95,329.26 L76.40,329.29 L76.85,329.16 L77.29,329.24 L77.74,329.24 L78.19,329.29 L78.64,329.33 L79.09,329.47 L79.55,329.62 L80.03,329.51 L80.51,329.78 L81.00,329.75 L81.44,329.81 L81.90,330.03 L82.38,330.00 L82.88,330.03 L83.40,330.16 L83.92,330.31 L84.45,330.21 L84.98,330.57 L85.50,330.37 L86.02,330.67 L86.52,330.79 L87.01,330.62 L87.48,330.93 L87.92,330.88 L88.33,331.01 L88.71,330.90 L89.05,330.97 L89.35,331.06 L89.60,331.20" fill="none" stroke="#e0474c" stroke-width="0.85" stroke-linejoin="round" opacity="1.0"/>
<path d="M61.80,326.00 L61.88,326.04 L61.98,325.14 L62.10,325.08 L62.23,324.71 L62.38,324.20 L62.53,323.25 L62.69,322.76 L62.85,322.41 L63.00,322.19 L63.23,321.23 L63.46,321.24 L63.70,320.88 L63.95,320.56 L64.22,319.63 L64.50,319.91 L64.79,318.96 L65.08,318.80 L65.39,318.66 L65.72,318.56 L66.09,317.86 L66.50,318.00 L66.89,317.50 L67.31,317.10 L67.75,316.88 L68.22,316.57 L68.72,316.33 L69.24,316.24 L69.80,316.53 L70.20,316.72 L70.62,316.13 L71.05,316.07 L71.49,316.77 L71.94,316.50 L72.42,316.48 L72.91,316.44 L73.42,316.78 L73.95,317.03 L74.50,316.87 L74.91,316.91 L75.33,316.73 L75.75,317.41 L76.19,316.88 L76.64,317.28 L77.10,317.62 L77.56,317.22 L78.04,317.74 L78.52,318.00 L79.02,317.88 L79.53,318.11 L80.04,317.76 L80.57,318.12 L81.10,318.05 L81.51,318.65 L81.96,318.39 L82.42,318.63 L82.91,319.15 L83.42,319.19 L83.93,319.43 L84.46,319.21 L84.98,319.40 L85.50,319.72 L86.02,319.70 L86.52,319.72 L87.01,319.95 L87.48,319.91 L87.92,320.21 L88.33,320.76 L88.71,320.86 L89.05,320.73 L89.35,320.73 L89.60,320.80" fill="none" stroke="#3159a0" stroke-width="1.1" stroke-linejoin="round" opacity="1.0"/>
<path d="M53.60,350.80 L53.60,355.50 M53.30,352.00 L54.80,352.80" stroke="#666" stroke-width="0.7" fill="none"/>
<path d="M95.80,352.50 L95.86,352.78 L95.93,353.15 L96.01,353.60 L96.11,354.11 L96.21,354.68 L96.31,355.29 L96.43,355.93 L96.55,356.57 L96.67,357.21 L96.79,357.84 L96.92,358.43 L97.04,358.99 L97.16,359.48 L97.28,359.90 L97.40,360.24 L97.50,360.48 L97.61,360.60 L97.70,360.60 L97.77,360.51 L97.84,360.35 L97.90,360.12 L97.97,359.83 L98.03,359.49 L98.09,359.10 L98.15,358.67 L98.21,358.19 L98.27,357.69 L98.32,357.15 L98.38,356.59 L98.43,356.02 L98.49,355.43 L98.54,354.83 L98.59,354.23 L98.65,353.64 L98.70,353.05 L98.75,352.48 L98.80,351.92 L98.85,351.39 L98.90,350.89 L98.95,350.43 L99.00,350.00 L99.07,349.46 L99.13,348.94 L99.19,348.44 L99.26,347.95 L99.32,347.47 L99.38,347.00 L99.43,346.55 L99.49,346.09 L99.55,345.65 L99.60,345.20 L99.66,344.76 L99.72,344.31 L99.77,343.86 L99.83,343.41 L99.88,342.95 L99.94,342.48 L100.00,342.00 L100.05,341.56 L100.10,341.13 L100.15,340.69 L100.20,340.24 L100.25,339.80 L100.30,339.35 L100.35,338.91 L100.40,338.46 L100.44,338.01 L100.49,337.56 L100.54,337.10 L100.59,336.65 L100.65,336.20 L100.70,335.75 L100.76,335.30 L100.81,334.85 L100.87,334.40 L100.94,333.95 L101.00,333.50 L101.07,333.05 L101.14,332.59 L101.21,332.13 L101.28,331.66 L101.35,331.19 L101.43,330.72 L101.50,330.25 L101.58,329.78 L101.66,329.31 L101.74,328.85 L101.82,328.39 L101.90,327.93 L101.99,327.48 L102.07,327.04 L102.16,326.61 L102.24,326.19 L102.33,325.78 L102.41,325.38 L102.50,325.00 L102.63,324.45 L102.78,323.90 L102.93,323.36 L103.09,322.83 L103.25,322.31 L103.41,321.81 L103.57,321.33 L103.73,320.89 L103.87,320.47 L104.00,320.09 L104.12,319.75 L104.22,319.45 L104.30,319.20" fill="none" stroke="#8f98b8" stroke-width="0.7" stroke-linejoin="round" opacity="1.0"/>
<path d="M99.60,346.00 L99.73,345.68 L99.90,345.25 L100.10,344.88 L100.32,344.56 L100.55,344.09 L100.78,343.44 L101.00,343.09 L101.18,342.68 L101.36,342.25 L101.54,341.84 L101.72,341.45 L101.91,340.90 L102.10,340.55 L102.30,339.95 L102.50,339.50 L102.65,339.18 L102.80,338.73 L102.96,338.16 L103.12,337.90 L103.28,337.33 L103.44,336.83 L103.60,336.18 L103.77,335.87 L103.94,335.31 L104.12,334.99 L104.30,334.49 L104.49,334.14 L104.66,333.66 L104.83,333.29 L104.99,332.74 L105.17,332.42 L105.36,332.04 L105.58,331.65 L105.84,331.08 L106.14,330.78 L106.50,330.31 L106.74,329.96 L106.99,329.74 L107.26,329.42 L107.54,328.97 L107.84,328.65 L108.15,328.20 L108.47,328.07 L108.81,327.76 L109.15,327.28 L109.49,327.00 L109.84,326.67 L110.20,326.34 L110.56,325.85 L110.92,325.70 L111.28,325.33 L111.64,325.05 L112.00,324.68 L112.36,324.45 L112.73,324.21 L113.10,323.88 L113.48,323.62 L113.87,323.14 L114.26,322.90 L114.65,322.72 L115.05,322.51 L115.44,322.12 L115.84,322.01 L116.24,321.74 L116.64,321.31 L117.04,321.20 L117.43,320.89 L117.83,320.61 L118.22,320.41 L118.60,320.25 L119.03,319.97 L119.46,319.74 L119.88,319.48 L120.29,319.40 L120.71,319.18 L121.13,319.05 L121.54,318.86 L121.96,318.57 L122.38,318.59 L122.80,318.14 L123.23,318.08 L123.66,317.87 L124.10,317.73 L124.54,317.47 L125.00,317.50 L125.42,317.20 L125.87,316.93 L126.34,316.92 L126.83,316.59 L127.33,316.55 L127.84,316.31 L128.34,316.20 L128.85,316.14 L129.35,315.93 L129.83,315.65 L130.29,315.61 L130.74,315.41 L131.15,315.19 L131.52,314.99 L131.86,315.01 L132.16,314.90 L132.40,314.80" fill="none" stroke="#e0474c" stroke-width="0.85" stroke-linejoin="round" opacity="1.0"/>
<path d="M104.30,319.20 L104.42,319.29 L104.57,319.01 L104.73,318.43 L104.91,317.87 L105.11,317.84 L105.33,316.78 L105.56,316.40 L105.80,316.26 L106.04,315.82 L106.30,315.02 L106.56,314.90 L106.82,314.64 L107.08,313.85 L107.34,313.50 L107.60,313.01 L107.90,312.68 L108.19,312.80 L108.50,312.05 L108.80,312.13 L109.11,311.78 L109.43,311.26 L109.76,310.73 L110.10,310.95 L110.45,310.34 L110.81,310.02 L111.19,309.69 L111.59,309.89 L112.00,309.29 L112.38,308.93 L112.77,308.85 L113.18,308.39 L113.61,308.53 L114.04,308.20 L114.49,307.90 L114.95,308.05 L115.41,307.90 L115.87,307.15 L116.33,307.35 L116.80,307.00 L117.26,307.31 L117.71,307.06 L118.16,306.55 L118.60,306.44 L119.06,306.24 L119.52,306.71 L119.97,306.13 L120.41,306.27 L120.86,306.11 L121.30,306.16 L121.75,306.08 L122.20,306.13 L122.65,305.64 L123.10,306.05 L123.57,305.69 L124.03,305.81 L124.51,305.63 L125.00,305.56 L125.45,305.68 L125.93,305.60 L126.43,305.49 L126.95,305.73 L127.49,305.59 L128.03,305.17 L128.57,305.30 L129.10,305.41 L129.62,305.71 L130.12,305.67 L130.60,305.41 L131.05,305.02 L131.46,305.54 L131.82,305.28 L132.14,305.37 L132.40,305.30" fill="none" stroke="#3159a0" stroke-width="1.1" stroke-linejoin="round" opacity="1.0"/>
<path d="M95.00,351.00 L95.00,355.70 M94.70,352.20 L96.20,353.00" stroke="#666" stroke-width="0.7" fill="none"/>
<path d="M137.60,352.80 L137.67,353.15 L137.76,353.67 L137.86,354.33 L137.97,355.05 L138.09,355.78 L138.23,356.45 L138.37,357.02 L138.51,357.43 L138.65,357.60 L138.80,357.50 L138.87,357.35 L138.93,357.15 L139.00,356.90 L139.07,356.61 L139.14,356.27 L139.22,355.89 L139.29,355.48 L139.36,355.04 L139.44,354.57 L139.52,354.07 L139.59,353.56 L139.67,353.02 L139.75,352.47 L139.83,351.92 L139.91,351.35 L139.99,350.78 L140.08,350.22 L140.16,349.65 L140.24,349.09 L140.33,348.55 L140.41,348.01 L140.50,347.50 L140.57,347.08 L140.64,346.66 L140.72,346.23 L140.79,345.78 L140.87,345.34 L140.94,344.88 L141.02,344.42 L141.10,343.96 L141.18,343.49 L141.26,343.02 L141.34,342.54 L141.42,342.07 L141.50,341.59 L141.58,341.12 L141.66,340.64 L141.74,340.17 L141.82,339.70 L141.90,339.23 L141.98,338.77 L142.06,338.31 L142.14,337.86 L142.22,337.41 L142.30,336.97 L142.37,336.54 L142.45,336.12 L142.53,335.70 L142.60,335.30 L142.69,334.79 L142.79,334.29 L142.88,333.79 L142.97,333.30 L143.07,332.82 L143.16,332.35 L143.25,331.88 L143.34,331.42 L143.43,330.96 L143.52,330.51 L143.61,330.07 L143.70,329.63 L143.79,329.20 L143.87,328.78 L143.96,328.36 L144.05,327.95 L144.14,327.55 L144.23,327.15 L144.32,326.76 L144.41,326.38 L144.50,326.00 L144.64,325.44 L144.79,324.88 L144.94,324.32 L145.10,323.77 L145.26,323.24 L145.41,322.72 L145.57,322.22 L145.72,321.74 L145.86,321.29 L146.00,320.88 L146.12,320.50 L146.23,320.15 L146.32,319.85 L146.40,319.60" fill="none" stroke="#8f98b8" stroke-width="0.7" stroke-linejoin="round" opacity="1.0"/>
<path d="M145.50,322.50 L145.60,322.29 L145.73,321.92 L145.87,321.46 L146.04,321.13 L146.22,320.47 L146.41,319.95 L146.61,319.55 L146.83,318.83 L147.05,318.35 L147.27,318.03 L147.50,317.37 L147.75,317.17 L148.01,316.71 L148.27,316.24 L148.55,315.81 L148.83,315.58 L149.13,315.25 L149.44,314.65 L149.78,314.38 L150.13,314.01 L150.50,313.60 L150.79,313.25 L151.10,312.89 L151.43,312.70 L151.78,312.43 L152.14,311.88 L152.51,311.59 L152.88,311.44 L153.25,311.11 L153.61,310.75 L153.97,310.26 L154.31,310.19 L154.63,310.00 L154.93,309.76 L155.20,309.46 L155.73,308.87 L156.17,308.82 L156.54,308.43 L156.89,308.39 L157.26,308.33 L157.70,308.06 L158.13,307.71 L158.59,307.57 L159.07,307.59 L159.56,307.18 L160.06,307.16 L160.54,306.93 L161.00,306.70 L161.43,306.68 L161.84,306.36 L162.23,306.23 L162.63,306.17 L163.04,305.94 L163.50,305.80 L164.00,305.82 L164.39,305.78 L164.80,305.73 L165.23,305.41 L165.67,305.41 L166.13,305.28 L166.60,305.28 L167.07,305.16 L167.55,305.20 L168.03,304.95 L168.50,304.77 L168.95,304.88 L169.43,304.63 L169.94,304.69 L170.46,304.57 L170.98,304.61 L171.48,304.42 L171.96,304.36 L172.41,304.19 L172.80,304.21 L173.14,304.07 L173.40,304.10" fill="none" stroke="#e0474c" stroke-width="0.85" stroke-linejoin="round" opacity="1.0"/>
<path d="M146.40,319.60 L146.54,319.55 L146.70,319.10 L146.88,318.51 L147.08,318.22 L147.31,317.92 L147.55,317.75 L147.80,316.92 L148.07,316.83 L148.34,316.32 L148.63,315.46 L148.92,315.40 L149.21,314.55 L149.51,314.13 L149.81,314.05 L150.10,313.42 L150.40,313.50 L150.72,312.85 L151.06,312.38 L151.41,312.35 L151.76,311.45 L152.13,311.58 L152.49,310.76 L152.86,310.48 L153.22,310.71 L153.58,310.19 L153.93,309.56 L154.27,309.17 L154.60,309.48 L154.91,308.98 L155.20,308.82 L155.64,307.94 L156.04,307.91 L156.40,307.39 L156.74,307.01 L157.07,306.79 L157.40,306.72 L157.74,306.26 L158.10,306.01 L158.50,305.55 L158.88,305.76 L159.27,305.36 L159.67,305.21 L160.09,304.68 L160.51,304.71 L160.93,304.21 L161.37,304.01 L161.81,303.74 L162.25,303.61 L162.70,303.13 L163.11,302.70 L163.52,302.45 L163.94,302.37 L164.35,302.06 L164.78,302.46 L165.21,301.98 L165.65,301.98 L166.10,301.25 L166.55,301.39 L167.02,301.48 L167.50,301.08 L167.90,300.78 L168.34,300.62 L168.80,300.18 L169.28,300.02 L169.77,299.82 L170.26,299.77 L170.75,299.58 L171.23,299.74 L171.68,299.04 L172.11,298.94 L172.51,298.80 L172.86,298.58 L173.16,298.55 L173.40,298.60" fill="none" stroke="#3159a0" stroke-width="1.1" stroke-linejoin="round" opacity="1.0"/>
<path d="M136.80,351.60 L136.80,356.30 M136.50,352.80 L138.00,353.60" stroke="#666" stroke-width="0.7" fill="none"/>
<line x1="59.50" y1="262.60" x2="66.20" y2="262.60" stroke="#231f20" stroke-width="1.0"/>
<text x="53.00" y="270.30" font-size="7.6" textLength="18.00" lengthAdjust="spacingAndGlyphs" fill="#231f20" stroke="#231f20" stroke-width="0.15">1 min</text>
<rect x="76.00" y="262.90" width="5.50" height="3.80" fill="#1d4a8a"/>
<text x="85.00" y="267.60" font-size="7.6" textLength="23.20" lengthAdjust="spacingAndGlyphs" fill="#231f20" stroke="#231f20" stroke-width="0.15"><tspan font-style="italic">Actn1</tspan><tspan font-size="4.18" dy="-2.89">fl/fl</tspan><tspan dy="2.89"></tspan></text>
<rect x="114.50" y="262.90" width="6.00" height="3.80" fill="#c8203c"/>
<text x="123.20" y="267.60" font-size="7.6" textLength="42.30" lengthAdjust="spacingAndGlyphs" fill="#231f20" stroke="#231f20" stroke-width="0.15">PF4-<tspan font-style="italic">Actn1</tspan><tspan font-size="4.18" dy="-2.89">−/−</tspan><tspan dy="2.89"></tspan></text>
<text x="24.60" y="307.50" font-size="9.3" text-anchor="middle" textLength="63.00" lengthAdjust="spacingAndGlyphs" fill="#231f20" stroke="#231f20" stroke-width="0.15" font-weight="bold" transform="rotate(-90 24.60 307.50)">% Light transmission</text>
<text x="69.65" y="369.20" font-size="7.6" text-anchor="middle" textLength="8.10" lengthAdjust="spacingAndGlyphs" fill="#231f20" stroke="#231f20" stroke-width="0.15">10</text>
<text x="115.05" y="369.20" font-size="7.6" text-anchor="middle" textLength="8.90" lengthAdjust="spacingAndGlyphs" fill="#231f20" stroke="#231f20" stroke-width="0.15">20</text>
<text x="143.00" y="369.20" font-size="7.6" textLength="26.40" lengthAdjust="spacingAndGlyphs" fill="#231f20" stroke="#231f20" stroke-width="0.15">40 (µM)</text>
<line x1="52.10" y1="372.60" x2="164.50" y2="372.60" stroke="#3a3a3a" stroke-width="1.1"/>
<text x="108.70" y="382.80" font-size="7.8" text-anchor="middle" textLength="16.20" lengthAdjust="spacingAndGlyphs" fill="#231f20" stroke="#231f20" stroke-width="0.15">ADP</text>
<line x1="208.80" y1="261.50" x2="208.80" y2="354.60" stroke="#231f20" stroke-width="1.3"/>
<line x1="206.00" y1="352.30" x2="208.80" y2="352.30" stroke="#231f20" stroke-width="1.1"/>
<text x="202.50" y="355.05" font-size="7.6" text-anchor="end" textLength="4.20" lengthAdjust="spacingAndGlyphs" fill="#231f20" stroke="#231f20" stroke-width="0.15">0</text>
<line x1="206.00" y1="343.32" x2="208.80" y2="343.32" stroke="#231f20" stroke-width="1.1"/>
<text x="202.50" y="346.07" font-size="7.6" text-anchor="end" textLength="8.40" lengthAdjust="spacingAndGlyphs" fill="#231f20" stroke="#231f20" stroke-width="0.15">10</text>
<line x1="206.00" y1="334.34" x2="208.80" y2="334.34" stroke="#231f20" stroke-width="1.1"/>
<text x="202.50" y="337.09" font-size="7.6" text-anchor="end" textLength="8.40" lengthAdjust="spacingAndGlyphs" fill="#231f20" stroke="#231f20" stroke-width="0.15">20</text>
<line x1="206.00" y1="325.36" x2="208.80" y2="325.36" stroke="#231f20" stroke-width="1.1"/>
<text x="202.50" y="328.11" font-size="7.6" text-anchor="end" textLength="8.40" lengthAdjust="spacingAndGlyphs" fill="#231f20" stroke="#231f20" stroke-width="0.15">30</text>
<line x1="206.00" y1="316.38" x2="208.80" y2="316.38" stroke="#231f20" stroke-width="1.1"/>
<text x="202.50" y="319.13" font-size="7.6" text-anchor="end" textLength="8.40" lengthAdjust="spacingAndGlyphs" fill="#231f20" stroke="#231f20" stroke-width="0.15">40</text>
<line x1="206.00" y1="307.40" x2="208.80" y2="307.40" stroke="#231f20" stroke-width="1.1"/>
<text x="202.50" y="310.15" font-size="7.6" text-anchor="end" textLength="8.40" lengthAdjust="spacingAndGlyphs" fill="#231f20" stroke="#231f20" stroke-width="0.15">50</text>
<line x1="206.00" y1="298.42" x2="208.80" y2="298.42" stroke="#231f20" stroke-width="1.1"/>
<text x="202.50" y="301.17" font-size="7.6" text-anchor="end" textLength="8.40" lengthAdjust="spacingAndGlyphs" fill="#231f20" stroke="#231f20" stroke-width="0.15">60</text>
<line x1="206.00" y1="289.44" x2="208.80" y2="289.44" stroke="#231f20" stroke-width="1.1"/>
<text x="202.50" y="292.19" font-size="7.6" text-anchor="end" textLength="8.40" lengthAdjust="spacingAndGlyphs" fill="#231f20" stroke="#231f20" stroke-width="0.15">70</text>
<line x1="206.00" y1="280.46" x2="208.80" y2="280.46" stroke="#231f20" stroke-width="1.1"/>
<text x="202.50" y="283.21" font-size="7.6" text-anchor="end" textLength="8.40" lengthAdjust="spacingAndGlyphs" fill="#231f20" stroke="#231f20" stroke-width="0.15">80</text>
<line x1="206.00" y1="271.48" x2="208.80" y2="271.48" stroke="#231f20" stroke-width="1.1"/>
<text x="202.50" y="274.23" font-size="7.6" text-anchor="end" textLength="8.40" lengthAdjust="spacingAndGlyphs" fill="#231f20" stroke="#231f20" stroke-width="0.15">90</text>
<line x1="206.00" y1="262.50" x2="208.80" y2="262.50" stroke="#231f20" stroke-width="1.1"/>
<text x="202.50" y="265.25" font-size="7.6" text-anchor="end" textLength="12.60" lengthAdjust="spacingAndGlyphs" fill="#231f20" stroke="#231f20" stroke-width="0.15">100</text>
<line x1="219.20" y1="262.90" x2="225.60" y2="262.90" stroke="#231f20" stroke-width="1.0"/>
<text x="213.40" y="270.80" font-size="7.6" textLength="17.40" lengthAdjust="spacingAndGlyphs" fill="#231f20" stroke="#231f20" stroke-width="0.15">1 min</text>
<path d="M215.0,351.8 L218.3,351.8" stroke="#666" stroke-width="0.8" fill="none"/>
<path d="M218.40,351.90 L218.46,352.18 L218.54,352.58 L218.63,353.06 L218.73,353.61 L218.83,354.20 L218.95,354.83 L219.07,355.47 L219.19,356.10 L219.32,356.70 L219.46,357.25 L219.59,357.74 L219.72,358.13 L219.85,358.42 L219.98,358.58 L220.10,358.60 L220.20,358.52 L220.29,358.37 L220.39,358.16 L220.49,357.90 L220.59,357.59 L220.69,357.22 L220.79,356.82 L220.89,356.37 L220.99,355.89 L221.09,355.38 L221.19,354.84 L221.29,354.27 L221.39,353.69 L221.49,353.09 L221.60,352.48 L221.70,351.86 L221.80,351.24 L221.90,350.62 L222.00,350.00 L222.06,349.63 L222.12,349.24 L222.18,348.84 L222.24,348.42 L222.30,348.00 L222.36,347.56 L222.43,347.11 L222.49,346.65 L222.55,346.18 L222.61,345.71 L222.68,345.23 L222.74,344.74 L222.80,344.25 L222.86,343.75 L222.93,343.26 L222.99,342.76 L223.05,342.26 L223.11,341.76 L223.17,341.26 L223.23,340.76 L223.29,340.26 L223.35,339.77 L223.41,339.29 L223.47,338.81 L223.52,338.34 L223.58,337.87 L223.64,337.41 L223.69,336.97 L223.74,336.53 L223.80,336.11 L223.85,335.70 L223.90,335.30 L223.97,334.76 L224.04,334.24 L224.10,333.73 L224.16,333.23 L224.22,332.74 L224.28,332.27 L224.34,331.80 L224.40,331.34 L224.46,330.89 L224.51,330.45 L224.57,330.01 L224.62,329.58 L224.67,329.15 L224.73,328.73 L224.78,328.31 L224.83,327.90 L224.88,327.48 L224.94,327.07 L224.99,326.66 L225.04,326.25 L225.09,325.83 L225.15,325.42 L225.20,325.00 L225.26,324.51 L225.33,324.01 L225.40,323.49 L225.47,322.97 L225.54,322.45 L225.61,321.92 L225.68,321.40 L225.74,320.87 L225.81,320.36 L225.88,319.86 L225.95,319.37 L226.01,318.89 L226.07,318.43 L226.13,318.00 L226.19,317.59 L226.24,317.20 L226.29,316.85 L226.33,316.53 L226.37,316.25 L226.40,316.00" fill="none" stroke="#8f98b8" stroke-width="0.7" stroke-linejoin="round" opacity="1.0"/>
<path d="M223.30,340.00 L223.37,339.65 L223.45,339.37 L223.55,338.82 L223.66,338.62 L223.78,337.96 L223.91,337.61 L224.04,337.02 L224.17,336.52 L224.30,335.99 L224.43,335.69 L224.56,334.98 L224.69,334.70 L224.82,334.13 L224.96,333.79 L225.11,333.36 L225.27,332.75 L225.43,332.33 L225.60,331.86 L225.80,331.46 L226.01,330.95 L226.23,330.59 L226.46,330.32 L226.70,329.71 L226.95,329.28 L227.22,328.94 L227.50,328.53 L227.82,328.30 L228.15,327.97 L228.48,327.51 L228.84,327.26 L229.24,327.13 L229.69,326.97 L230.20,326.64 L230.56,326.43 L230.94,326.44 L231.33,326.01 L231.74,325.89 L232.18,325.97 L232.63,325.73 L233.10,325.50 L233.59,325.55 L234.11,325.59 L234.64,325.37 L235.20,325.26 L235.60,325.14 L236.03,325.11 L236.47,325.34 L236.93,325.20 L237.40,325.33 L237.88,325.06 L238.37,325.12 L238.87,325.07 L239.37,325.19 L239.87,325.10 L240.36,325.18 L240.85,325.25 L241.33,325.25 L241.80,325.20 L242.26,325.23 L242.70,325.54 L243.19,325.35 L243.66,325.50 L244.13,325.53 L244.59,325.64 L245.04,325.58 L245.48,325.73 L245.92,325.74 L246.36,325.96 L246.80,326.15 L247.23,326.14 L247.67,326.30 L248.11,326.18 L248.55,326.19 L249.00,326.41 L249.46,326.46 L249.96,326.54 L250.46,326.55 L250.98,326.68 L251.51,326.77 L252.03,326.88 L252.54,326.75 L253.04,326.85 L253.51,327.01 L253.96,326.88 L254.37,326.89 L254.73,326.98 L255.04,326.95 L255.30,327.10" fill="none" stroke="#e0474c" stroke-width="0.85" stroke-linejoin="round" opacity="1.0"/>
<path d="M226.40,316.00 L226.43,315.94 L226.47,315.67 L226.52,314.98 L226.57,314.47 L226.62,314.01 L226.68,313.68 L226.75,313.09 L226.81,312.84 L226.88,312.44 L226.95,311.69 L227.02,311.03 L227.09,310.95 L227.17,309.97 L227.24,309.57 L227.31,309.12 L227.39,308.70 L227.46,308.05 L227.53,307.84 L227.60,307.37 L227.70,307.13 L227.79,306.46 L227.89,306.18 L227.98,305.51 L228.08,305.10 L228.18,304.50 L228.28,303.94 L228.38,303.76 L228.49,303.22 L228.60,303.01 L228.73,302.44 L228.86,302.03 L229.00,301.34 L229.20,301.24 L229.41,300.47 L229.64,299.86 L229.88,299.40 L230.12,299.07 L230.38,298.76 L230.63,298.69 L230.89,298.08 L231.15,297.60 L231.40,297.78 L231.76,297.24 L232.11,296.51 L232.47,296.22 L232.84,295.99 L233.21,295.89 L233.60,295.99 L234.00,295.81 L234.41,295.31 L234.83,294.75 L235.25,294.60 L235.69,294.30 L236.14,294.09 L236.61,293.80 L237.10,294.26 L237.42,294.55 L237.75,294.66 L238.10,294.44 L238.44,295.02 L238.80,295.07 L239.16,295.78 L239.52,295.95 L239.89,296.67 L240.26,296.95 L240.63,296.86 L241.00,297.37 L241.29,298.09 L241.59,298.10 L241.88,298.42 L242.18,298.77 L242.48,299.36 L242.78,299.85 L243.08,299.94 L243.39,300.61 L243.70,300.73 L244.01,300.75 L244.33,301.61 L244.65,301.68 L244.97,301.76 L245.30,302.73 L245.64,302.38 L245.98,303.07 L246.33,303.31 L246.68,303.88 L247.03,303.83 L247.39,303.99 L247.76,304.31 L248.12,304.53 L248.49,305.06 L248.85,305.18 L249.22,305.72 L249.58,305.62 L249.94,305.95 L250.30,306.12 L250.73,306.93 L251.19,307.12 L251.67,307.43 L252.15,307.56 L252.64,307.70 L253.11,307.79 L253.57,308.54 L254.00,308.55 L254.40,308.46 L254.76,308.75 L255.06,308.88 L255.30,309.30" fill="none" stroke="#3159a0" stroke-width="1.1" stroke-linejoin="round" opacity="1.0"/>
<path d="M260.3,352.0 L263.0,352.0" stroke="#666" stroke-width="0.8" fill="none"/>
<path d="M263.20,352.00 L263.23,352.30 L263.25,352.74 L263.29,353.27 L263.32,353.89 L263.36,354.56 L263.40,355.26 L263.45,355.96 L263.49,356.65 L263.54,357.30 L263.60,357.89 L263.65,358.38 L263.71,358.77 L263.77,359.01 L263.83,359.10 L263.90,359.00 L263.94,358.87 L263.97,358.70 L264.01,358.48 L264.05,358.23 L264.09,357.93 L264.13,357.60 L264.17,357.24 L264.22,356.85 L264.26,356.42 L264.31,355.98 L264.35,355.51 L264.40,355.02 L264.45,354.51 L264.49,353.99 L264.54,353.45 L264.59,352.90 L264.64,352.35 L264.69,351.79 L264.74,351.22 L264.78,350.66 L264.83,350.10 L264.88,349.55 L264.93,349.00 L264.97,348.46 L265.02,347.93 L265.07,347.42 L265.11,346.93 L265.16,346.45 L265.20,346.00 L265.25,345.53 L265.29,345.06 L265.34,344.58 L265.38,344.11 L265.43,343.64 L265.47,343.17 L265.52,342.70 L265.56,342.23 L265.61,341.76 L265.65,341.29 L265.70,340.82 L265.74,340.36 L265.78,339.89 L265.83,339.42 L265.87,338.96 L265.92,338.50 L265.96,338.03 L266.00,337.57 L266.05,337.11 L266.09,336.66 L266.14,336.20 L266.18,335.75 L266.22,335.29 L266.27,334.84 L266.31,334.39 L266.36,333.95 L266.40,333.50 L266.45,333.02 L266.50,332.54 L266.55,332.06 L266.59,331.58 L266.64,331.10 L266.69,330.63 L266.74,330.15 L266.79,329.68 L266.84,329.20 L266.89,328.73 L266.94,328.26 L266.99,327.80 L267.04,327.33 L267.09,326.87 L267.13,326.41 L267.18,325.95 L267.23,325.50 L267.28,325.05 L267.33,324.60 L267.37,324.16 L267.42,323.72 L267.47,323.28 L267.51,322.85 L267.56,322.42 L267.60,322.00 L267.65,321.49 L267.71,320.98 L267.76,320.45 L267.82,319.93 L267.87,319.39 L267.93,318.86 L267.99,318.33 L268.04,317.81 L268.10,317.29 L268.15,316.78 L268.20,316.28 L268.25,315.80 L268.30,315.34 L268.35,314.89 L268.39,314.46 L268.44,314.06 L268.47,313.69 L268.51,313.34 L268.54,313.03 L268.57,312.75 L268.60,312.50" fill="none" stroke="#8f98b8" stroke-width="0.7" stroke-linejoin="round" opacity="1.0"/>
<path d="M267.20,326.00 L267.23,325.80 L267.28,325.52 L267.32,324.92 L267.37,324.67 L267.43,324.06 L267.49,323.66 L267.55,323.19 L267.62,322.57 L267.69,322.07 L267.76,321.39 L267.83,320.73 L267.91,320.34 L267.98,319.85 L268.05,319.25 L268.13,318.87 L268.20,318.45 L268.31,317.78 L268.43,317.32 L268.55,316.84 L268.66,316.40 L268.79,316.02 L268.92,315.50 L269.05,315.28 L269.19,314.84 L269.34,314.49 L269.50,314.06 L269.74,313.55 L270.01,313.05 L270.28,312.71 L270.57,312.19 L270.87,311.89 L271.18,311.58 L271.50,311.21 L271.87,310.79 L272.25,310.41 L272.64,310.13 L273.06,309.96 L273.51,309.81 L274.00,309.68 L274.40,309.54 L274.83,309.31 L275.27,309.40 L275.74,309.13 L276.22,309.20 L276.70,308.97 L277.20,309.16 L277.70,309.15 L278.15,309.27 L278.60,309.29 L279.06,309.29 L279.53,309.41 L280.01,309.48 L280.49,309.56 L280.99,309.57 L281.49,309.82 L282.00,310.12 L282.39,310.08 L282.79,310.47 L283.19,310.53 L283.60,310.69 L284.01,310.78 L284.43,311.12 L284.85,311.29 L285.27,311.67 L285.70,311.99 L286.13,312.24 L286.56,312.39 L287.00,312.57 L287.38,312.69 L287.76,313.08 L288.14,313.27 L288.52,313.54 L288.91,313.67 L289.30,314.06 L289.69,314.09 L290.09,314.35 L290.49,314.58 L290.88,314.92 L291.29,315.24 L291.69,315.25 L292.09,315.62 L292.50,315.88 L292.92,315.94 L293.37,316.13 L293.84,316.53 L294.33,316.86 L294.82,317.12 L295.31,317.33 L295.79,317.48 L296.26,317.71 L296.71,317.97 L297.13,318.29 L297.52,318.30 L297.86,318.46 L298.16,318.71 L298.40,318.80" fill="none" stroke="#e0474c" stroke-width="0.85" stroke-linejoin="round" opacity="1.0"/>
<path d="M268.60,312.50 L268.63,312.58 L268.67,311.73 L268.70,311.28 L268.75,310.95 L268.79,310.85 L268.84,310.42 L268.89,309.66 L268.95,309.17 L269.01,308.94 L269.07,308.45 L269.13,307.96 L269.20,307.46 L269.26,306.47 L269.33,306.25 L269.40,306.00 L269.48,305.60 L269.55,304.70 L269.62,304.64 L269.70,304.10 L269.81,303.76 L269.93,302.75 L270.06,302.57 L270.19,302.18 L270.32,301.45 L270.46,300.73 L270.60,300.35 L270.75,299.90 L270.89,299.44 L271.04,299.08 L271.19,299.02 L271.35,298.29 L271.50,298.38 L271.73,297.87 L271.96,297.46 L272.20,297.03 L272.44,296.56 L272.69,296.34 L272.94,296.01 L273.20,295.43 L273.45,295.34 L273.70,294.42 L274.02,294.04 L274.33,293.66 L274.64,293.44 L274.95,293.26 L275.28,293.03 L275.63,292.91 L276.00,292.67 L276.39,291.93 L276.79,291.90 L277.20,291.75 L277.64,291.38 L278.10,290.96 L278.58,291.04 L279.10,290.61 L279.49,290.63 L279.89,290.29 L280.31,290.41 L280.74,290.18 L281.19,289.36 L281.64,289.62 L282.10,289.38 L282.57,288.87 L283.03,288.54 L283.50,288.59 L283.93,288.31 L284.36,288.40 L284.81,288.34 L285.26,287.78 L285.71,287.53 L286.16,287.50 L286.62,287.46 L287.07,287.36 L287.52,287.05 L287.96,286.70 L288.40,286.59 L288.87,286.80 L289.33,286.44 L289.78,285.99 L290.22,286.14 L290.67,285.90 L291.12,286.10 L291.57,285.59 L292.03,285.63 L292.51,285.42 L293.00,285.58 L293.44,285.85 L293.92,285.46 L294.42,285.26 L294.94,285.56 L295.47,284.88 L295.99,284.98 L296.49,285.22 L296.97,284.58 L297.41,285.04 L297.80,284.70 L298.14,284.40 L298.40,284.70" fill="none" stroke="#3159a0" stroke-width="1.1" stroke-linejoin="round" opacity="1.0"/>
<path d="M305.2,351.3 L306.4,351.8" stroke="#666" stroke-width="0.8" fill="none"/>
<path d="M306.40,351.80 L306.41,352.09 L306.43,352.48 L306.44,352.97 L306.46,353.54 L306.48,354.16 L306.50,354.82 L306.52,355.51 L306.54,356.21 L306.56,356.90 L306.59,357.57 L306.62,358.19 L306.65,358.76 L306.68,359.25 L306.72,359.65 L306.76,359.94 L306.80,360.11 L306.85,360.13 L306.90,360.00 L306.93,359.87 L306.96,359.70 L306.99,359.49 L307.02,359.25 L307.05,358.97 L307.09,358.66 L307.12,358.32 L307.16,357.95 L307.20,357.56 L307.23,357.14 L307.27,356.70 L307.31,356.24 L307.35,355.76 L307.40,355.26 L307.44,354.75 L307.48,354.22 L307.52,353.68 L307.57,353.13 L307.61,352.57 L307.65,352.01 L307.70,351.44 L307.74,350.87 L307.79,350.29 L307.83,349.72 L307.87,349.15 L307.92,348.59 L307.96,348.03 L308.01,347.48 L308.05,346.94 L308.09,346.41 L308.13,345.89 L308.18,345.39 L308.22,344.91 L308.26,344.44 L308.30,344.00 L308.35,343.51 L308.39,343.02 L308.44,342.53 L308.48,342.04 L308.53,341.55 L308.58,341.06 L308.62,340.57 L308.67,340.08 L308.72,339.59 L308.76,339.10 L308.81,338.61 L308.86,338.13 L308.90,337.65 L308.95,337.17 L309.00,336.69 L309.04,336.22 L309.09,335.75 L309.13,335.28 L309.18,334.82 L309.23,334.37 L309.27,333.91 L309.32,333.46 L309.36,333.02 L309.40,332.58 L309.45,332.15 L309.49,331.73 L309.53,331.31 L309.58,330.90 L309.62,330.49 L309.66,330.09 L309.70,329.70 L309.76,329.14 L309.82,328.59 L309.87,328.06 L309.93,327.54 L309.98,327.04 L310.04,326.55 L310.09,326.07 L310.14,325.60 L310.19,325.14 L310.24,324.69 L310.29,324.25 L310.34,323.81 L310.39,323.38 L310.44,322.95 L310.49,322.53 L310.54,322.11 L310.59,321.69 L310.65,321.27 L310.70,320.85 L310.75,320.42 L310.80,320.00 L310.86,319.51 L310.92,319.02 L310.98,318.53 L311.04,318.05 L311.11,317.57 L311.17,317.10 L311.23,316.64 L311.29,316.18 L311.35,315.72 L311.41,315.27 L311.47,314.82 L311.53,314.37 L311.59,313.93 L311.66,313.50 L311.72,313.07 L311.78,312.64 L311.84,312.22 L311.90,311.80 L311.98,311.29 L312.06,310.77 L312.14,310.24 L312.22,309.71 L312.31,309.18 L312.39,308.65 L312.48,308.14 L312.56,307.64 L312.64,307.16 L312.71,306.71 L312.79,306.29 L312.85,305.90 L312.91,305.56 L312.96,305.25 L313.00,305.00" fill="none" stroke="#8f98b8" stroke-width="0.7" stroke-linejoin="round" opacity="1.0"/>
<path d="M310.80,320.00 L310.84,319.66 L310.90,319.38 L310.96,318.96 L311.03,318.55 L311.10,317.92 L311.18,317.45 L311.26,317.14 L311.35,316.43 L311.44,315.89 L311.53,315.24 L311.62,314.78 L311.72,314.49 L311.81,313.96 L311.90,313.50 L312.04,312.80 L312.19,312.37 L312.34,311.99 L312.49,311.42 L312.65,311.03 L312.81,310.71 L312.97,310.25 L313.13,309.88 L313.30,309.36 L313.60,308.84 L313.90,308.66 L314.21,308.21 L314.54,308.01 L314.90,307.60 L315.17,307.30 L315.45,306.80 L315.75,306.63 L316.05,306.20 L316.36,305.88 L316.68,305.28 L317.00,305.08 L317.27,304.64 L317.54,304.47 L317.80,304.14 L318.07,303.57 L318.36,303.27 L318.67,302.85 L319.02,302.51 L319.40,302.04 L319.68,301.85 L319.98,301.37 L320.29,301.04 L320.61,300.78 L320.95,300.31 L321.29,300.05 L321.65,299.84 L322.01,299.47 L322.38,298.91 L322.75,298.51 L323.12,298.42 L323.50,298.14 L323.85,297.74 L324.19,297.32 L324.54,297.08 L324.89,297.01 L325.25,296.75 L325.61,296.21 L325.98,296.00 L326.36,295.82 L326.74,295.52 L327.14,295.41 L327.54,295.05 L327.97,294.93 L328.40,294.50 L328.76,294.41 L329.13,294.35 L329.51,294.08 L329.89,293.70 L330.28,293.52 L330.68,293.49 L331.08,293.23 L331.49,293.04 L331.90,292.89 L332.33,292.75 L332.75,292.68 L333.19,292.29 L333.63,292.22 L334.08,291.96 L334.54,291.88 L335.00,291.77 L335.41,291.45 L335.84,291.42 L336.30,291.34 L336.78,290.99 L337.27,291.07 L337.78,290.83 L338.29,290.71 L338.80,290.60 L339.31,290.52 L339.81,290.17 L340.30,290.18 L340.78,289.91 L341.23,289.90 L341.67,289.78 L342.07,289.58 L342.44,289.57 L342.77,289.53 L343.06,289.51 L343.30,289.40" fill="none" stroke="#e0474c" stroke-width="0.85" stroke-linejoin="round" opacity="1.0"/>
<path d="M313.00,305.00 L313.07,305.03 L313.15,304.32 L313.24,304.06 L313.34,303.76 L313.45,303.46 L313.56,302.98 L313.69,302.49 L313.82,301.47 L313.95,300.84 L314.09,300.83 L314.23,299.69 L314.37,299.42 L314.50,299.11 L314.64,298.48 L314.77,297.93 L314.90,297.90 L315.07,296.95 L315.23,296.64 L315.40,296.37 L315.57,295.44 L315.75,295.15 L315.92,294.83 L316.09,294.48 L316.27,293.84 L316.45,293.63 L316.63,292.99 L316.81,292.66 L317.00,292.49 L317.27,291.86 L317.54,291.99 L317.80,291.09 L318.07,290.71 L318.36,290.70 L318.67,290.31 L319.02,289.61 L319.40,289.63 L319.71,289.21 L320.03,288.77 L320.37,288.66 L320.73,288.12 L321.10,287.86 L321.49,288.02 L321.88,287.45 L322.28,287.52 L322.68,286.76 L323.09,286.49 L323.50,286.19 L323.87,286.46 L324.25,286.13 L324.63,285.54 L325.01,285.38 L325.40,285.74 L325.79,285.32 L326.20,285.40 L326.61,284.64 L327.04,284.84 L327.48,284.32 L327.93,284.55 L328.40,284.28 L328.79,284.12 L329.18,283.68 L329.58,284.02 L329.99,283.26 L330.41,283.06 L330.84,283.32 L331.27,282.73 L331.71,282.54 L332.16,282.65 L332.61,282.61 L333.07,282.61 L333.54,282.33 L334.02,281.71 L334.51,281.95 L335.00,281.94 L335.43,281.31 L335.89,281.62 L336.38,281.15 L336.89,281.04 L337.41,280.70 L337.95,281.10 L338.49,280.80 L339.03,280.95 L339.56,280.52 L340.09,280.18 L340.60,280.11 L341.09,280.03 L341.55,280.41 L341.98,279.79 L342.38,279.62 L342.73,279.73 L343.04,279.47 L343.30,279.70" fill="none" stroke="#3159a0" stroke-width="1.1" stroke-linejoin="round" opacity="1.0"/>
<text x="236.75" y="369.40" font-size="7.6" text-anchor="middle" textLength="15.90" lengthAdjust="spacingAndGlyphs" fill="#231f20" stroke="#231f20" stroke-width="0.15">0.02</text>
<text x="281.40" y="369.40" font-size="7.6" text-anchor="middle" textLength="15.80" lengthAdjust="spacingAndGlyphs" fill="#231f20" stroke="#231f20" stroke-width="0.15">0.05</text>
<text x="311.50" y="369.20" font-size="7.8" textLength="36.40" lengthAdjust="spacingAndGlyphs" fill="#231f20" stroke="#231f20" stroke-width="0.15">0.1 (U/mL)</text>
<line x1="213.80" y1="372.90" x2="339.80" y2="372.90" stroke="#3a3a3a" stroke-width="1.1"/>
<text x="276.80" y="382.40" font-size="7.8" text-anchor="middle" textLength="30.80" lengthAdjust="spacingAndGlyphs" fill="#231f20" stroke="#231f20" stroke-width="0.15">Thrombin</text>
<line x1="378.60" y1="261.50" x2="378.60" y2="354.60" stroke="#231f20" stroke-width="1.3"/>
<line x1="375.80" y1="352.30" x2="378.60" y2="352.30" stroke="#231f20" stroke-width="1.1"/>
<text x="372.00" y="355.05" font-size="7.6" text-anchor="end" textLength="4.03" lengthAdjust="spacingAndGlyphs" fill="#231f20" stroke="#231f20" stroke-width="0.15">0</text>
<line x1="375.80" y1="343.32" x2="378.60" y2="343.32" stroke="#231f20" stroke-width="1.1"/>
<text x="372.00" y="346.07" font-size="7.6" text-anchor="end" textLength="8.07" lengthAdjust="spacingAndGlyphs" fill="#231f20" stroke="#231f20" stroke-width="0.15">10</text>
<line x1="375.80" y1="334.34" x2="378.60" y2="334.34" stroke="#231f20" stroke-width="1.1"/>
<text x="372.00" y="337.09" font-size="7.6" text-anchor="end" textLength="8.07" lengthAdjust="spacingAndGlyphs" fill="#231f20" stroke="#231f20" stroke-width="0.15">20</text>
<line x1="375.80" y1="325.36" x2="378.60" y2="325.36" stroke="#231f20" stroke-width="1.1"/>
<text x="372.00" y="328.11" font-size="7.6" text-anchor="end" textLength="8.07" lengthAdjust="spacingAndGlyphs" fill="#231f20" stroke="#231f20" stroke-width="0.15">30</text>
<line x1="375.80" y1="316.38" x2="378.60" y2="316.38" stroke="#231f20" stroke-width="1.1"/>
<text x="372.00" y="319.13" font-size="7.6" text-anchor="end" textLength="8.07" lengthAdjust="spacingAndGlyphs" fill="#231f20" stroke="#231f20" stroke-width="0.15">40</text>
<line x1="375.80" y1="307.40" x2="378.60" y2="307.40" stroke="#231f20" stroke-width="1.1"/>
<text x="372.00" y="310.15" font-size="7.6" text-anchor="end" textLength="8.07" lengthAdjust="spacingAndGlyphs" fill="#231f20" stroke="#231f20" stroke-width="0.15">50</text>
<line x1="375.80" y1="298.42" x2="378.60" y2="298.42" stroke="#231f20" stroke-width="1.1"/>
<text x="372.00" y="301.17" font-size="7.6" text-anchor="end" textLength="8.07" lengthAdjust="spacingAndGlyphs" fill="#231f20" stroke="#231f20" stroke-width="0.15">60</text>
<line x1="375.80" y1="289.44" x2="378.60" y2="289.44" stroke="#231f20" stroke-width="1.1"/>
<text x="372.00" y="292.19" font-size="7.6" text-anchor="end" textLength="8.07" lengthAdjust="spacingAndGlyphs" fill="#231f20" stroke="#231f20" stroke-width="0.15">70</text>
<line x1="375.80" y1="280.46" x2="378.60" y2="280.46" stroke="#231f20" stroke-width="1.1"/>
<text x="372.00" y="283.21" font-size="7.6" text-anchor="end" textLength="8.07" lengthAdjust="spacingAndGlyphs" fill="#231f20" stroke="#231f20" stroke-width="0.15">80</text>
<line x1="375.80" y1="271.48" x2="378.60" y2="271.48" stroke="#231f20" stroke-width="1.1"/>
<text x="372.00" y="274.23" font-size="7.6" text-anchor="end" textLength="8.07" lengthAdjust="spacingAndGlyphs" fill="#231f20" stroke="#231f20" stroke-width="0.15">90</text>
<line x1="375.80" y1="262.50" x2="378.60" y2="262.50" stroke="#231f20" stroke-width="1.1"/>
<text x="372.00" y="265.25" font-size="7.6" text-anchor="end" textLength="12.10" lengthAdjust="spacingAndGlyphs" fill="#231f20" stroke="#231f20" stroke-width="0.15">100</text>
<line x1="388.00" y1="262.70" x2="394.40" y2="262.70" stroke="#231f20" stroke-width="1.0"/>
<text x="382.30" y="270.60" font-size="7.6" textLength="17.90" lengthAdjust="spacingAndGlyphs" fill="#231f20" stroke="#231f20" stroke-width="0.15">1 min</text>
<path d="M381.1,350.9 L385.8,351.0 M383.2,350.4 L383.2,355.0" stroke="#666" stroke-width="0.8" fill="none"/>
<path d="M385.80,351.00 L385.97,351.21 L386.19,351.63 L386.45,352.04 L386.74,352.29 L387.06,352.73 L387.38,353.30 L387.70,353.77 L388.00,353.98 L388.41,354.41 L388.83,354.94 L389.26,354.97 L389.69,355.25 L390.11,355.39 L390.50,355.21 L390.68,355.16 L390.85,354.78 L391.02,354.52 L391.18,354.07 L391.33,353.82 L391.49,353.41 L391.64,352.72 L391.80,352.14 L391.96,351.66 L392.13,351.14 L392.31,350.76 L392.50,349.91 L392.61,349.70 L392.72,349.34 L392.83,349.07 L392.94,348.32 L393.05,348.15 L393.17,347.54 L393.28,346.99 L393.40,346.74 L393.52,346.35 L393.64,345.77 L393.76,345.08 L393.89,344.96 L394.01,344.25 L394.14,343.87 L394.26,343.44 L394.39,342.79 L394.52,342.40 L394.66,341.92 L394.79,341.40 L394.93,340.98 L395.06,340.85 L395.20,340.36 L395.40,340.03 L395.61,339.22 L395.81,338.84 L396.02,338.33 L396.23,338.19 L396.45,337.70 L396.66,337.33 L396.89,336.78 L397.11,336.23 L397.34,335.98 L397.58,335.55 L397.83,335.11 L398.08,334.99 L398.33,334.54 L398.60,334.14 L398.91,333.94 L399.23,333.77 L399.55,333.45 L399.88,332.96 L400.22,332.52 L400.57,332.51 L400.92,331.98 L401.29,331.90 L401.66,331.47 L402.05,331.59 L402.45,331.18 L402.87,330.91 L403.30,330.61 L403.69,330.52 L404.11,330.50 L404.54,330.09 L404.99,329.82 L405.45,329.76 L405.92,329.75 L406.39,329.37 L406.87,329.30 L407.35,329.26 L407.82,328.87 L408.28,328.93 L408.74,328.68 L409.18,328.39 L409.60,328.24 L410.00,328.48 L410.52,328.15 L411.00,328.02 L411.46,328.10 L411.91,327.88 L412.34,327.77 L412.77,327.61 L413.19,327.73 L413.62,327.48 L414.07,327.51 L414.52,327.56 L415.00,327.44 L415.47,327.20 L415.99,327.17 L416.53,327.31 L417.09,327.28 L417.65,326.98 L418.21,327.29 L418.75,326.91 L419.27,326.88 L419.74,326.82 L420.16,326.93 L420.52,326.97 L420.80,326.90" fill="none" stroke="#6f8cc4" stroke-width="0.85" stroke-linejoin="round" opacity="1.0"/>
<path d="M385.80,351.00 L385.93,351.36 L386.10,351.49 L386.30,352.07 L386.53,352.35 L386.77,352.99 L387.03,353.41 L387.29,353.95 L387.55,354.35 L387.81,355.01 L388.06,355.23 L388.29,355.74 L388.50,355.85 L389.05,356.21 L389.54,356.10 L390.02,355.73 L390.50,355.51 L390.87,355.33 L391.20,354.92 L391.56,354.67 L391.97,354.45 L392.50,353.69 L392.74,353.51 L393.01,353.19 L393.30,353.01 L393.60,352.37 L393.92,352.13 L394.25,351.74 L394.58,351.31 L394.91,350.68 L395.25,350.56 L395.58,349.99 L395.90,349.79 L396.21,349.42 L396.50,349.08 L396.95,348.83 L397.39,348.46 L397.81,348.08 L398.23,347.98 L398.64,347.72 L399.05,347.64 L399.47,347.51 L399.90,347.49 L400.34,347.28 L400.78,347.42 L401.23,347.36 L401.67,347.72 L402.13,347.86 L402.58,348.04 L403.04,347.94 L403.50,348.21 L403.94,348.31 L404.34,348.32 L404.72,348.47 L405.12,348.82 L405.55,348.91 L406.04,348.84 L406.62,349.11 L407.30,349.15 L407.64,349.10 L408.01,349.20 L408.40,349.11 L408.81,349.14 L409.24,349.09 L409.68,349.30 L410.14,349.29 L410.61,349.36 L411.08,349.30 L411.56,349.29 L412.05,349.27 L412.54,349.41 L413.03,349.31 L413.52,349.39 L414.00,349.45 L414.48,349.36 L414.94,349.45 L415.40,349.27 L415.86,349.34 L416.33,349.52 L416.80,349.32 L417.29,349.30 L417.78,349.29 L418.27,349.52 L418.76,349.33 L419.25,349.44 L419.74,349.44 L420.22,349.55 L420.68,349.46 L421.14,349.47 L421.58,349.33 L422.01,349.56 L422.42,349.56 L422.80,349.52 L423.16,349.59 L423.50,349.53 L424.27,349.59 L424.94,349.66 L425.51,349.62 L425.99,349.48 L426.39,349.77 L426.72,349.83 L427.00,349.70" fill="none" stroke="#e77a7a" stroke-width="0.8" stroke-linejoin="round" opacity="1.0"/>
<path d="M424.1,349.6 L427.0,349.6" stroke="#666" stroke-width="0.8" fill="none"/>
<path d="M427.00,349.70 L427.17,349.95 L427.40,350.29 L427.68,350.70 L427.98,351.14 L428.29,351.58 L428.60,352.00 L428.91,352.45 L429.24,352.97 L429.58,353.49 L429.93,353.95 L430.27,354.28 L430.60,354.40 L430.92,354.30 L431.24,354.03 L431.55,353.63 L431.86,353.13 L432.18,352.58 L432.50,352.00 L432.70,351.64 L432.90,351.25 L433.10,350.84 L433.30,350.40 L433.51,349.95 L433.71,349.48 L433.91,349.00 L434.11,348.50 L434.31,348.00 L434.50,347.50 L434.65,347.11 L434.79,346.71 L434.93,346.30 L435.07,345.88 L435.21,345.46 L435.35,345.03 L435.49,344.60 L435.62,344.16 L435.76,343.72 L435.90,343.27 L436.03,342.82 L436.17,342.36 L436.30,341.90 L436.43,341.45 L436.56,340.97 L436.70,340.47 L436.84,339.94 L436.98,339.41 L437.12,338.88 L437.26,338.35 L437.40,337.84 L437.52,337.35 L437.64,336.89 L437.75,336.46 L437.85,336.09 L437.93,335.76 L438.00,335.50" fill="none" stroke="#8f98b8" stroke-width="0.7" stroke-linejoin="round" opacity="1.0"/>
<path d="M437.20,338.50 L437.27,338.14 L437.35,337.75 L437.44,337.42 L437.54,336.88 L437.66,336.46 L437.78,335.85 L437.91,335.34 L438.04,334.74 L438.18,334.34 L438.32,333.80 L438.46,333.47 L438.60,332.97 L438.81,332.36 L439.04,332.10 L439.27,331.62 L439.51,331.12 L439.76,330.57 L440.01,330.23 L440.25,329.86 L440.50,329.47 L440.78,328.94 L441.06,328.67 L441.35,328.39 L441.64,328.01 L441.93,327.72 L442.21,327.35 L442.50,327.08 L442.89,326.75 L443.28,326.47 L443.67,326.16 L444.07,325.78 L444.50,325.55 L444.86,325.26 L445.23,325.03 L445.60,324.68 L446.00,324.29 L446.43,323.90 L446.90,323.65 L447.29,323.40 L447.70,323.31 L448.14,323.11 L448.59,322.72 L449.06,322.61 L449.54,322.49 L450.02,322.15 L450.50,321.88 L450.92,321.88 L451.34,321.66 L451.76,321.46 L452.19,321.37 L452.63,321.16 L453.08,321.08 L453.56,321.03 L454.06,320.81 L454.60,320.65 L454.99,320.72 L455.40,320.75 L455.82,320.62 L456.26,320.38 L456.71,320.46 L457.16,320.11 L457.63,320.04 L458.10,319.91 L458.57,319.83 L459.05,319.90 L459.54,319.86 L460.02,319.68 L460.50,319.69 L460.97,319.50 L461.46,319.55 L461.99,319.37 L462.53,319.26 L463.08,319.06 L463.63,319.04 L464.17,318.96 L464.70,318.99 L465.20,318.73 L465.67,318.67 L466.11,318.76 L466.50,318.47 L466.83,318.56 L467.10,318.50" fill="none" stroke="#e0474c" stroke-width="0.85" stroke-linejoin="round" opacity="1.0"/>
<path d="M438.00,335.50 L438.06,335.12 L438.14,334.96 L438.23,334.54 L438.33,333.90 L438.44,333.68 L438.56,333.04 L438.69,332.47 L438.82,332.15 L438.95,331.58 L439.09,330.86 L439.23,330.50 L439.36,329.79 L439.50,329.51 L439.66,328.84 L439.82,328.57 L439.98,328.20 L440.15,327.61 L440.32,326.90 L440.50,326.63 L440.68,326.17 L440.87,325.72 L441.07,325.18 L441.28,324.81 L441.50,324.48 L441.76,323.90 L442.05,323.72 L442.35,323.14 L442.66,322.76 L442.97,322.30 L443.30,322.02 L443.61,321.92 L443.92,321.33 L444.22,320.93 L444.50,320.74 L444.92,320.54 L445.30,319.82 L445.66,319.59 L446.03,319.24 L446.44,319.15 L446.90,318.78 L447.29,318.43 L447.70,318.55 L448.14,318.15 L448.59,318.12 L449.06,317.86 L449.54,317.86 L450.02,317.38 L450.50,317.29 L450.92,317.18 L451.34,317.04 L451.76,317.13 L452.19,316.88 L452.63,316.70 L453.08,316.64 L453.56,316.66 L454.06,316.44 L454.60,316.28 L454.99,316.29 L455.40,316.20 L455.82,316.04 L456.26,315.98 L456.71,315.79 L457.16,315.84 L457.63,315.95 L458.10,315.65 L458.57,315.61 L459.05,315.64 L459.54,315.57 L460.02,315.34 L460.50,315.38 L460.97,315.43 L461.46,315.09 L461.99,315.05 L462.53,315.24 L463.08,315.24 L463.63,314.84 L464.17,314.78 L464.70,314.93 L465.20,314.74 L465.67,314.83 L466.11,314.53 L466.50,314.65 L466.83,314.50 L467.10,314.60" fill="none" stroke="#4a6fb2" stroke-width="0.95" stroke-linejoin="round" opacity="1.0"/>
<path d="M468.1,351.0 L471.5,351.0 M469.6,351.0 L469.6,355.0" stroke="#666" stroke-width="0.8" fill="none"/>
<path d="M471.50,351.00 L471.68,351.23 L471.92,351.55 L472.20,351.93 L472.52,352.34 L472.85,352.76 L473.18,353.15 L473.50,353.50 L473.88,353.97 L474.29,354.56 L474.71,355.13 L475.12,355.55 L475.49,355.69 L475.80,355.40 L475.89,355.19 L475.97,354.92 L476.04,354.60 L476.11,354.24 L476.17,353.83 L476.23,353.38 L476.29,352.90 L476.34,352.40 L476.39,351.88 L476.43,351.33 L476.48,350.78 L476.52,350.22 L476.57,349.66 L476.61,349.10 L476.65,348.55 L476.70,348.01 L476.75,347.49 L476.80,347.00 L476.85,346.54 L476.90,346.08 L476.95,345.61 L477.00,345.15 L477.04,344.67 L477.09,344.20 L477.14,343.72 L477.19,343.25 L477.23,342.77 L477.28,342.29 L477.33,341.82 L477.37,341.34 L477.42,340.87 L477.47,340.40 L477.51,339.93 L477.56,339.47 L477.61,339.01 L477.65,338.55 L477.70,338.10 L477.75,337.62 L477.80,337.12 L477.86,336.61 L477.92,336.09 L477.98,335.57 L478.03,335.04 L478.09,334.52 L478.15,334.00 L478.21,333.49 L478.26,333.00 L478.32,332.52 L478.37,332.07 L478.42,331.64 L478.46,331.24 L478.50,330.87 L478.54,330.54 L478.57,330.25 L478.60,330.00" fill="none" stroke="#8f98b8" stroke-width="0.7" stroke-linejoin="round" opacity="1.0"/>
<path d="M478.20,333.00 L478.24,332.68 L478.30,332.46 L478.36,332.01 L478.42,331.68 L478.50,331.20 L478.57,330.63 L478.66,330.17 L478.74,329.43 L478.83,328.97 L478.92,328.38 L479.02,327.95 L479.11,327.29 L479.21,327.05 L479.30,326.46 L479.42,326.07 L479.54,325.61 L479.67,325.11 L479.79,324.45 L479.93,324.12 L480.06,323.70 L480.20,323.00 L480.34,322.75 L480.49,322.34 L480.64,321.86 L480.80,321.43 L481.03,320.92 L481.28,320.55 L481.54,320.30 L481.80,319.76 L482.06,319.37 L482.32,319.15 L482.57,318.78 L482.80,318.53 L483.12,318.06 L483.41,317.67 L483.69,317.29 L483.98,317.22 L484.30,316.85 L484.64,316.37 L484.98,316.08 L485.35,315.74 L485.78,315.36 L486.30,315.12 L486.63,314.89 L487.00,314.55 L487.40,314.36 L487.81,314.24 L488.24,313.91 L488.68,313.96 L489.12,313.51 L489.57,313.47 L490.00,313.23 L490.41,313.15 L490.79,312.86 L491.16,312.78 L491.54,312.87 L491.93,312.69 L492.36,312.39 L492.84,312.34 L493.38,312.09 L494.00,311.99 L494.37,311.94 L494.76,312.11 L495.17,311.84 L495.60,311.75 L496.05,311.63 L496.51,311.58 L496.99,311.77 L497.48,311.63 L497.97,311.62 L498.48,311.53 L498.99,311.45 L499.50,311.22 L500.01,311.14 L500.51,311.11 L501.02,310.98 L501.51,310.96 L502.00,311.07 L502.47,310.94 L502.96,310.75 L503.47,310.78 L504.00,310.89 L504.54,310.84 L505.08,310.75 L505.63,310.70 L506.17,310.70 L506.70,310.55 L507.22,310.45 L507.72,310.46 L508.21,310.33 L508.66,310.22 L509.09,310.25 L509.48,310.27 L509.83,310.14 L510.14,310.10 L510.40,310.20" fill="none" stroke="#e0474c" stroke-width="0.85" stroke-linejoin="round" opacity="1.0"/>
<path d="M478.60,330.00 L478.64,329.54 L478.69,329.32 L478.74,329.43 L478.79,328.64 L478.85,328.47 L478.92,327.91 L479.00,327.29 L479.09,326.55 L479.19,326.08 L479.31,325.49 L479.45,325.22 L479.60,324.88 L479.73,324.44 L479.88,323.64 L480.04,323.10 L480.22,322.55 L480.40,322.56 L480.60,321.82 L480.80,321.19 L481.00,320.97 L481.21,320.46 L481.41,319.99 L481.61,319.93 L481.81,319.44 L482.00,318.80 L482.18,318.77 L482.35,318.00 L482.50,318.24 L482.78,317.01 L483.02,316.87 L483.25,316.50 L483.46,316.12 L483.66,315.55 L483.86,315.50 L484.07,314.96 L484.30,314.65 L484.60,313.70 L484.89,313.36 L485.18,313.19 L485.50,312.88 L485.87,312.15 L486.30,312.29 L486.63,311.73 L487.00,311.59 L487.40,311.38 L487.81,311.40 L488.24,310.73 L488.68,310.71 L489.12,310.52 L489.57,310.34 L490.00,309.85 L490.41,309.62 L490.79,309.58 L491.16,309.50 L491.54,309.35 L491.93,308.77 L492.36,308.84 L492.84,308.75 L493.38,308.26 L494.00,307.98 L494.34,308.54 L494.71,307.70 L495.10,307.97 L495.50,307.69 L495.92,307.36 L496.36,307.43 L496.80,307.23 L497.26,307.30 L497.72,307.58 L498.20,306.80 L498.68,306.89 L499.16,307.05 L499.64,306.87 L500.12,306.27 L500.60,306.32 L501.07,306.25 L501.54,306.63 L502.00,306.15 L502.44,305.90 L502.91,305.97 L503.39,305.87 L503.89,305.49 L504.40,305.79 L504.91,305.72 L505.43,305.42 L505.94,305.36 L506.45,305.44 L506.95,305.48 L507.44,305.11 L507.91,304.55 L508.35,304.83 L508.78,304.87 L509.18,304.52 L509.54,304.73 L509.87,304.41 L510.16,304.54 L510.40,304.40" fill="none" stroke="#3159a0" stroke-width="1.1" stroke-linejoin="round" opacity="1.0"/>
<text x="402.40" y="369.40" font-size="7.6" text-anchor="middle" textLength="10.10" lengthAdjust="spacingAndGlyphs" fill="#231f20" stroke="#231f20" stroke-width="0.15">0.5</text>
<text x="445.60" y="369.40" font-size="7.6" text-anchor="middle" textLength="4.30" lengthAdjust="spacingAndGlyphs" fill="#231f20" stroke="#231f20" stroke-width="0.15">2</text>
<text x="479.50" y="369.40" font-size="7.6" textLength="33.20" lengthAdjust="spacingAndGlyphs" fill="#231f20" stroke="#231f20" stroke-width="0.15">4 (µg/mL)</text>
<line x1="382.10" y1="372.90" x2="508.30" y2="372.90" stroke="#3a3a3a" stroke-width="1.1"/>
<text x="445.20" y="382.40" font-size="7.8" text-anchor="middle" textLength="29.40" lengthAdjust="spacingAndGlyphs" fill="#231f20" stroke="#231f20" stroke-width="0.15">Collagen</text>
<rect x="57.40" y="394.60" width="5.40" height="3.80" fill="#1d4a8a"/>
<text x="66.20" y="398.90" font-size="7.8" textLength="46.60" lengthAdjust="spacingAndGlyphs" fill="#231f20" stroke="#231f20" stroke-width="0.15"><tspan font-style="italic">Actn1</tspan><tspan font-size="4.29" dy="-2.96">fl/fl</tspan><tspan dy="2.96"> (n = 4)</tspan></text>
<rect x="120.50" y="394.60" width="5.30" height="3.80" fill="#c8203c"/>
<text x="128.80" y="398.90" font-size="7.8" textLength="67.40" lengthAdjust="spacingAndGlyphs" fill="#231f20" stroke="#231f20" stroke-width="0.15">PF4-<tspan font-style="italic">Actn1</tspan><tspan font-size="4.29" dy="-2.96">−/−</tspan><tspan dy="2.96"> (n = 4)</tspan></text>
<line x1="49.00" y1="407.00" x2="49.00" y2="494.20" stroke="#231f20" stroke-width="1.3"/>
<line x1="46.40" y1="493.60" x2="49.00" y2="493.60" stroke="#231f20" stroke-width="1.1"/>
<text x="43.00" y="496.40" font-size="7.8" text-anchor="end" textLength="4.70" lengthAdjust="spacingAndGlyphs" fill="#231f20" stroke="#231f20" stroke-width="0.15">0</text>
<line x1="46.40" y1="472.74" x2="49.00" y2="472.74" stroke="#231f20" stroke-width="1.1"/>
<text x="43.00" y="475.54" font-size="7.8" text-anchor="end" textLength="9.40" lengthAdjust="spacingAndGlyphs" fill="#231f20" stroke="#231f20" stroke-width="0.15">20</text>
<line x1="46.40" y1="451.88" x2="49.00" y2="451.88" stroke="#231f20" stroke-width="1.1"/>
<text x="43.00" y="454.68" font-size="7.8" text-anchor="end" textLength="9.40" lengthAdjust="spacingAndGlyphs" fill="#231f20" stroke="#231f20" stroke-width="0.15">40</text>
<line x1="46.40" y1="431.02" x2="49.00" y2="431.02" stroke="#231f20" stroke-width="1.1"/>
<text x="43.00" y="433.82" font-size="7.8" text-anchor="end" textLength="9.40" lengthAdjust="spacingAndGlyphs" fill="#231f20" stroke="#231f20" stroke-width="0.15">60</text>
<line x1="46.40" y1="410.16" x2="49.00" y2="410.16" stroke="#231f20" stroke-width="1.1"/>
<text x="43.00" y="412.96" font-size="7.8" text-anchor="end" textLength="9.40" lengthAdjust="spacingAndGlyphs" fill="#231f20" stroke="#231f20" stroke-width="0.15">80</text>
<line x1="84.70" y1="407.00" x2="84.70" y2="493.60" stroke="#c4c4c4" stroke-width="0.8"/>
<line x1="119.30" y1="407.00" x2="119.30" y2="493.60" stroke="#c4c4c4" stroke-width="0.8"/>
<rect x="55.30" y="450.84" width="10.70" height="42.76" fill="#8898c6"/>
<line x1="60.65" y1="446.14" x2="60.65" y2="455.53" stroke="#2d5597" stroke-width="0.9"/>
<line x1="58.45" y1="446.14" x2="62.85" y2="446.14" stroke="#2d5597" stroke-width="0.9"/>
<line x1="58.45" y1="455.53" x2="62.85" y2="455.53" stroke="#2d5597" stroke-width="0.7"/>
<g fill="#2d5597"><circle cx="58.6" cy="453.2" r="0.65"/><circle cx="61.5" cy="450.6" r="0.65"/><circle cx="58.9" cy="454.4" r="0.65"/><circle cx="62.5" cy="451.0" r="0.65"/></g>
<rect x="68.50" y="465.44" width="10.70" height="28.16" fill="#ec8a78"/>
<line x1="73.85" y1="462.31" x2="73.85" y2="468.57" stroke="#cf3a35" stroke-width="0.9"/>
<line x1="71.65" y1="462.31" x2="76.05" y2="462.31" stroke="#cf3a35" stroke-width="0.9"/>
<line x1="71.65" y1="468.57" x2="76.05" y2="468.57" stroke="#cf3a35" stroke-width="0.7"/>
<g fill="#cf3a35"><circle cx="73.9" cy="463.3" r="0.65"/><circle cx="70.9" cy="464.4" r="0.65"/><circle cx="74.4" cy="461.9" r="0.65"/><circle cx="75.6" cy="463.3" r="0.65"/></g>
<rect x="90.20" y="440.41" width="10.70" height="53.19" fill="#8898c6"/>
<line x1="95.55" y1="435.71" x2="95.55" y2="445.10" stroke="#2d5597" stroke-width="0.9"/>
<line x1="93.35" y1="435.71" x2="97.75" y2="435.71" stroke="#2d5597" stroke-width="0.9"/>
<line x1="93.35" y1="445.10" x2="97.75" y2="445.10" stroke="#2d5597" stroke-width="0.7"/>
<g fill="#2d5597"><circle cx="93.9" cy="434.8" r="0.65"/><circle cx="98.5" cy="443.3" r="0.65"/><circle cx="97.8" cy="441.8" r="0.65"/><circle cx="92.8" cy="438.3" r="0.65"/></g>
<rect x="103.60" y="451.88" width="10.70" height="41.72" fill="#ec8a78"/>
<line x1="108.95" y1="448.23" x2="108.95" y2="455.53" stroke="#cf3a35" stroke-width="0.9"/>
<line x1="106.75" y1="448.23" x2="111.15" y2="448.23" stroke="#cf3a35" stroke-width="0.9"/>
<line x1="106.75" y1="455.53" x2="111.15" y2="455.53" stroke="#cf3a35" stroke-width="0.7"/>
<g fill="#cf3a35"><circle cx="108.9" cy="448.2" r="0.65"/><circle cx="111.7" cy="450.6" r="0.65"/><circle cx="106.9" cy="454.9" r="0.65"/><circle cx="106.7" cy="455.9" r="0.65"/></g>
<rect x="125.30" y="430.50" width="10.70" height="63.10" fill="#8898c6"/>
<line x1="130.65" y1="426.85" x2="130.65" y2="434.15" stroke="#2d5597" stroke-width="0.9"/>
<line x1="128.45" y1="426.85" x2="132.85" y2="426.85" stroke="#2d5597" stroke-width="0.9"/>
<line x1="128.45" y1="434.15" x2="132.85" y2="434.15" stroke="#2d5597" stroke-width="0.7"/>
<g fill="#2d5597"><circle cx="130.4" cy="431.0" r="0.65"/><circle cx="129.7" cy="430.4" r="0.65"/><circle cx="128.8" cy="426.1" r="0.65"/><circle cx="132.8" cy="428.0" r="0.65"/></g>
<rect x="138.60" y="439.36" width="10.70" height="54.24" fill="#ec8a78"/>
<line x1="143.95" y1="435.71" x2="143.95" y2="443.01" stroke="#cf3a35" stroke-width="0.9"/>
<line x1="141.75" y1="435.71" x2="146.15" y2="435.71" stroke="#cf3a35" stroke-width="0.9"/>
<line x1="141.75" y1="443.01" x2="146.15" y2="443.01" stroke="#cf3a35" stroke-width="0.7"/>
<g fill="#cf3a35"><circle cx="145.6" cy="436.6" r="0.65"/><circle cx="146.8" cy="443.1" r="0.65"/><circle cx="145.5" cy="441.9" r="0.65"/><circle cx="144.4" cy="441.5" r="0.65"/></g>
<line x1="47.40" y1="493.60" x2="155.50" y2="493.60" stroke="#231f20" stroke-width="1.5"/>
<text x="73.85" y="461.50" font-size="7.5" text-anchor="middle" fill="#231f20" stroke="#231f20" stroke-width="0.15">**</text>
<text x="108.95" y="446.60" font-size="7.5" text-anchor="middle" fill="#231f20" stroke="#231f20" stroke-width="0.15">*</text>
<text x="143.95" y="434.00" font-size="7.5" text-anchor="middle" fill="#231f20" stroke="#231f20" stroke-width="0.15">*</text>
<text x="27.80" y="450.40" font-size="9.3" text-anchor="middle" textLength="42.60" lengthAdjust="spacingAndGlyphs" fill="#231f20" stroke="#231f20" stroke-width="0.15" font-weight="bold" transform="rotate(-90 27.80 450.40)">% Aggregation</text>
<line x1="218.50" y1="407.00" x2="218.50" y2="494.20" stroke="#231f20" stroke-width="1.3"/>
<line x1="215.90" y1="493.60" x2="218.50" y2="493.60" stroke="#231f20" stroke-width="1.1"/>
<text x="213.00" y="496.40" font-size="7.8" text-anchor="end" textLength="4.45" lengthAdjust="spacingAndGlyphs" fill="#231f20" stroke="#231f20" stroke-width="0.15">0</text>
<line x1="215.90" y1="476.92" x2="218.50" y2="476.92" stroke="#231f20" stroke-width="1.1"/>
<text x="213.00" y="479.72" font-size="7.8" text-anchor="end" textLength="8.90" lengthAdjust="spacingAndGlyphs" fill="#231f20" stroke="#231f20" stroke-width="0.15">20</text>
<line x1="215.90" y1="460.24" x2="218.50" y2="460.24" stroke="#231f20" stroke-width="1.1"/>
<text x="213.00" y="463.04" font-size="7.8" text-anchor="end" textLength="8.90" lengthAdjust="spacingAndGlyphs" fill="#231f20" stroke="#231f20" stroke-width="0.15">40</text>
<line x1="215.90" y1="443.56" x2="218.50" y2="443.56" stroke="#231f20" stroke-width="1.1"/>
<text x="213.00" y="446.36" font-size="7.8" text-anchor="end" textLength="8.90" lengthAdjust="spacingAndGlyphs" fill="#231f20" stroke="#231f20" stroke-width="0.15">60</text>
<line x1="215.90" y1="426.88" x2="218.50" y2="426.88" stroke="#231f20" stroke-width="1.1"/>
<text x="213.00" y="429.68" font-size="7.8" text-anchor="end" textLength="8.90" lengthAdjust="spacingAndGlyphs" fill="#231f20" stroke="#231f20" stroke-width="0.15">80</text>
<line x1="215.90" y1="410.20" x2="218.50" y2="410.20" stroke="#231f20" stroke-width="1.1"/>
<text x="213.00" y="413.00" font-size="7.8" text-anchor="end" textLength="13.35" lengthAdjust="spacingAndGlyphs" fill="#231f20" stroke="#231f20" stroke-width="0.15">100</text>
<line x1="254.70" y1="407.00" x2="254.70" y2="493.60" stroke="#c4c4c4" stroke-width="0.8"/>
<line x1="289.30" y1="407.00" x2="289.30" y2="493.60" stroke="#c4c4c4" stroke-width="0.8"/>
<rect x="225.30" y="441.89" width="10.70" height="51.71" fill="#8898c6"/>
<line x1="230.65" y1="437.72" x2="230.65" y2="446.06" stroke="#2d5597" stroke-width="0.9"/>
<line x1="228.45" y1="437.72" x2="232.85" y2="437.72" stroke="#2d5597" stroke-width="0.9"/>
<line x1="228.45" y1="446.06" x2="232.85" y2="446.06" stroke="#2d5597" stroke-width="0.7"/>
<g fill="#2d5597"><circle cx="228.4" cy="441.6" r="0.65"/><circle cx="232.6" cy="438.7" r="0.65"/><circle cx="233.2" cy="446.1" r="0.65"/><circle cx="230.1" cy="440.4" r="0.65"/></g>
<rect x="238.50" y="470.25" width="10.70" height="23.35" fill="#ec8a78"/>
<line x1="243.85" y1="466.50" x2="243.85" y2="474.00" stroke="#cf3a35" stroke-width="0.9"/>
<line x1="241.65" y1="466.50" x2="246.05" y2="466.50" stroke="#cf3a35" stroke-width="0.9"/>
<line x1="241.65" y1="474.00" x2="246.05" y2="474.00" stroke="#cf3a35" stroke-width="0.7"/>
<g fill="#cf3a35"><circle cx="243.6" cy="469.1" r="0.65"/><circle cx="246.8" cy="469.1" r="0.65"/><circle cx="241.0" cy="466.3" r="0.65"/><circle cx="245.2" cy="475.1" r="0.65"/></g>
<rect x="260.20" y="436.05" width="10.70" height="57.55" fill="#8898c6"/>
<line x1="265.55" y1="432.30" x2="265.55" y2="439.81" stroke="#2d5597" stroke-width="0.9"/>
<line x1="263.35" y1="432.30" x2="267.75" y2="432.30" stroke="#2d5597" stroke-width="0.9"/>
<line x1="263.35" y1="439.81" x2="267.75" y2="439.81" stroke="#2d5597" stroke-width="0.7"/>
<g fill="#2d5597"><circle cx="265.5" cy="436.0" r="0.65"/><circle cx="265.9" cy="438.5" r="0.65"/><circle cx="263.9" cy="437.1" r="0.65"/><circle cx="265.9" cy="437.3" r="0.65"/></g>
<rect x="273.60" y="454.40" width="10.70" height="39.20" fill="#ec8a78"/>
<line x1="278.95" y1="452.32" x2="278.95" y2="456.49" stroke="#cf3a35" stroke-width="0.9"/>
<line x1="276.75" y1="452.32" x2="281.15" y2="452.32" stroke="#cf3a35" stroke-width="0.9"/>
<line x1="276.75" y1="456.49" x2="281.15" y2="456.49" stroke="#cf3a35" stroke-width="0.7"/>
<g fill="#cf3a35"><circle cx="277.0" cy="452.6" r="0.65"/><circle cx="278.0" cy="456.7" r="0.65"/><circle cx="278.0" cy="454.9" r="0.65"/><circle cx="277.8" cy="452.3" r="0.65"/></g>
<rect x="295.30" y="431.88" width="10.70" height="61.72" fill="#8898c6"/>
<line x1="300.65" y1="428.97" x2="300.65" y2="434.80" stroke="#2d5597" stroke-width="0.9"/>
<line x1="298.45" y1="428.97" x2="302.85" y2="428.97" stroke="#2d5597" stroke-width="0.9"/>
<line x1="298.45" y1="434.80" x2="302.85" y2="434.80" stroke="#2d5597" stroke-width="0.7"/>
<g fill="#2d5597"><circle cx="298.0" cy="434.3" r="0.65"/><circle cx="302.3" cy="430.9" r="0.65"/><circle cx="301.7" cy="433.2" r="0.65"/><circle cx="303.0" cy="435.4" r="0.65"/></g>
<rect x="308.60" y="440.22" width="10.70" height="53.38" fill="#ec8a78"/>
<line x1="313.95" y1="436.89" x2="313.95" y2="443.56" stroke="#cf3a35" stroke-width="0.9"/>
<line x1="311.75" y1="436.89" x2="316.15" y2="436.89" stroke="#cf3a35" stroke-width="0.9"/>
<line x1="311.75" y1="443.56" x2="316.15" y2="443.56" stroke="#cf3a35" stroke-width="0.7"/>
<g fill="#cf3a35"><circle cx="313.4" cy="444.5" r="0.65"/><circle cx="316.7" cy="441.0" r="0.65"/><circle cx="316.2" cy="440.1" r="0.65"/><circle cx="313.2" cy="438.0" r="0.65"/></g>
<line x1="216.90" y1="493.60" x2="325.50" y2="493.60" stroke="#231f20" stroke-width="1.5"/>
<text x="243.85" y="464.60" font-size="7.5" text-anchor="middle" fill="#231f20" stroke="#231f20" stroke-width="0.15">***</text>
<text x="278.95" y="452.80" font-size="7.5" text-anchor="middle" fill="#231f20" stroke="#231f20" stroke-width="0.15">**</text>
<text x="313.95" y="437.40" font-size="7.5" text-anchor="middle" fill="#231f20" stroke="#231f20" stroke-width="0.15">*</text>
<text x="194.20" y="450.40" font-size="9.3" text-anchor="middle" textLength="42.60" lengthAdjust="spacingAndGlyphs" fill="#231f20" stroke="#231f20" stroke-width="0.15" font-weight="bold" transform="rotate(-90 194.20 450.40)">% Aggregation</text>
<line x1="387.40" y1="407.00" x2="387.40" y2="494.20" stroke="#231f20" stroke-width="1.3"/>
<line x1="384.80" y1="493.60" x2="387.40" y2="493.60" stroke="#231f20" stroke-width="1.1"/>
<text x="382.20" y="496.40" font-size="7.8" text-anchor="end" textLength="5.10" lengthAdjust="spacingAndGlyphs" fill="#231f20" stroke="#231f20" stroke-width="0.15">0</text>
<line x1="384.80" y1="465.80" x2="387.40" y2="465.80" stroke="#231f20" stroke-width="1.1"/>
<text x="382.20" y="468.60" font-size="7.8" text-anchor="end" textLength="10.20" lengthAdjust="spacingAndGlyphs" fill="#231f20" stroke="#231f20" stroke-width="0.15">20</text>
<line x1="384.80" y1="438.00" x2="387.40" y2="438.00" stroke="#231f20" stroke-width="1.1"/>
<text x="382.20" y="440.80" font-size="7.8" text-anchor="end" textLength="10.20" lengthAdjust="spacingAndGlyphs" fill="#231f20" stroke="#231f20" stroke-width="0.15">40</text>
<line x1="384.80" y1="410.20" x2="387.40" y2="410.20" stroke="#231f20" stroke-width="1.1"/>
<text x="382.20" y="413.00" font-size="7.8" text-anchor="end" textLength="10.20" lengthAdjust="spacingAndGlyphs" fill="#231f20" stroke="#231f20" stroke-width="0.15">60</text>
<line x1="423.10" y1="407.00" x2="423.10" y2="493.60" stroke="#c4c4c4" stroke-width="0.8"/>
<line x1="457.70" y1="407.00" x2="457.70" y2="493.60" stroke="#c4c4c4" stroke-width="0.8"/>
<rect x="393.70" y="453.29" width="10.70" height="40.31" fill="#8898c6"/>
<line x1="399.05" y1="448.43" x2="399.05" y2="458.16" stroke="#2d5597" stroke-width="0.9"/>
<line x1="396.85" y1="448.43" x2="401.25" y2="448.43" stroke="#2d5597" stroke-width="0.9"/>
<line x1="396.85" y1="458.16" x2="401.25" y2="458.16" stroke="#2d5597" stroke-width="0.7"/>
<g fill="#2d5597"><circle cx="401.3" cy="449.0" r="0.65"/><circle cx="396.5" cy="457.2" r="0.65"/><circle cx="400.7" cy="453.1" r="0.65"/><circle cx="401.1" cy="447.6" r="0.65"/></g>
<rect x="406.90" y="481.37" width="10.70" height="12.23" fill="#ec8a78"/>
<line x1="412.25" y1="476.50" x2="412.25" y2="486.23" stroke="#cf3a35" stroke-width="0.9"/>
<line x1="410.05" y1="476.50" x2="414.45" y2="476.50" stroke="#cf3a35" stroke-width="0.9"/>
<line x1="410.05" y1="486.23" x2="414.45" y2="486.23" stroke="#cf3a35" stroke-width="0.7"/>
<g fill="#cf3a35"><circle cx="410.8" cy="478.7" r="0.65"/><circle cx="411.8" cy="477.2" r="0.65"/><circle cx="409.7" cy="479.3" r="0.65"/><circle cx="414.6" cy="487.5" r="0.65"/></g>
<rect x="428.60" y="437.31" width="10.70" height="56.30" fill="#8898c6"/>
<line x1="433.95" y1="433.83" x2="433.95" y2="440.78" stroke="#2d5597" stroke-width="0.9"/>
<line x1="431.75" y1="433.83" x2="436.15" y2="433.83" stroke="#2d5597" stroke-width="0.9"/>
<line x1="431.75" y1="440.78" x2="436.15" y2="440.78" stroke="#2d5597" stroke-width="0.7"/>
<g fill="#2d5597"><circle cx="435.4" cy="437.1" r="0.65"/><circle cx="432.5" cy="441.5" r="0.65"/><circle cx="434.1" cy="439.4" r="0.65"/><circle cx="431.1" cy="434.7" r="0.65"/></g>
<rect x="442.00" y="448.43" width="10.70" height="45.18" fill="#ec8a78"/>
<line x1="447.35" y1="442.87" x2="447.35" y2="453.99" stroke="#cf3a35" stroke-width="0.9"/>
<line x1="445.15" y1="442.87" x2="449.55" y2="442.87" stroke="#cf3a35" stroke-width="0.9"/>
<line x1="445.15" y1="453.99" x2="449.55" y2="453.99" stroke="#cf3a35" stroke-width="0.7"/>
<g fill="#cf3a35"><circle cx="449.4" cy="452.7" r="0.65"/><circle cx="449.6" cy="449.9" r="0.65"/><circle cx="446.9" cy="449.6" r="0.65"/><circle cx="449.4" cy="445.6" r="0.65"/></g>
<rect x="463.70" y="425.49" width="10.70" height="68.11" fill="#8898c6"/>
<line x1="469.05" y1="420.62" x2="469.05" y2="430.36" stroke="#2d5597" stroke-width="0.9"/>
<line x1="466.85" y1="420.62" x2="471.25" y2="420.62" stroke="#2d5597" stroke-width="0.9"/>
<line x1="466.85" y1="430.36" x2="471.25" y2="430.36" stroke="#2d5597" stroke-width="0.7"/>
<g fill="#2d5597"><circle cx="469.3" cy="422.7" r="0.65"/><circle cx="470.7" cy="419.3" r="0.65"/><circle cx="470.2" cy="431.2" r="0.65"/><circle cx="466.2" cy="426.7" r="0.65"/></g>
<rect x="477.00" y="439.39" width="10.70" height="54.21" fill="#ec8a78"/>
<line x1="482.35" y1="435.22" x2="482.35" y2="443.56" stroke="#cf3a35" stroke-width="0.9"/>
<line x1="480.15" y1="435.22" x2="484.55" y2="435.22" stroke="#cf3a35" stroke-width="0.9"/>
<line x1="480.15" y1="443.56" x2="484.55" y2="443.56" stroke="#cf3a35" stroke-width="0.7"/>
<g fill="#cf3a35"><circle cx="483.2" cy="443.2" r="0.65"/><circle cx="482.9" cy="436.8" r="0.65"/><circle cx="481.8" cy="444.4" r="0.65"/><circle cx="484.8" cy="435.4" r="0.65"/></g>
<line x1="385.80" y1="493.60" x2="494.30" y2="493.60" stroke="#231f20" stroke-width="1.5"/>
<text x="412.25" y="475.60" font-size="7.5" text-anchor="middle" fill="#231f20" stroke="#231f20" stroke-width="0.15">***</text>
<text x="447.35" y="442.60" font-size="7.5" text-anchor="middle" fill="#231f20" stroke="#231f20" stroke-width="0.15">*</text>
<text x="482.35" y="434.00" font-size="7.5" text-anchor="middle" fill="#231f20" stroke="#231f20" stroke-width="0.15">*</text>
<text x="366.50" y="450.40" font-size="9.3" text-anchor="middle" textLength="42.60" lengthAdjust="spacingAndGlyphs" fill="#231f20" stroke="#231f20" stroke-width="0.15" font-weight="bold" transform="rotate(-90 366.50 450.40)">% Aggregation</text>
<text x="67.60" y="502.60" font-size="7.6" text-anchor="middle" textLength="9.40" lengthAdjust="spacingAndGlyphs" fill="#231f20" stroke="#231f20" stroke-width="0.15">10</text>
<text x="102.70" y="502.60" font-size="7.6" text-anchor="middle" textLength="9.40" lengthAdjust="spacingAndGlyphs" fill="#231f20" stroke="#231f20" stroke-width="0.15">20</text>
<text x="133.40" y="503.40" font-size="7.8" textLength="26.80" lengthAdjust="spacingAndGlyphs" fill="#231f20" stroke="#231f20" stroke-width="0.15">40 (µM)</text>
<line x1="53.10" y1="505.40" x2="146.40" y2="505.40" stroke="#3a3a3a" stroke-width="1.1"/>
<text x="100.00" y="513.30" font-size="7.8" text-anchor="middle" textLength="14.80" lengthAdjust="spacingAndGlyphs" fill="#231f20" stroke="#231f20" stroke-width="0.15">ADP</text>
<text x="236.80" y="503.00" font-size="7.6" text-anchor="middle" textLength="15.40" lengthAdjust="spacingAndGlyphs" fill="#231f20" stroke="#231f20" stroke-width="0.15">0.02</text>
<text x="271.80" y="503.00" font-size="7.6" text-anchor="middle" textLength="15.30" lengthAdjust="spacingAndGlyphs" fill="#231f20" stroke="#231f20" stroke-width="0.15">0.05</text>
<text x="302.80" y="503.30" font-size="7.8" textLength="35.30" lengthAdjust="spacingAndGlyphs" fill="#231f20" stroke="#231f20" stroke-width="0.15">0.1 (U/mL)</text>
<line x1="221.60" y1="506.00" x2="322.60" y2="506.00" stroke="#3a3a3a" stroke-width="1.1"/>
<text x="272.10" y="513.30" font-size="7.8" text-anchor="middle" textLength="31.00" lengthAdjust="spacingAndGlyphs" fill="#231f20" stroke="#231f20" stroke-width="0.15">Thrombin</text>
<text x="405.30" y="503.00" font-size="7.6" text-anchor="middle" textLength="11.40" lengthAdjust="spacingAndGlyphs" fill="#231f20" stroke="#231f20" stroke-width="0.15">0.5</text>
<text x="440.80" y="503.00" font-size="7.6" text-anchor="middle" textLength="4.10" lengthAdjust="spacingAndGlyphs" fill="#231f20" stroke="#231f20" stroke-width="0.15">2</text>
<text x="475.10" y="503.30" font-size="7.8" textLength="32.20" lengthAdjust="spacingAndGlyphs" fill="#231f20" stroke="#231f20" stroke-width="0.15">4 (µg/mL)</text>
<line x1="391.60" y1="506.00" x2="488.60" y2="506.00" stroke="#3a3a3a" stroke-width="1.1"/>
<text x="440.80" y="513.30" font-size="7.8" text-anchor="middle" textLength="31.00" lengthAdjust="spacingAndGlyphs" fill="#231f20" stroke="#231f20" stroke-width="0.15">Collagen</text>
<rect x="57.40" y="530.30" width="5.40" height="3.80" fill="#1d4a8a"/>
<text x="66.20" y="534.50" font-size="7.8" textLength="50.40" lengthAdjust="spacingAndGlyphs" fill="#231f20" stroke="#231f20" stroke-width="0.15"><tspan font-style="italic">Actn1</tspan><tspan font-size="4.29" dy="-2.96">fl/fl</tspan><tspan dy="2.96"> (n = 12)</tspan></text>
<rect x="122.50" y="530.30" width="5.40" height="3.80" fill="#c8203c"/>
<text x="131.80" y="534.50" font-size="7.8" textLength="69.50" lengthAdjust="spacingAndGlyphs" fill="#231f20" stroke="#231f20" stroke-width="0.15">PF4-<tspan font-style="italic">Actn1</tspan><tspan font-size="4.29" dy="-2.96">−/−</tspan><tspan dy="2.96"> (n = 12)</tspan></text>
<line x1="49.90" y1="541.40" x2="49.90" y2="607.20" stroke="#231f20" stroke-width="1.3"/>
<line x1="47.30" y1="606.60" x2="49.90" y2="606.60" stroke="#231f20" stroke-width="1.1"/>
<text x="43.00" y="609.40" font-size="7.8" text-anchor="end" textLength="10.60" lengthAdjust="spacingAndGlyphs" fill="#231f20" stroke="#231f20" stroke-width="0.15">0.0</text>
<line x1="47.30" y1="585.20" x2="49.90" y2="585.20" stroke="#231f20" stroke-width="1.1"/>
<text x="43.00" y="588.00" font-size="7.8" text-anchor="end" textLength="10.60" lengthAdjust="spacingAndGlyphs" fill="#231f20" stroke="#231f20" stroke-width="0.15">0.1</text>
<line x1="47.30" y1="563.80" x2="49.90" y2="563.80" stroke="#231f20" stroke-width="1.1"/>
<text x="43.00" y="566.60" font-size="7.8" text-anchor="end" textLength="10.60" lengthAdjust="spacingAndGlyphs" fill="#231f20" stroke="#231f20" stroke-width="0.15">0.2</text>
<line x1="47.30" y1="542.40" x2="49.90" y2="542.40" stroke="#231f20" stroke-width="1.1"/>
<text x="43.00" y="545.20" font-size="7.8" text-anchor="end" textLength="10.60" lengthAdjust="spacingAndGlyphs" fill="#231f20" stroke="#231f20" stroke-width="0.15">0.3</text>
<line x1="75.70" y1="541.40" x2="75.70" y2="606.60" stroke="#c4c4c4" stroke-width="0.8"/>
<line x1="101.60" y1="541.40" x2="101.60" y2="606.60" stroke="#c4c4c4" stroke-width="0.8"/>
<rect x="53.20" y="605.60" width="8.00" height="1.00" fill="#1d4a8a"/>
<rect x="63.50" y="605.60" width="8.00" height="1.00" fill="#c8203c"/>
<rect x="79.40" y="594.83" width="8.00" height="11.77" fill="#8898c6"/>
<line x1="83.40" y1="593.55" x2="83.40" y2="596.11" stroke="#2d5597" stroke-width="0.9"/>
<line x1="81.40" y1="593.55" x2="85.40" y2="593.55" stroke="#2d5597" stroke-width="0.9"/>
<line x1="81.40" y1="596.11" x2="85.40" y2="596.11" stroke="#2d5597" stroke-width="0.7"/>
<g fill="#2d5597"><circle cx="81.6" cy="593.4" r="0.55"/><circle cx="81.3" cy="594.6" r="0.55"/><circle cx="81.8" cy="596.2" r="0.55"/><circle cx="84.1" cy="593.5" r="0.55"/><circle cx="83.6" cy="594.2" r="0.55"/><circle cx="83.4" cy="593.8" r="0.55"/><circle cx="81.9" cy="593.7" r="0.55"/></g>
<rect x="89.70" y="598.68" width="8.00" height="7.92" fill="#ec8a78"/>
<line x1="93.70" y1="597.40" x2="93.70" y2="599.97" stroke="#cf3a35" stroke-width="0.9"/>
<line x1="91.70" y1="597.40" x2="95.70" y2="597.40" stroke="#cf3a35" stroke-width="0.9"/>
<line x1="91.70" y1="599.97" x2="95.70" y2="599.97" stroke="#cf3a35" stroke-width="0.7"/>
<g fill="#cf3a35"><circle cx="93.2" cy="599.4" r="0.55"/><circle cx="93.9" cy="597.1" r="0.55"/><circle cx="94.6" cy="600.0" r="0.55"/><circle cx="94.9" cy="599.7" r="0.55"/><circle cx="91.5" cy="598.6" r="0.55"/><circle cx="91.7" cy="599.6" r="0.55"/><circle cx="92.2" cy="599.4" r="0.55"/></g>
<rect x="105.60" y="587.77" width="8.00" height="18.83" fill="#8898c6"/>
<line x1="109.60" y1="585.20" x2="109.60" y2="590.34" stroke="#2d5597" stroke-width="0.9"/>
<line x1="107.60" y1="585.20" x2="111.60" y2="585.20" stroke="#2d5597" stroke-width="0.9"/>
<line x1="107.60" y1="590.34" x2="111.60" y2="590.34" stroke="#2d5597" stroke-width="0.7"/>
<g fill="#2d5597"><circle cx="108.5" cy="589.2" r="0.55"/><circle cx="108.8" cy="584.5" r="0.55"/><circle cx="109.1" cy="586.4" r="0.55"/><circle cx="111.4" cy="586.3" r="0.55"/><circle cx="109.6" cy="588.1" r="0.55"/><circle cx="111.6" cy="584.9" r="0.55"/><circle cx="110.1" cy="587.8" r="0.55"/></g>
<rect x="115.90" y="592.90" width="8.00" height="13.70" fill="#ec8a78"/>
<line x1="119.90" y1="590.76" x2="119.90" y2="595.04" stroke="#cf3a35" stroke-width="0.9"/>
<line x1="117.90" y1="590.76" x2="121.90" y2="590.76" stroke="#cf3a35" stroke-width="0.9"/>
<line x1="117.90" y1="595.04" x2="121.90" y2="595.04" stroke="#cf3a35" stroke-width="0.7"/>
<g fill="#cf3a35"><circle cx="121.0" cy="595.7" r="0.55"/><circle cx="119.0" cy="594.1" r="0.55"/><circle cx="120.0" cy="593.3" r="0.55"/><circle cx="117.9" cy="594.8" r="0.55"/><circle cx="122.0" cy="592.0" r="0.55"/><circle cx="119.1" cy="595.9" r="0.55"/><circle cx="118.1" cy="590.4" r="0.55"/></g>
<rect x="131.80" y="566.58" width="8.00" height="40.02" fill="#8898c6"/>
<line x1="135.80" y1="561.87" x2="135.80" y2="571.29" stroke="#2d5597" stroke-width="0.9"/>
<line x1="133.80" y1="561.87" x2="137.80" y2="561.87" stroke="#2d5597" stroke-width="0.9"/>
<line x1="133.80" y1="571.29" x2="137.80" y2="571.29" stroke="#2d5597" stroke-width="0.7"/>
<g fill="#2d5597"><circle cx="133.9" cy="570.7" r="0.55"/><circle cx="137.0" cy="565.9" r="0.55"/><circle cx="136.3" cy="560.3" r="0.55"/><circle cx="136.4" cy="565.8" r="0.55"/><circle cx="135.9" cy="565.1" r="0.55"/><circle cx="135.4" cy="563.0" r="0.55"/><circle cx="133.8" cy="565.7" r="0.55"/></g>
<rect x="142.10" y="577.28" width="8.00" height="29.32" fill="#ec8a78"/>
<line x1="146.10" y1="574.07" x2="146.10" y2="580.49" stroke="#cf3a35" stroke-width="0.9"/>
<line x1="144.10" y1="574.07" x2="148.10" y2="574.07" stroke="#cf3a35" stroke-width="0.9"/>
<line x1="144.10" y1="580.49" x2="148.10" y2="580.49" stroke="#cf3a35" stroke-width="0.7"/>
<g fill="#cf3a35"><circle cx="145.0" cy="579.1" r="0.55"/><circle cx="147.5" cy="579.3" r="0.55"/><circle cx="145.9" cy="574.9" r="0.55"/><circle cx="145.6" cy="577.2" r="0.55"/><circle cx="146.7" cy="581.4" r="0.55"/><circle cx="144.2" cy="577.1" r="0.55"/><circle cx="146.1" cy="579.2" r="0.55"/></g>
<line x1="48.30" y1="606.60" x2="154.70" y2="606.60" stroke="#231f20" stroke-width="1.5"/>
<text x="67.50" y="603.60" font-size="7.8" text-anchor="middle" textLength="7.70" lengthAdjust="spacingAndGlyphs" fill="#3a3a3a" stroke="#3a3a3a" stroke-width="0.15">ns</text>
<text x="93.70" y="597.10" font-size="7.5" text-anchor="middle" fill="#231f20" stroke="#231f20" stroke-width="0.15">**</text>
<text x="119.90" y="586.80" font-size="7.5" text-anchor="middle" fill="#231f20" stroke="#231f20" stroke-width="0.15">**</text>
<text x="146.10" y="572.10" font-size="7.5" text-anchor="middle" fill="#231f20" stroke="#231f20" stroke-width="0.15">**</text>
<text x="27.00" y="573.50" font-size="9.3" text-anchor="middle" textLength="55.50" lengthAdjust="spacingAndGlyphs" fill="#231f20" stroke="#231f20" stroke-width="0.15" font-weight="bold" transform="rotate(-90 27.00 573.50)">ATP secretion (mM)</text>
<line x1="218.00" y1="540.75" x2="218.00" y2="607.60" stroke="#231f20" stroke-width="1.3"/>
<line x1="215.40" y1="607.00" x2="218.00" y2="607.00" stroke="#231f20" stroke-width="1.1"/>
<text x="211.60" y="609.80" font-size="7.8" text-anchor="end" textLength="10.20" lengthAdjust="spacingAndGlyphs" fill="#231f20" stroke="#231f20" stroke-width="0.15">0.0</text>
<line x1="215.40" y1="593.95" x2="218.00" y2="593.95" stroke="#231f20" stroke-width="1.1"/>
<text x="211.60" y="596.75" font-size="7.8" text-anchor="end" textLength="10.20" lengthAdjust="spacingAndGlyphs" fill="#231f20" stroke="#231f20" stroke-width="0.15">0.1</text>
<line x1="215.40" y1="580.90" x2="218.00" y2="580.90" stroke="#231f20" stroke-width="1.1"/>
<text x="211.60" y="583.70" font-size="7.8" text-anchor="end" textLength="10.20" lengthAdjust="spacingAndGlyphs" fill="#231f20" stroke="#231f20" stroke-width="0.15">0.2</text>
<line x1="215.40" y1="567.85" x2="218.00" y2="567.85" stroke="#231f20" stroke-width="1.1"/>
<text x="211.60" y="570.65" font-size="7.8" text-anchor="end" textLength="10.20" lengthAdjust="spacingAndGlyphs" fill="#231f20" stroke="#231f20" stroke-width="0.15">0.3</text>
<line x1="215.40" y1="554.80" x2="218.00" y2="554.80" stroke="#231f20" stroke-width="1.1"/>
<text x="211.60" y="557.60" font-size="7.8" text-anchor="end" textLength="10.20" lengthAdjust="spacingAndGlyphs" fill="#231f20" stroke="#231f20" stroke-width="0.15">0.4</text>
<line x1="215.40" y1="541.75" x2="218.00" y2="541.75" stroke="#231f20" stroke-width="1.1"/>
<text x="211.60" y="544.55" font-size="7.8" text-anchor="end" textLength="10.20" lengthAdjust="spacingAndGlyphs" fill="#231f20" stroke="#231f20" stroke-width="0.15">0.5</text>
<line x1="245.70" y1="540.75" x2="245.70" y2="607.00" stroke="#c4c4c4" stroke-width="0.8"/>
<line x1="271.50" y1="540.75" x2="271.50" y2="607.00" stroke="#c4c4c4" stroke-width="0.8"/>
<line x1="297.40" y1="540.75" x2="297.40" y2="607.00" stroke="#c4c4c4" stroke-width="0.8"/>
<rect x="223.00" y="606.00" width="8.00" height="1.00" fill="#1d4a8a"/>
<rect x="233.30" y="606.00" width="8.00" height="1.00" fill="#c8203c"/>
<rect x="249.20" y="595.91" width="8.00" height="11.09" fill="#8898c6"/>
<line x1="253.20" y1="594.34" x2="253.20" y2="597.47" stroke="#2d5597" stroke-width="0.9"/>
<line x1="251.20" y1="594.34" x2="255.20" y2="594.34" stroke="#2d5597" stroke-width="0.9"/>
<line x1="251.20" y1="597.47" x2="255.20" y2="597.47" stroke="#2d5597" stroke-width="0.7"/>
<g fill="#2d5597"><circle cx="254.9" cy="597.1" r="0.55"/><circle cx="253.8" cy="597.0" r="0.55"/><circle cx="254.0" cy="597.5" r="0.55"/><circle cx="254.1" cy="596.7" r="0.55"/><circle cx="252.1" cy="597.7" r="0.55"/><circle cx="252.7" cy="596.4" r="0.55"/><circle cx="254.7" cy="597.9" r="0.55"/></g>
<rect x="259.50" y="598.91" width="8.00" height="8.09" fill="#ec8a78"/>
<line x1="263.50" y1="597.87" x2="263.50" y2="599.95" stroke="#cf3a35" stroke-width="0.9"/>
<line x1="261.50" y1="597.87" x2="265.50" y2="597.87" stroke="#cf3a35" stroke-width="0.9"/>
<line x1="261.50" y1="599.95" x2="265.50" y2="599.95" stroke="#cf3a35" stroke-width="0.7"/>
<g fill="#cf3a35"><circle cx="265.7" cy="597.5" r="0.55"/><circle cx="262.7" cy="598.4" r="0.55"/><circle cx="263.0" cy="597.9" r="0.55"/><circle cx="263.7" cy="597.7" r="0.55"/><circle cx="262.6" cy="600.2" r="0.55"/><circle cx="264.6" cy="598.8" r="0.55"/><circle cx="261.7" cy="600.2" r="0.55"/></g>
<rect x="275.40" y="590.03" width="8.00" height="16.97" fill="#8898c6"/>
<line x1="279.40" y1="587.42" x2="279.40" y2="592.64" stroke="#2d5597" stroke-width="0.9"/>
<line x1="277.40" y1="587.42" x2="281.40" y2="587.42" stroke="#2d5597" stroke-width="0.9"/>
<line x1="277.40" y1="592.64" x2="281.40" y2="592.64" stroke="#2d5597" stroke-width="0.7"/>
<g fill="#2d5597"><circle cx="280.3" cy="587.9" r="0.55"/><circle cx="278.7" cy="591.1" r="0.55"/><circle cx="280.2" cy="588.3" r="0.55"/><circle cx="281.4" cy="588.7" r="0.55"/><circle cx="278.3" cy="592.6" r="0.55"/><circle cx="277.8" cy="591.4" r="0.55"/><circle cx="278.1" cy="590.8" r="0.55"/></g>
<rect x="285.70" y="591.34" width="8.00" height="15.66" fill="#ec8a78"/>
<line x1="289.70" y1="588.08" x2="289.70" y2="594.60" stroke="#cf3a35" stroke-width="0.9"/>
<line x1="287.70" y1="588.08" x2="291.70" y2="588.08" stroke="#cf3a35" stroke-width="0.9"/>
<line x1="287.70" y1="594.60" x2="291.70" y2="594.60" stroke="#cf3a35" stroke-width="0.7"/>
<g fill="#cf3a35"><circle cx="288.7" cy="590.2" r="0.55"/><circle cx="291.7" cy="591.0" r="0.55"/><circle cx="289.4" cy="592.4" r="0.55"/><circle cx="288.7" cy="588.4" r="0.55"/><circle cx="289.2" cy="589.3" r="0.55"/><circle cx="288.3" cy="595.5" r="0.55"/><circle cx="287.6" cy="594.2" r="0.55"/></g>
<rect x="301.60" y="569.15" width="8.00" height="37.85" fill="#8898c6"/>
<line x1="305.60" y1="562.63" x2="305.60" y2="575.68" stroke="#2d5597" stroke-width="0.9"/>
<line x1="303.60" y1="562.63" x2="307.60" y2="562.63" stroke="#2d5597" stroke-width="0.9"/>
<line x1="303.60" y1="575.68" x2="307.60" y2="575.68" stroke="#2d5597" stroke-width="0.7"/>
<g fill="#2d5597"><circle cx="307.5" cy="572.9" r="0.55"/><circle cx="303.4" cy="569.2" r="0.55"/><circle cx="303.5" cy="571.1" r="0.55"/><circle cx="306.5" cy="564.4" r="0.55"/><circle cx="303.4" cy="570.0" r="0.55"/><circle cx="303.8" cy="565.7" r="0.55"/><circle cx="305.4" cy="576.4" r="0.55"/></g>
<rect x="311.90" y="575.03" width="8.00" height="31.97" fill="#ec8a78"/>
<line x1="315.90" y1="568.50" x2="315.90" y2="581.55" stroke="#cf3a35" stroke-width="0.9"/>
<line x1="313.90" y1="568.50" x2="317.90" y2="568.50" stroke="#cf3a35" stroke-width="0.9"/>
<line x1="313.90" y1="581.55" x2="317.90" y2="581.55" stroke="#cf3a35" stroke-width="0.7"/>
<g fill="#cf3a35"><circle cx="315.3" cy="568.4" r="0.55"/><circle cx="317.2" cy="580.9" r="0.55"/><circle cx="316.0" cy="566.8" r="0.55"/><circle cx="314.5" cy="573.3" r="0.55"/><circle cx="316.1" cy="570.0" r="0.55"/><circle cx="317.3" cy="581.3" r="0.55"/><circle cx="317.8" cy="582.0" r="0.55"/></g>
<line x1="216.40" y1="607.00" x2="324.40" y2="607.00" stroke="#231f20" stroke-width="1.5"/>
<text x="237.30" y="604.00" font-size="7.8" text-anchor="middle" textLength="7.70" lengthAdjust="spacingAndGlyphs" fill="#3a3a3a" stroke="#3a3a3a" stroke-width="0.15">ns</text>
<text x="263.50" y="596.30" font-size="7.5" text-anchor="middle" fill="#231f20" stroke="#231f20" stroke-width="0.15">***</text>
<text x="289.70" y="585.08" font-size="7.8" text-anchor="middle" textLength="7.70" lengthAdjust="spacingAndGlyphs" fill="#3a3a3a" stroke="#3a3a3a" stroke-width="0.15">ns</text>
<text x="315.90" y="559.90" font-size="7.5" text-anchor="middle" fill="#231f20" stroke="#231f20" stroke-width="0.15">*</text>
<text x="196.90" y="573.50" font-size="9.3" text-anchor="middle" textLength="55.50" lengthAdjust="spacingAndGlyphs" fill="#231f20" stroke="#231f20" stroke-width="0.15" font-weight="bold" transform="rotate(-90 196.90 573.50)">ATP secretion (mM)</text>
<line x1="386.60" y1="540.80" x2="386.60" y2="607.60" stroke="#231f20" stroke-width="1.3"/>
<line x1="384.00" y1="607.00" x2="386.60" y2="607.00" stroke="#231f20" stroke-width="1.1"/>
<text x="380.20" y="609.80" font-size="7.8" text-anchor="end" textLength="10.20" lengthAdjust="spacingAndGlyphs" fill="#231f20" stroke="#231f20" stroke-width="0.15">0.0</text>
<line x1="384.00" y1="590.70" x2="386.60" y2="590.70" stroke="#231f20" stroke-width="1.1"/>
<text x="380.20" y="593.50" font-size="7.8" text-anchor="end" textLength="10.20" lengthAdjust="spacingAndGlyphs" fill="#231f20" stroke="#231f20" stroke-width="0.15">0.1</text>
<line x1="384.00" y1="574.40" x2="386.60" y2="574.40" stroke="#231f20" stroke-width="1.1"/>
<text x="380.20" y="577.20" font-size="7.8" text-anchor="end" textLength="10.20" lengthAdjust="spacingAndGlyphs" fill="#231f20" stroke="#231f20" stroke-width="0.15">0.2</text>
<line x1="384.00" y1="558.10" x2="386.60" y2="558.10" stroke="#231f20" stroke-width="1.1"/>
<text x="380.20" y="560.90" font-size="7.8" text-anchor="end" textLength="10.20" lengthAdjust="spacingAndGlyphs" fill="#231f20" stroke="#231f20" stroke-width="0.15">0.3</text>
<line x1="384.00" y1="541.80" x2="386.60" y2="541.80" stroke="#231f20" stroke-width="1.1"/>
<text x="380.20" y="544.60" font-size="7.8" text-anchor="end" textLength="10.20" lengthAdjust="spacingAndGlyphs" fill="#231f20" stroke="#231f20" stroke-width="0.15">0.4</text>
<line x1="413.70" y1="540.80" x2="413.70" y2="607.00" stroke="#d6d6d6" stroke-width="1.6"/>
<line x1="439.80" y1="540.80" x2="439.80" y2="607.00" stroke="#d6d6d6" stroke-width="1.6"/>
<line x1="466.20" y1="540.80" x2="466.20" y2="607.00" stroke="#d6d6d6" stroke-width="1.6"/>
<rect x="391.50" y="606.00" width="8.00" height="1.00" fill="#1d4a8a"/>
<rect x="401.80" y="606.00" width="8.00" height="1.00" fill="#c8203c"/>
<rect x="417.70" y="595.26" width="8.00" height="11.74" fill="#8898c6"/>
<line x1="421.70" y1="594.45" x2="421.70" y2="596.08" stroke="#2d5597" stroke-width="0.9"/>
<line x1="419.70" y1="594.45" x2="423.70" y2="594.45" stroke="#2d5597" stroke-width="0.9"/>
<line x1="419.70" y1="596.08" x2="423.70" y2="596.08" stroke="#2d5597" stroke-width="0.7"/>
<g fill="#2d5597"><circle cx="419.5" cy="595.5" r="0.55"/><circle cx="419.8" cy="596.2" r="0.55"/><circle cx="422.8" cy="595.9" r="0.55"/><circle cx="420.3" cy="594.3" r="0.55"/><circle cx="423.1" cy="595.5" r="0.55"/><circle cx="422.2" cy="595.2" r="0.55"/><circle cx="423.0" cy="594.9" r="0.55"/></g>
<rect x="428.00" y="598.52" width="8.00" height="8.48" fill="#ec8a78"/>
<line x1="432.00" y1="597.22" x2="432.00" y2="599.83" stroke="#cf3a35" stroke-width="0.9"/>
<line x1="430.00" y1="597.22" x2="434.00" y2="597.22" stroke="#cf3a35" stroke-width="0.9"/>
<line x1="430.00" y1="599.83" x2="434.00" y2="599.83" stroke="#cf3a35" stroke-width="0.7"/>
<g fill="#cf3a35"><circle cx="431.0" cy="598.0" r="0.55"/><circle cx="431.1" cy="599.0" r="0.55"/><circle cx="433.7" cy="597.0" r="0.55"/><circle cx="430.1" cy="598.6" r="0.55"/><circle cx="432.8" cy="597.4" r="0.55"/><circle cx="431.0" cy="596.9" r="0.55"/><circle cx="429.9" cy="598.5" r="0.55"/></g>
<rect x="443.90" y="586.95" width="8.00" height="20.05" fill="#8898c6"/>
<line x1="447.90" y1="585.00" x2="447.90" y2="588.91" stroke="#2d5597" stroke-width="0.9"/>
<line x1="445.90" y1="585.00" x2="449.90" y2="585.00" stroke="#2d5597" stroke-width="0.9"/>
<line x1="445.90" y1="588.91" x2="449.90" y2="588.91" stroke="#2d5597" stroke-width="0.7"/>
<g fill="#2d5597"><circle cx="448.7" cy="587.8" r="0.55"/><circle cx="446.4" cy="584.8" r="0.55"/><circle cx="449.8" cy="587.2" r="0.55"/><circle cx="447.5" cy="588.0" r="0.55"/><circle cx="448.9" cy="587.1" r="0.55"/><circle cx="446.0" cy="588.7" r="0.55"/><circle cx="446.6" cy="584.4" r="0.55"/></g>
<rect x="454.20" y="590.05" width="8.00" height="16.95" fill="#ec8a78"/>
<line x1="458.20" y1="588.42" x2="458.20" y2="591.68" stroke="#cf3a35" stroke-width="0.9"/>
<line x1="456.20" y1="588.42" x2="460.20" y2="588.42" stroke="#cf3a35" stroke-width="0.9"/>
<line x1="456.20" y1="591.68" x2="460.20" y2="591.68" stroke="#cf3a35" stroke-width="0.7"/>
<g fill="#cf3a35"><circle cx="457.5" cy="590.2" r="0.55"/><circle cx="458.8" cy="588.6" r="0.55"/><circle cx="459.1" cy="590.0" r="0.55"/><circle cx="456.7" cy="591.6" r="0.55"/><circle cx="459.6" cy="591.9" r="0.55"/><circle cx="459.0" cy="588.8" r="0.55"/><circle cx="459.4" cy="591.9" r="0.55"/></g>
<rect x="470.10" y="566.74" width="8.00" height="40.26" fill="#8898c6"/>
<line x1="474.10" y1="563.48" x2="474.10" y2="570.00" stroke="#2d5597" stroke-width="0.9"/>
<line x1="472.10" y1="563.48" x2="476.10" y2="563.48" stroke="#2d5597" stroke-width="0.9"/>
<line x1="472.10" y1="570.00" x2="476.10" y2="570.00" stroke="#2d5597" stroke-width="0.7"/>
<g fill="#2d5597"><circle cx="474.2" cy="570.5" r="0.55"/><circle cx="476.2" cy="565.7" r="0.55"/><circle cx="476.1" cy="570.7" r="0.55"/><circle cx="475.4" cy="562.3" r="0.55"/><circle cx="473.4" cy="567.8" r="0.55"/><circle cx="474.6" cy="569.1" r="0.55"/><circle cx="474.8" cy="563.6" r="0.55"/></g>
<rect x="480.40" y="572.77" width="8.00" height="34.23" fill="#ec8a78"/>
<line x1="484.40" y1="569.51" x2="484.40" y2="576.03" stroke="#cf3a35" stroke-width="0.9"/>
<line x1="482.40" y1="569.51" x2="486.40" y2="569.51" stroke="#cf3a35" stroke-width="0.9"/>
<line x1="482.40" y1="576.03" x2="486.40" y2="576.03" stroke="#cf3a35" stroke-width="0.7"/>
<g fill="#cf3a35"><circle cx="486.3" cy="573.1" r="0.55"/><circle cx="486.1" cy="570.1" r="0.55"/><circle cx="486.6" cy="573.3" r="0.55"/><circle cx="485.6" cy="575.0" r="0.55"/><circle cx="486.1" cy="571.5" r="0.55"/><circle cx="482.5" cy="571.9" r="0.55"/><circle cx="483.0" cy="573.1" r="0.55"/></g>
<line x1="385.00" y1="607.00" x2="492.70" y2="607.00" stroke="#231f20" stroke-width="1.5"/>
<text x="405.80" y="604.00" font-size="7.8" text-anchor="middle" textLength="7.70" lengthAdjust="spacingAndGlyphs" fill="#3a3a3a" stroke="#3a3a3a" stroke-width="0.15">ns</text>
<text x="432.00" y="595.40" font-size="7.5" text-anchor="middle" fill="#231f20" stroke="#231f20" stroke-width="0.15">**</text>
<text x="458.20" y="585.30" font-size="7.5" text-anchor="middle" fill="#231f20" stroke="#231f20" stroke-width="0.15">**</text>
<text x="484.40" y="565.40" font-size="7.5" text-anchor="middle" fill="#231f20" stroke="#231f20" stroke-width="0.15">**</text>
<text x="365.60" y="573.50" font-size="9.3" text-anchor="middle" textLength="55.50" lengthAdjust="spacingAndGlyphs" fill="#231f20" stroke="#231f20" stroke-width="0.15" font-weight="bold" transform="rotate(-90 365.60 573.50)">ATP secretion (mM)</text>
<text x="61.95" y="616.70" font-size="7.6" text-anchor="middle" textLength="3.50" lengthAdjust="spacingAndGlyphs" fill="#231f20" stroke="#231f20" stroke-width="0.15">0</text>
<text x="88.55" y="616.70" font-size="7.6" text-anchor="middle" textLength="8.10" lengthAdjust="spacingAndGlyphs" fill="#231f20" stroke="#231f20" stroke-width="0.15">10</text>
<text x="115.05" y="616.70" font-size="7.6" text-anchor="middle" textLength="8.90" lengthAdjust="spacingAndGlyphs" fill="#231f20" stroke="#231f20" stroke-width="0.15">20</text>
<text x="136.20" y="616.20" font-size="7.8" textLength="26.00" lengthAdjust="spacingAndGlyphs" fill="#231f20" stroke="#231f20" stroke-width="0.15">40 (µM)</text>
<line x1="53.00" y1="618.80" x2="146.60" y2="618.80" stroke="#3a3a3a" stroke-width="1.1"/>
<text x="100.00" y="627.00" font-size="7.8" text-anchor="middle" textLength="14.80" lengthAdjust="spacingAndGlyphs" fill="#231f20" stroke="#231f20" stroke-width="0.15">ADP</text>
<text x="232.15" y="616.40" font-size="7.6" text-anchor="middle" textLength="3.70" lengthAdjust="spacingAndGlyphs" fill="#231f20" stroke="#231f20" stroke-width="0.15">0</text>
<text x="258.05" y="616.40" font-size="7.6" text-anchor="middle" textLength="15.30" lengthAdjust="spacingAndGlyphs" fill="#231f20" stroke="#231f20" stroke-width="0.15">0.02</text>
<text x="285.00" y="616.40" font-size="7.6" text-anchor="middle" textLength="15.60" lengthAdjust="spacingAndGlyphs" fill="#231f20" stroke="#231f20" stroke-width="0.15">0.05</text>
<text x="305.10" y="616.30" font-size="7.8" textLength="36.10" lengthAdjust="spacingAndGlyphs" fill="#231f20" stroke="#231f20" stroke-width="0.15">0.1 (U/mL)</text>
<line x1="223.00" y1="618.60" x2="316.20" y2="618.60" stroke="#3a3a3a" stroke-width="1.1"/>
<text x="269.60" y="626.50" font-size="7.8" text-anchor="middle" textLength="30.80" lengthAdjust="spacingAndGlyphs" fill="#231f20" stroke="#231f20" stroke-width="0.15">Thrombin</text>
<text x="400.55" y="616.40" font-size="7.6" text-anchor="middle" textLength="3.50" lengthAdjust="spacingAndGlyphs" fill="#231f20" stroke="#231f20" stroke-width="0.15">0</text>
<text x="426.65" y="616.40" font-size="7.6" text-anchor="middle" textLength="10.70" lengthAdjust="spacingAndGlyphs" fill="#231f20" stroke="#231f20" stroke-width="0.15">0.5</text>
<text x="452.10" y="616.40" font-size="7.6" text-anchor="middle" textLength="4.00" lengthAdjust="spacingAndGlyphs" fill="#231f20" stroke="#231f20" stroke-width="0.15">2</text>
<text x="478.90" y="616.60" font-size="7.8" text-anchor="middle" textLength="3.80" lengthAdjust="spacingAndGlyphs" fill="#231f20" stroke="#231f20" stroke-width="0.15">4</text>
<text x="485.90" y="616.60" font-size="7.8" textLength="26.20" lengthAdjust="spacingAndGlyphs" fill="#231f20" stroke="#231f20" stroke-width="0.15">(µg/mL)</text>
<line x1="391.20" y1="618.90" x2="484.40" y2="618.90" stroke="#3a3a3a" stroke-width="1.1"/>
<text x="438.40" y="626.50" font-size="7.8" text-anchor="middle" textLength="30.30" lengthAdjust="spacingAndGlyphs" fill="#231f20" stroke="#231f20" stroke-width="0.15">Collagen</text>
</svg></body></html>
